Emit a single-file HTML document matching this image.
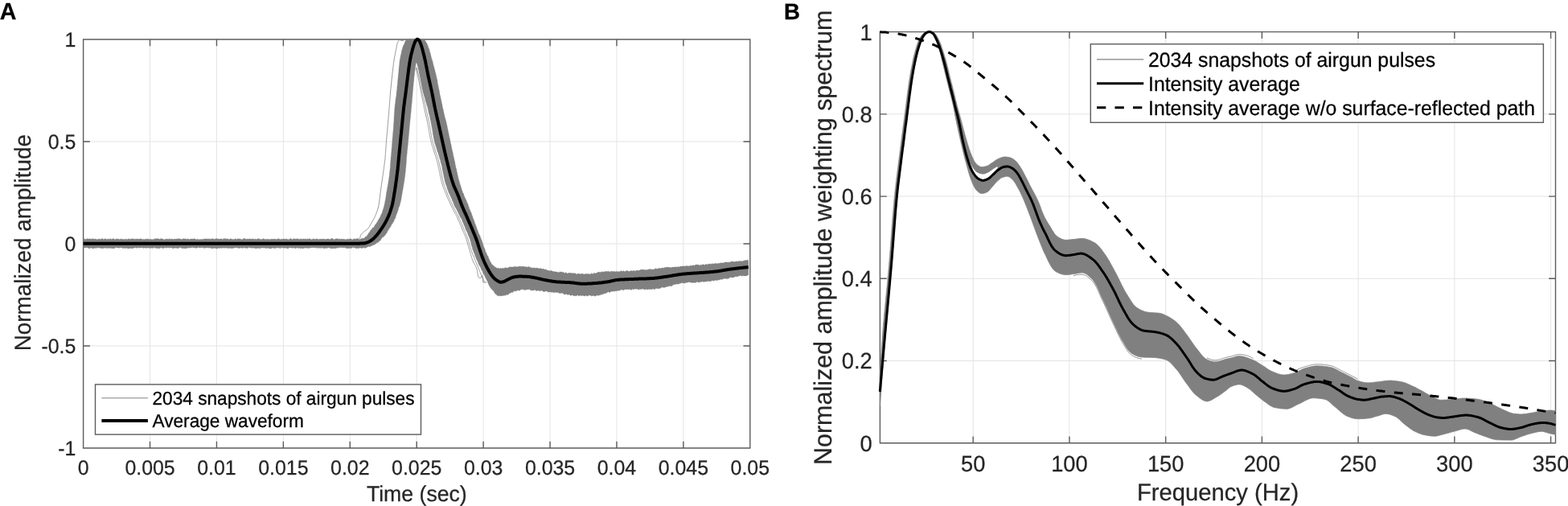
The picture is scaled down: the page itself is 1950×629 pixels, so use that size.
<!DOCTYPE html>
<html><head><meta charset="utf-8"><title>Figure</title>
<style>
html,body{margin:0;padding:0;background:#fff;}
body{width:1950px;height:629px;overflow:hidden;}
svg{display:block;}
text{font-family:'Liberation Sans', Arial, Helvetica, sans-serif;text-rendering:geometricPrecision;}
</style></head><body>
<svg width="1950" height="629" viewBox="0 0 1950 629">
<rect x="0" y="0" width="1950" height="629" fill="#ffffff"/>
<g id="panelA">
<path d="M186.52,49.0V557.0M269.44,49.0V557.0M352.36,49.0V557.0M435.28,49.0V557.0M518.20,49.0V557.0M601.12,49.0V557.0M684.04,49.0V557.0M766.96,49.0V557.0M849.88,49.0V557.0M103.6,176.00H932.8M103.6,303.00H932.8M103.6,430.00H932.8" stroke="#e3e3e3" stroke-width="0.95" fill="none"/>
<path d="M103.6,49.0H932.8V557.0H103.6ZM186.52,557.0v-8.3M186.52,49.0v8.3M269.44,557.0v-8.3M269.44,49.0v8.3M352.36,557.0v-8.3M352.36,49.0v8.3M435.28,557.0v-8.3M435.28,49.0v8.3M518.20,557.0v-8.3M518.20,49.0v8.3M601.12,557.0v-8.3M601.12,49.0v8.3M684.04,557.0v-8.3M684.04,49.0v8.3M766.96,557.0v-8.3M766.96,49.0v8.3M849.88,557.0v-8.3M849.88,49.0v8.3M103.6,176.00h8.3M932.8,176.00h-8.3M103.6,303.00h8.3M932.8,303.00h-8.3M103.6,430.00h8.3M932.8,430.00h-8.3" stroke="#5c5c5c" stroke-width="1.4" fill="none" stroke-linecap="butt"/>
<path d="M103.6,296.5 L104.8,296.7 L106.0,297.5 L107.2,297.2 L108.4,296.5 L109.6,297.0 L110.8,297.1 L112.0,296.6 L113.2,297.4 L114.4,296.6 L115.6,296.9 L116.8,297.1 L118.0,297.0 L119.2,297.2 L120.4,297.4 L121.6,297.7 L122.8,296.8 L124.0,297.3 L125.2,297.4 L126.4,296.8 L127.6,296.4 L128.8,297.8 L130.0,296.8 L131.2,296.8 L132.4,297.6 L133.7,297.2 L134.9,297.1 L136.1,297.5 L137.3,296.4 L138.5,297.4 L139.7,296.9 L140.9,296.5 L142.1,297.3 L143.3,297.7 L144.5,296.7 L145.7,297.3 L146.9,296.8 L148.1,297.4 L149.3,297.4 L150.5,296.7 L151.7,297.6 L152.9,297.3 L154.1,297.4 L155.3,297.5 L156.5,297.0 L157.7,297.5 L158.9,297.6 L160.1,296.5 L161.3,297.6 L162.5,297.0 L163.7,297.1 L164.9,296.6 L166.1,297.4 L167.3,296.8 L168.5,297.6 L169.7,296.8 L170.9,297.2 L172.1,297.0 L173.3,297.3 L174.5,296.7 L175.7,296.7 L176.9,297.4 L178.1,297.5 L179.3,297.2 L180.5,297.7 L181.7,296.7 L182.9,297.6 L184.1,296.6 L185.3,297.8 L186.5,297.3 L187.7,297.2 L188.9,297.8 L190.1,297.5 L191.4,297.5 L192.6,296.5 L193.8,296.9 L195.0,296.5 L196.2,296.7 L197.4,296.7 L198.6,297.6 L199.8,296.6 L201.0,296.8 L202.2,297.1 L203.4,297.6 L204.6,297.8 L205.8,297.4 L207.0,296.7 L208.2,297.2 L209.4,297.4 L210.6,296.5 L211.8,297.4 L213.0,296.9 L214.2,297.2 L215.4,297.3 L216.6,297.3 L217.8,297.1 L219.0,297.2 L220.2,296.7 L221.4,297.1 L222.6,296.6 L223.8,297.1 L225.0,297.2 L226.2,297.5 L227.4,297.0 L228.6,296.4 L229.8,297.1 L231.0,296.7 L232.2,297.4 L233.4,296.9 L234.6,296.9 L235.8,297.7 L237.0,297.0 L238.2,296.9 L239.4,296.9 L240.6,297.1 L241.8,296.5 L243.0,297.2 L244.2,297.7 L245.4,297.2 L246.6,297.4 L247.8,297.7 L249.1,297.6 L250.3,297.4 L251.5,297.5 L252.7,297.5 L253.9,296.8 L255.1,297.1 L256.3,296.9 L257.5,296.8 L258.7,297.2 L259.9,296.8 L261.1,297.3 L262.3,297.2 L263.5,296.5 L264.7,297.0 L265.9,296.9 L267.1,297.4 L268.3,296.5 L269.5,296.6 L270.7,297.1 L271.9,297.0 L273.1,297.3 L274.3,296.9 L275.5,296.7 L276.7,297.7 L277.9,296.7 L279.1,296.6 L280.3,296.8 L281.5,296.9 L282.7,296.7 L283.9,297.2 L285.1,297.7 L286.3,296.6 L287.5,297.0 L288.7,297.3 L289.9,297.6 L291.1,297.8 L292.3,296.6 L293.5,297.2 L294.7,297.6 L295.9,296.5 L297.1,297.2 L298.3,296.6 L299.5,297.5 L300.7,297.7 L301.9,297.2 L303.1,296.4 L304.3,296.5 L305.5,297.0 L306.8,297.6 L308.0,296.7 L309.2,297.3 L310.4,297.0 L311.6,296.8 L312.8,297.4 L314.0,296.8 L315.2,296.9 L316.4,297.5 L317.6,297.1 L318.8,297.5 L320.0,297.1 L321.2,296.6 L322.4,297.0 L323.6,297.6 L324.8,297.2 L326.0,297.8 L327.2,296.4 L328.4,296.9 L329.6,297.5 L330.8,297.4 L332.0,297.2 L333.2,297.3 L334.4,297.6 L335.6,297.4 L336.8,297.2 L338.0,297.2 L339.2,297.3 L340.4,296.9 L341.6,297.3 L342.8,297.3 L344.0,297.5 L345.2,297.1 L346.4,296.4 L347.6,297.2 L348.8,297.6 L350.0,297.3 L351.2,297.3 L352.4,296.9 L353.6,296.9 L354.8,297.4 L356.0,296.5 L357.2,297.6 L358.4,297.6 L359.6,297.7 L360.8,296.6 L362.0,296.6 L363.2,297.7 L364.5,297.0 L365.7,296.8 L366.9,296.9 L368.1,297.3 L369.3,296.6 L370.5,297.1 L371.7,297.3 L372.9,297.4 L374.1,296.4 L375.3,297.5 L376.5,297.0 L377.7,297.0 L378.9,297.2 L380.1,296.8 L381.3,297.6 L382.5,296.7 L383.7,297.2 L384.9,296.6 L386.1,297.3 L387.3,297.7 L388.5,297.6 L389.7,296.6 L390.9,297.3 L392.1,297.6 L393.3,296.7 L394.5,297.0 L395.7,297.4 L396.9,297.4 L398.1,297.0 L399.3,297.3 L400.5,297.3 L401.7,296.9 L402.9,297.3 L404.1,297.2 L405.3,297.4 L406.5,297.1 L407.8,296.9 L409.0,297.0 L410.2,297.7 L411.4,296.7 L412.6,296.6 L413.8,296.4 L415.0,297.6 L416.2,297.8 L417.4,296.7 L418.7,296.8 L419.9,296.7 L421.1,297.2 L422.3,297.1 L423.5,297.5 L424.7,296.7 L425.9,297.6 L427.1,297.0 L428.3,297.5 L429.5,297.5 L430.7,297.7 L431.9,297.1 L433.1,297.3 L434.3,297.2 L435.5,296.7 L436.7,297.1 L437.9,297.7 L439.1,297.7 L440.3,296.4 L441.5,297.3 L442.7,296.9 L443.8,296.6 L445.0,296.6 L446.2,297.5 L447.4,297.7 L448.6,296.9 L449.9,296.4 L451.1,296.2 L452.3,296.2 L453.4,295.7 L454.4,294.2 L455.3,293.9 L456.0,294.0 L456.7,292.4 L457.4,291.6 L458.0,290.6 L458.7,289.4 L459.5,288.6 L460.2,287.4 L461.0,286.0 L461.7,285.0 L462.5,285.2 L463.3,282.9 L464.1,283.0 L465.0,282.4 L465.8,280.6 L466.5,279.4 L467.2,278.9 L467.8,277.8 L468.4,277.0 L469.0,275.9 L469.6,275.5 L470.2,273.3 L470.9,273.5 L471.5,271.2 L472.1,271.4 L472.7,269.5 L473.2,269.0 L473.7,266.9 L474.2,266.4 L474.6,265.6 L475.1,264.4 L475.5,263.5 L475.9,261.5 L476.3,260.7 L476.7,259.8 L477.0,257.9 L477.4,257.8 L477.7,256.1 L478.0,254.7 L478.2,253.5 L478.5,252.9 L478.7,250.9 L478.9,250.0 L479.2,248.9 L479.4,247.6 L479.6,247.1 L479.8,245.7 L479.9,245.0 L480.1,243.5 L480.3,241.8 L480.5,240.6 L480.7,239.1 L480.9,238.1 L481.1,237.4 L481.3,236.4 L481.5,234.6 L481.7,233.5 L481.9,233.0 L482.1,232.0 L482.4,229.6 L482.6,228.4 L482.8,228.2 L482.9,226.6 L483.1,225.3 L483.3,224.4 L483.5,223.4 L483.6,221.3 L483.8,221.3 L484.0,220.1 L484.1,218.2 L484.3,217.1 L484.4,215.6 L484.5,214.8 L484.7,213.1 L484.8,212.4 L484.9,211.7 L485.0,209.9 L485.2,209.2 L485.3,207.1 L485.4,206.9 L485.4,204.6 L485.5,203.5 L485.6,203.1 L485.7,201.3 L485.8,199.8 L485.9,198.6 L486.0,198.4 L486.1,196.1 L486.2,194.9 L486.3,195.0 L486.4,193.6 L486.5,191.8 L486.6,190.3 L486.7,190.1 L486.8,188.8 L486.9,187.4 L487.0,186.0 L487.1,184.8 L487.2,184.3 L487.3,182.4 L487.4,180.6 L487.5,179.4 L487.6,178.9 L487.7,177.9 L487.8,176.6 L487.9,175.5 L488.0,173.7 L488.1,172.6 L488.2,171.3 L488.3,170.2 L488.4,168.9 L488.5,168.5 L488.6,166.3 L488.7,165.2 L488.8,164.7 L488.9,163.1 L489.0,161.8 L489.1,161.5 L489.2,160.2 L489.3,158.0 L489.4,156.7 L489.5,156.0 L489.5,154.9 L489.6,153.4 L489.7,152.6 L489.8,151.5 L489.9,150.5 L489.9,148.5 L490.0,147.8 L490.1,145.8 L490.1,144.6 L490.2,143.4 L490.3,142.3 L490.3,142.0 L490.4,140.2 L490.5,139.2 L490.6,138.0 L490.7,136.4 L490.7,135.0 L490.8,134.0 L491.0,133.7 L491.1,131.8 L491.2,130.7 L491.3,129.3 L491.5,128.8 L491.6,127.6 L491.8,125.9 L491.9,124.9 L492.1,123.5 L492.2,122.6 L492.4,121.4 L492.6,120.2 L492.7,119.5 L492.9,118.4 L493.0,115.9 L493.2,115.2 L493.3,113.5 L493.4,112.8 L493.6,112.2 L493.7,110.8 L493.8,109.5 L493.9,107.6 L494.0,107.4 L494.2,105.9 L494.3,104.3 L494.4,103.8 L494.5,101.5 L494.6,100.6 L494.7,100.2 L494.9,98.0 L495.0,96.9 L495.1,96.2 L495.2,95.3 L495.3,93.9 L495.4,92.0 L495.6,91.1 L495.7,90.5 L495.8,88.8 L495.9,87.4 L496.0,85.9 L496.1,85.1 L496.2,84.8 L496.3,82.4 L496.4,81.9 L496.5,81.2 L496.7,79.7 L496.8,77.9 L496.9,77.3 L497.1,75.3 L497.2,74.7 L497.4,73.2 L497.6,72.8 L497.8,71.6 L498.1,70.3 L498.3,68.6 L498.6,68.0 L498.9,67.1 L499.2,65.1 L499.4,64.1 L499.8,62.4 L500.1,61.2 L500.4,60.9 L500.7,58.8 L501.1,58.4 L501.5,56.6 L501.9,56.2 L502.4,55.2 L502.9,54.4 L503.4,52.5 L504.0,51.3 L504.7,50.2 L505.5,49.8 L506.4,49.6 L507.4,48.6 L508.5,48.7 L509.6,48.2 L510.9,48.4 L512.2,49.0 L513.5,49.3 L514.8,49.3 L516.1,48.0 L517.3,48.5 L518.5,49.1 L519.8,48.7 L521.1,48.5 L522.4,49.2 L523.7,49.4 L524.9,48.5 L526.0,49.1 L527.0,48.8 L527.8,49.1 L528.7,50.5 L529.4,51.2 L530.1,53.2 L530.7,53.6 L531.2,54.4 L531.7,56.1 L532.1,56.8 L532.5,57.6 L532.9,60.1 L533.3,60.1 L533.7,61.1 L534.1,62.8 L534.4,63.3 L534.8,65.5 L535.1,65.7 L535.4,66.8 L535.8,69.2 L536.1,69.8 L536.4,71.5 L536.7,72.6 L537.0,73.6 L537.3,73.7 L537.6,75.7 L538.0,76.1 L538.3,77.2 L538.6,79.5 L538.9,79.9 L539.2,81.7 L539.6,82.5 L539.9,84.1 L540.2,85.0 L540.5,86.6 L540.8,87.1 L541.1,88.8 L541.4,89.9 L541.7,90.8 L542.0,91.8 L542.2,92.9 L542.5,94.4 L542.8,94.9 L543.0,96.4 L543.3,97.9 L543.5,98.6 L543.8,99.6 L544.0,100.7 L544.2,102.8 L544.4,104.1 L544.7,105.2 L544.9,106.2 L545.1,107.3 L545.3,107.7 L545.6,110.0 L545.8,110.6 L546.0,112.1 L546.3,112.5 L546.5,114.5 L546.7,114.9 L547.0,117.2 L547.2,118.0 L547.4,119.0 L547.7,120.3 L547.9,120.9 L548.2,122.4 L548.4,123.0 L548.6,124.5 L548.9,125.7 L549.1,126.7 L549.4,128.2 L549.6,128.9 L549.9,130.0 L550.1,131.6 L550.4,133.7 L550.6,134.5 L550.9,135.3 L551.2,136.1 L551.4,137.2 L551.7,138.8 L552.0,140.3 L552.3,141.7 L552.6,142.3 L552.8,144.1 L553.1,145.2 L553.4,146.4 L553.7,146.8 L554.0,148.2 L554.3,148.9 L554.6,150.7 L554.9,151.1 L555.1,152.9 L555.4,153.6 L555.7,155.2 L555.9,156.0 L556.2,156.9 L556.4,158.7 L556.7,159.8 L556.9,161.2 L557.2,161.8 L557.4,163.5 L557.7,164.4 L557.9,165.2 L558.2,166.9 L558.4,168.4 L558.7,169.1 L558.9,170.8 L559.2,172.1 L559.4,172.2 L559.7,173.7 L559.9,174.9 L560.2,176.5 L560.4,177.6 L560.7,178.9 L560.9,179.3 L561.2,180.8 L561.4,181.8 L561.7,183.8 L561.9,184.9 L562.2,185.5 L562.4,187.5 L562.7,187.7 L563.0,188.7 L563.2,190.3 L563.5,191.9 L563.7,193.5 L564.0,194.0 L564.2,194.7 L564.5,196.5 L564.8,196.9 L565.0,199.2 L565.3,199.7 L565.5,200.5 L565.8,201.8 L566.0,203.9 L566.3,205.2 L566.5,205.4 L566.8,207.7 L567.0,208.7 L567.3,209.1 L567.5,209.9 L567.8,211.2 L568.0,212.8 L568.3,213.6 L568.6,214.8 L568.8,216.1 L569.1,218.1 L569.4,218.1 L569.7,220.5 L570.0,221.0 L570.3,222.6 L570.6,223.4 L570.9,225.2 L571.2,225.3 L571.5,226.5 L571.8,228.0 L572.2,229.2 L572.5,230.1 L572.9,231.2 L573.3,232.0 L573.7,233.7 L574.1,235.3 L574.5,236.5 L574.9,237.0 L575.3,238.9 L575.8,240.0 L576.2,240.2 L576.7,241.0 L577.1,243.1 L577.6,244.4 L578.1,245.1 L578.5,246.7 L579.0,247.1 L579.5,248.3 L579.9,248.8 L580.4,250.3 L580.8,252.2 L581.3,252.1 L581.7,253.3 L582.2,254.3 L582.6,256.0 L583.1,257.3 L583.5,258.3 L583.9,259.9 L584.4,260.8 L584.8,261.8 L585.2,262.9 L585.7,263.9 L586.1,264.4 L586.5,265.6 L586.9,267.5 L587.4,268.0 L587.8,269.4 L588.2,270.9 L588.6,271.9 L589.0,272.5 L589.4,273.7 L589.8,274.7 L590.2,276.5 L590.6,277.7 L591.0,278.1 L591.4,279.4 L591.9,280.3 L592.3,282.1 L592.7,282.8 L593.1,284.7 L593.6,285.0 L594.0,286.6 L594.5,287.7 L594.9,289.3 L595.4,290.1 L595.9,291.5 L596.3,292.1 L596.8,292.4 L597.3,294.0 L597.7,295.7 L598.1,296.2 L598.6,297.8 L599.0,298.2 L599.4,300.0 L599.8,300.8 L600.2,302.7 L600.5,302.6 L600.9,304.2 L601.3,305.9 L601.7,306.5 L602.1,307.8 L602.5,308.7 L602.9,309.5 L603.4,310.9 L603.8,312.8 L604.3,313.7 L604.8,314.2 L605.3,315.8 L605.8,317.1 L606.4,318.1 L606.9,318.2 L607.4,319.4 L607.9,321.7 L608.4,321.8 L608.9,323.6 L609.4,324.5 L609.9,325.9 L610.5,325.9 L611.2,328.0 L611.9,328.9 L612.7,329.0 L613.6,330.5 L614.5,330.4 L615.4,332.2 L616.4,332.1 L617.5,333.0 L618.7,333.6 L619.9,332.9 L621.1,334.3 L622.3,333.3 L623.5,333.4 L624.6,333.7 L625.8,333.2 L627.0,333.5 L628.2,332.6 L629.4,333.0 L630.6,333.0 L631.8,333.1 L633.0,332.1 L634.2,331.7 L635.4,331.9 L636.5,331.8 L637.7,332.1 L638.9,331.6 L640.1,331.4 L641.3,331.2 L642.5,331.8 L643.7,331.7 L644.9,330.9 L646.1,331.2 L647.4,331.0 L648.6,331.5 L649.8,331.3 L651.0,331.0 L652.2,331.6 L653.4,331.8 L654.6,331.5 L655.7,332.3 L656.9,331.4 L658.1,331.5 L659.3,332.6 L660.5,332.5 L661.7,332.9 L662.9,333.2 L664.1,332.8 L665.3,333.3 L666.5,333.2 L667.7,333.1 L668.9,333.3 L670.1,334.1 L671.3,333.4 L672.5,333.7 L673.6,334.1 L674.8,334.6 L676.0,334.0 L677.1,335.2 L678.3,334.6 L679.5,335.4 L680.6,335.8 L681.8,336.3 L683.0,336.5 L684.2,336.8 L685.3,336.2 L686.5,336.8 L687.7,337.6 L688.9,337.3 L690.1,338.0 L691.3,337.8 L692.5,338.0 L693.7,338.3 L694.8,338.9 L696.0,337.7 L697.2,338.0 L698.4,338.1 L699.6,338.4 L700.8,338.2 L702.0,339.7 L703.2,338.6 L704.4,339.2 L705.6,339.9 L706.8,339.4 L708.0,339.2 L709.2,339.3 L710.4,339.6 L711.6,339.5 L712.8,339.8 L714.0,339.8 L715.2,339.4 L716.4,340.6 L717.6,340.8 L718.8,340.3 L720.0,339.7 L721.2,340.9 L722.4,340.2 L723.6,340.3 L724.8,340.2 L726.0,341.1 L727.2,340.8 L728.4,340.3 L729.6,340.4 L730.8,340.5 L732.0,340.4 L733.2,340.7 L734.4,340.9 L735.6,339.5 L736.8,340.4 L738.0,340.2 L739.2,339.1 L740.3,339.9 L741.5,339.6 L742.7,339.1 L743.9,338.0 L745.1,338.3 L746.3,338.6 L747.5,338.2 L748.7,337.4 L749.9,338.3 L751.1,337.8 L752.3,337.5 L753.5,337.6 L754.7,337.2 L755.9,337.5 L757.1,337.0 L758.3,338.4 L759.5,337.1 L760.7,337.4 L761.9,337.3 L763.1,337.5 L764.3,337.3 L765.5,338.0 L766.7,337.0 L767.9,338.1 L769.1,337.2 L770.3,337.9 L771.5,337.0 L772.7,336.6 L773.9,337.6 L775.1,336.6 L776.3,337.3 L777.5,337.5 L778.7,336.5 L779.9,336.6 L781.1,336.9 L782.3,337.2 L783.5,337.1 L784.7,336.6 L785.9,336.6 L787.1,336.9 L788.3,335.9 L789.5,336.9 L790.7,336.7 L791.9,335.8 L793.1,336.2 L794.3,336.3 L795.5,336.1 L796.7,335.2 L797.9,335.1 L799.1,335.2 L800.3,334.9 L801.5,335.4 L802.7,335.6 L803.9,335.3 L805.1,335.6 L806.3,334.9 L807.5,334.8 L808.7,334.2 L809.9,335.3 L811.1,334.8 L812.3,335.1 L813.5,334.9 L814.7,333.6 L815.9,334.2 L817.1,334.0 L818.3,334.2 L819.5,333.1 L820.7,333.8 L821.9,333.6 L823.0,333.2 L824.2,332.7 L825.4,333.4 L826.6,332.3 L827.8,332.6 L829.0,332.1 L830.2,332.3 L831.4,332.1 L832.6,332.5 L833.8,332.5 L835.0,332.4 L836.2,331.9 L837.4,332.3 L838.6,332.0 L839.8,331.7 L841.0,332.0 L842.2,332.1 L843.4,331.3 L844.6,331.9 L845.8,331.3 L847.0,330.9 L848.2,330.9 L849.4,331.0 L850.6,330.5 L851.8,331.2 L853.0,330.4 L854.2,330.6 L855.4,330.8 L856.6,330.7 L857.8,330.4 L859.0,330.3 L860.2,330.3 L861.4,330.0 L862.6,329.6 L863.8,330.2 L864.9,329.1 L866.1,329.0 L867.3,329.1 L868.5,328.9 L869.7,329.9 L870.9,329.2 L872.1,329.6 L873.3,329.0 L874.5,328.5 L875.7,329.3 L876.9,329.2 L878.1,328.1 L879.3,328.9 L880.5,328.5 L881.7,327.9 L882.9,328.0 L884.1,328.4 L885.3,327.6 L886.5,328.0 L887.7,327.8 L888.9,327.7 L890.1,327.1 L891.3,327.9 L892.5,327.3 L893.7,327.4 L894.9,327.2 L896.1,326.7 L897.3,327.1 L898.5,326.5 L899.7,327.1 L900.9,326.3 L902.1,325.8 L903.3,326.1 L904.5,325.9 L905.7,326.6 L906.9,325.5 L908.0,326.2 L909.2,324.9 L910.4,325.0 L911.6,325.1 L912.8,325.6 L914.0,325.3 L915.2,324.9 L916.4,324.8 L917.6,325.3 L918.8,324.3 L920.0,325.0 L921.2,324.3 L922.4,324.7 L923.6,324.7 L924.8,324.1 L926.0,323.7 L927.2,323.6 L928.4,323.5 L929.6,323.2 L930.8,323.6 L930.8,342.3 L929.6,342.1 L928.4,343.0 L927.2,343.1 L926.0,343.0 L924.8,343.1 L923.6,342.6 L922.4,343.4 L921.2,342.6 L920.0,342.7 L918.9,342.9 L917.7,343.4 L916.5,344.2 L915.3,343.4 L914.1,344.1 L912.9,344.6 L911.7,345.1 L910.6,345.0 L909.4,344.8 L908.2,344.8 L907.0,345.6 L905.9,346.3 L904.7,346.6 L903.5,346.6 L902.3,346.2 L901.1,346.2 L900.0,346.4 L898.8,346.9 L897.6,347.5 L896.4,347.1 L895.2,347.9 L894.0,347.7 L892.8,348.5 L891.6,348.3 L890.4,348.8 L889.2,348.2 L888.1,348.8 L886.9,349.4 L885.7,348.3 L884.5,349.8 L883.3,349.4 L882.1,350.1 L880.9,349.3 L879.7,349.7 L878.5,350.1 L877.3,350.0 L876.1,350.2 L874.9,350.6 L873.7,349.7 L872.5,350.6 L871.3,350.3 L870.1,351.0 L868.9,351.1 L867.7,350.5 L866.5,350.4 L865.3,351.3 L864.1,351.4 L862.9,351.2 L861.7,351.4 L860.5,351.6 L859.3,351.0 L858.1,350.9 L856.9,350.5 L855.7,351.1 L854.5,350.9 L853.3,351.7 L852.1,351.6 L850.9,352.2 L849.7,352.0 L848.5,351.5 L847.3,351.8 L846.2,352.2 L845.0,352.5 L843.8,353.3 L842.6,353.1 L841.5,353.0 L840.3,353.2 L839.1,354.0 L838.0,353.6 L836.8,354.4 L835.6,355.4 L834.5,355.7 L833.3,355.5 L832.1,355.8 L831.0,355.8 L829.8,356.4 L828.6,356.5 L827.4,357.0 L826.3,357.6 L825.1,357.6 L823.9,356.9 L822.7,357.2 L821.5,358.2 L820.3,358.8 L819.1,358.5 L818.0,359.0 L816.8,358.4 L815.6,358.5 L814.4,359.7 L813.2,359.6 L812.0,359.1 L810.8,359.7 L809.6,359.5 L808.4,359.7 L807.2,359.5 L806.0,359.7 L804.8,360.1 L803.6,359.4 L802.4,359.8 L801.2,360.2 L800.0,358.9 L798.8,359.2 L797.6,359.4 L796.4,359.7 L795.2,359.6 L794.0,360.3 L792.8,359.2 L791.6,359.4 L790.4,359.1 L789.1,359.3 L787.9,359.9 L786.7,359.1 L785.5,360.4 L784.3,360.2 L783.1,359.3 L781.9,360.3 L780.7,359.4 L779.5,360.0 L778.4,359.7 L777.2,359.7 L776.0,360.3 L774.8,360.9 L773.6,359.9 L772.4,360.2 L771.2,360.8 L770.0,361.6 L768.8,360.9 L767.6,361.8 L766.4,361.6 L765.2,361.7 L764.0,362.3 L762.8,361.7 L761.7,362.4 L760.5,362.0 L759.3,362.9 L758.1,363.8 L756.9,362.7 L755.8,363.0 L754.6,363.9 L753.4,364.7 L752.3,364.6 L751.1,365.6 L750.0,365.1 L748.8,366.5 L747.7,365.8 L746.5,367.0 L745.4,366.7 L744.2,367.7 L743.0,366.8 L741.9,367.3 L740.7,368.2 L739.5,368.0 L738.3,367.6 L737.1,367.4 L735.9,368.2 L734.7,367.2 L733.5,367.2 L732.3,367.0 L731.1,367.8 L729.9,368.2 L728.7,367.1 L727.5,368.0 L726.3,368.0 L725.1,367.2 L723.9,367.6 L722.7,367.7 L721.4,367.0 L720.2,368.2 L719.0,367.1 L717.8,367.1 L716.6,367.9 L715.5,367.6 L714.3,367.9 L713.1,367.6 L711.9,366.7 L710.7,367.0 L709.5,367.6 L708.3,366.4 L707.1,366.0 L705.9,366.8 L704.8,365.4 L703.6,365.6 L702.4,366.2 L701.2,365.8 L700.0,364.5 L698.8,364.2 L697.6,364.5 L696.5,364.6 L695.3,364.6 L694.1,363.6 L692.9,363.7 L691.7,363.6 L690.5,363.3 L689.3,363.7 L688.1,363.4 L686.9,363.1 L685.7,363.5 L684.5,362.7 L683.3,363.1 L682.1,363.2 L680.9,362.5 L679.7,361.9 L678.5,361.7 L677.3,362.7 L676.1,362.6 L675.0,362.3 L673.8,361.1 L672.6,361.2 L671.4,362.0 L670.2,361.3 L669.0,360.9 L667.8,361.5 L666.6,361.4 L665.4,360.3 L664.2,360.8 L663.0,360.9 L661.8,360.9 L660.6,360.9 L659.4,360.6 L658.2,359.6 L657.0,359.9 L655.8,359.7 L654.6,360.3 L653.4,360.2 L652.2,360.8 L651.0,359.8 L649.8,359.8 L648.6,359.8 L647.4,360.2 L646.2,361.3 L645.0,361.1 L643.9,360.7 L642.7,361.4 L641.5,361.9 L640.4,361.8 L639.2,361.8 L638.1,363.2 L637.0,363.4 L635.9,363.2 L634.8,364.4 L633.8,364.5 L632.7,365.5 L631.6,366.4 L630.5,366.6 L629.4,366.5 L628.2,367.4 L627.0,367.0 L625.8,367.7 L624.6,367.4 L623.4,367.9 L622.2,367.8 L620.9,367.7 L619.8,367.8 L618.8,367.5 L617.8,367.1 L616.8,365.3 L615.9,365.4 L615.0,364.0 L614.2,362.3 L613.4,361.3 L612.6,360.7 L611.9,360.0 L611.2,359.3 L610.5,358.6 L609.9,357.5 L609.2,356.6 L608.6,355.5 L608.1,354.5 L607.5,353.6 L607.0,352.1 L606.5,350.2 L606.0,349.7 L605.5,348.5 L604.9,347.7 L604.4,346.1 L603.9,345.9 L603.3,343.9 L602.8,343.1 L602.2,341.6 L601.7,341.6 L601.2,340.5 L600.6,339.5 L600.1,337.4 L599.6,336.5 L599.0,336.2 L598.5,335.1 L597.9,332.9 L597.4,332.4 L596.9,330.7 L596.3,330.7 L595.8,329.6 L595.3,328.7 L594.8,327.4 L594.3,325.8 L593.8,324.6 L593.3,323.9 L592.8,322.5 L592.3,322.1 L591.9,320.3 L591.4,319.2 L591.0,318.8 L590.5,316.7 L590.1,315.7 L589.6,314.2 L589.2,314.3 L588.8,312.6 L588.4,311.3 L588.0,310.8 L587.6,309.7 L587.3,307.6 L586.9,306.3 L586.6,306.2 L586.3,305.2 L586.0,303.4 L585.7,302.5 L585.4,300.4 L585.0,299.9 L584.7,298.1 L584.3,297.1 L583.9,295.8 L583.5,295.4 L583.1,294.3 L582.6,293.0 L582.2,292.3 L581.7,290.3 L581.2,289.4 L580.8,288.2 L580.3,287.6 L579.8,286.8 L579.3,284.9 L578.9,284.8 L578.4,282.9 L577.9,281.6 L577.5,280.6 L577.0,280.2 L576.5,278.0 L576.1,277.5 L575.6,276.2 L575.1,275.4 L574.7,274.1 L574.2,272.6 L573.7,271.6 L573.2,271.6 L572.7,270.0 L572.2,269.4 L571.6,268.4 L571.1,266.8 L570.5,266.2 L569.9,264.4 L569.4,263.2 L568.8,262.8 L568.2,261.1 L567.6,260.0 L567.1,259.2 L566.6,258.0 L566.0,257.7 L565.5,256.5 L565.0,255.2 L564.5,254.4 L564.0,252.4 L563.5,251.3 L563.0,250.3 L562.5,249.6 L562.0,247.7 L561.5,246.7 L561.0,245.8 L560.5,244.5 L560.0,243.6 L559.5,242.2 L559.1,241.4 L558.6,240.5 L558.1,239.5 L557.7,238.8 L557.3,236.9 L556.8,235.9 L556.4,235.5 L556.0,233.2 L555.6,232.7 L555.2,231.0 L554.9,229.8 L554.5,229.8 L554.2,228.4 L553.8,227.0 L553.5,226.3 L553.2,225.3 L552.9,223.7 L552.7,222.3 L552.4,220.5 L552.1,220.7 L551.9,219.3 L551.6,217.1 L551.4,216.4 L551.1,215.0 L550.9,214.8 L550.6,212.7 L550.4,211.3 L550.1,211.2 L549.9,209.1 L549.7,207.7 L549.4,206.4 L549.1,205.4 L548.9,204.6 L548.6,203.2 L548.3,202.6 L548.0,201.7 L547.7,199.5 L547.4,198.2 L547.1,198.1 L546.7,196.8 L546.4,195.9 L546.0,193.7 L545.6,193.4 L545.3,191.7 L544.9,190.4 L544.5,189.5 L544.2,189.0 L543.8,187.8 L543.4,186.7 L543.1,184.8 L542.7,183.9 L542.3,182.4 L541.9,181.3 L541.6,181.0 L541.2,178.8 L540.9,178.8 L540.6,177.7 L540.3,175.8 L540.0,174.9 L539.8,174.2 L539.5,172.7 L539.3,171.6 L539.1,170.4 L538.8,168.2 L538.6,168.1 L538.4,166.8 L538.2,165.1 L538.0,163.5 L537.9,162.7 L537.7,161.8 L537.5,160.4 L537.3,159.5 L537.1,158.0 L536.8,157.3 L536.6,156.4 L536.4,153.9 L536.2,153.6 L535.9,152.7 L535.7,150.4 L535.4,149.9 L535.2,149.2 L534.9,147.8 L534.7,146.2 L534.4,145.0 L534.2,143.4 L533.9,142.9 L533.6,142.1 L533.3,141.0 L533.1,139.7 L532.8,138.2 L532.5,136.7 L532.2,135.5 L531.9,134.2 L531.6,133.3 L531.3,131.7 L531.0,131.1 L530.6,130.4 L530.3,128.7 L530.0,128.2 L529.6,126.7 L529.3,125.8 L528.9,125.0 L528.6,122.6 L528.2,121.9 L527.9,120.4 L527.5,119.2 L527.2,118.8 L526.9,116.7 L526.6,116.3 L526.3,115.6 L526.0,113.8 L525.7,113.0 L525.4,111.0 L525.2,110.7 L524.9,109.6 L524.7,108.1 L524.5,107.4 L524.2,105.7 L524.0,104.6 L523.8,102.6 L523.6,102.6 L523.3,100.7 L523.1,100.0 L522.9,98.6 L522.7,96.9 L522.4,96.2 L522.2,95.6 L521.9,94.1 L521.7,92.1 L521.5,91.5 L521.2,90.9 L521.0,88.5 L520.7,87.3 L520.5,87.2 L520.2,85.7 L520.0,84.8 L519.7,83.0 L519.4,82.2 L519.1,80.4 L518.7,79.2 L518.3,78.4 L517.9,78.0 L517.6,78.3 L517.2,79.1 L517.0,80.3 L516.8,82.5 L516.6,83.1 L516.4,84.1 L516.3,85.4 L516.1,87.5 L516.0,88.1 L515.8,88.8 L515.7,90.0 L515.6,91.1 L515.4,93.5 L515.3,94.0 L515.2,95.2 L515.0,95.8 L514.9,97.3 L514.8,99.3 L514.7,100.5 L514.5,101.2 L514.4,102.1 L514.3,104.3 L514.2,104.6 L514.1,105.7 L514.0,106.7 L513.8,108.4 L513.7,110.1 L513.6,110.9 L513.5,112.5 L513.4,113.0 L513.3,114.7 L513.2,115.2 L513.1,116.7 L513.0,117.7 L512.9,118.9 L512.8,120.8 L512.7,121.2 L512.6,122.8 L512.5,123.8 L512.4,125.7 L512.3,126.0 L512.2,127.4 L512.1,129.1 L511.9,129.7 L511.8,131.5 L511.7,133.1 L511.6,133.4 L511.5,134.8 L511.4,135.3 L511.3,137.6 L511.2,138.2 L511.1,139.7 L510.9,140.3 L510.8,142.2 L510.7,143.1 L510.6,145.0 L510.5,146.2 L510.3,146.8 L510.2,147.5 L510.1,148.8 L510.0,150.4 L509.8,151.9 L509.7,153.3 L509.6,154.4 L509.5,155.5 L509.4,156.2 L509.3,157.6 L509.2,158.4 L509.1,160.0 L509.0,160.9 L508.9,162.4 L508.8,162.8 L508.7,164.1 L508.6,166.1 L508.5,167.0 L508.4,167.9 L508.2,170.1 L508.1,170.0 L508.0,172.5 L507.9,173.6 L507.8,173.6 L507.7,176.0 L507.6,177.0 L507.5,177.5 L507.4,179.3 L507.2,180.9 L507.1,180.8 L507.0,182.4 L506.9,183.3 L506.8,185.6 L506.6,185.7 L506.5,186.9 L506.4,188.1 L506.3,190.3 L506.2,190.6 L506.0,192.9 L505.9,192.8 L505.8,194.5 L505.7,195.3 L505.6,196.6 L505.5,197.8 L505.5,199.5 L505.4,200.2 L505.3,201.6 L505.2,203.5 L505.1,204.3 L505.0,204.7 L504.9,206.3 L504.8,208.0 L504.7,208.7 L504.6,209.6 L504.5,210.8 L504.4,212.4 L504.2,213.9 L504.1,214.9 L504.0,215.8 L503.8,216.9 L503.7,218.3 L503.5,220.3 L503.4,220.3 L503.2,221.5 L503.0,222.7 L502.9,224.6 L502.7,225.0 L502.5,226.6 L502.3,227.8 L502.1,229.2 L501.9,230.3 L501.7,232.1 L501.5,232.5 L501.3,233.5 L501.1,235.6 L500.9,236.0 L500.7,237.0 L500.5,238.1 L500.2,240.6 L500.0,241.3 L499.8,242.5 L499.6,242.9 L499.4,245.1 L499.2,245.2 L499.0,247.3 L498.8,248.7 L498.5,249.4 L498.3,250.1 L498.0,252.4 L497.7,252.3 L497.4,253.8 L497.1,255.4 L496.7,256.5 L496.3,257.0 L495.9,258.3 L495.5,259.6 L495.1,261.6 L494.7,262.7 L494.3,262.6 L494.0,264.8 L493.6,265.3 L493.2,266.2 L492.8,267.6 L492.4,268.2 L492.0,270.3 L491.6,271.4 L491.1,271.9 L490.6,272.6 L490.0,274.7 L489.4,276.1 L488.8,275.9 L488.2,278.1 L487.5,278.6 L486.9,279.2 L486.3,280.9 L485.7,282.0 L485.1,282.5 L484.5,283.8 L483.9,284.3 L483.2,285.9 L482.6,286.3 L481.9,287.6 L481.3,289.2 L480.6,290.1 L479.9,290.9 L479.1,292.2 L478.4,293.0 L477.6,293.7 L476.8,294.7 L476.0,294.8 L475.2,295.6 L474.3,296.7 L473.5,298.3 L472.6,299.4 L471.8,299.2 L470.9,301.1 L469.9,301.6 L469.0,301.4 L468.0,302.6 L467.0,302.9 L465.9,304.2 L464.9,304.2 L463.8,304.8 L462.7,305.5 L461.6,305.5 L460.4,306.6 L459.3,306.7 L458.1,306.3 L456.9,307.3 L455.8,307.4 L454.6,308.3 L453.4,308.5 L452.2,307.4 L451.0,308.5 L449.8,308.4 L448.6,308.3 L447.4,307.8 L446.2,308.9 L445.0,308.5 L443.8,308.5 L442.6,308.9 L441.4,307.8 L440.2,308.1 L439.0,307.6 L437.8,308.0 L436.6,309.0 L435.4,308.1 L434.2,308.8 L433.0,308.8 L431.8,308.4 L430.6,308.8 L429.4,307.9 L428.2,307.7 L427.0,307.9 L425.8,307.7 L424.6,307.7 L423.4,307.7 L422.2,307.7 L421.0,307.8 L419.8,308.4 L418.6,308.0 L417.4,309.0 L416.2,308.5 L415.0,308.9 L413.8,308.6 L412.6,308.9 L411.4,308.9 L410.1,308.1 L408.9,307.9 L407.7,307.7 L406.5,309.0 L405.3,307.9 L404.1,309.0 L402.9,308.6 L401.7,308.7 L400.5,307.6 L399.3,308.9 L398.1,307.7 L396.9,308.7 L395.7,307.6 L394.5,308.9 L393.3,307.7 L392.1,307.8 L390.9,308.2 L389.7,307.8 L388.5,307.8 L387.3,308.1 L386.1,307.7 L384.9,308.4 L383.7,308.6 L382.5,308.3 L381.3,308.4 L380.1,307.9 L378.9,308.3 L377.7,308.5 L376.5,308.9 L375.3,308.3 L374.1,309.0 L372.9,308.2 L371.7,308.4 L370.5,308.6 L369.3,307.7 L368.1,308.8 L366.9,308.8 L365.7,307.8 L364.5,308.5 L363.3,308.2 L362.1,307.9 L360.9,307.9 L359.7,307.8 L358.5,308.9 L357.2,308.8 L356.0,308.6 L354.8,307.9 L353.6,308.6 L352.4,308.0 L351.2,308.3 L350.0,307.6 L348.8,308.9 L347.6,308.1 L346.4,308.6 L345.2,307.8 L344.0,307.9 L342.8,308.7 L341.6,308.6 L340.4,308.5 L339.2,308.1 L338.0,308.5 L336.8,308.9 L335.6,308.8 L334.4,308.7 L333.2,308.2 L332.0,308.2 L330.8,308.9 L329.6,308.0 L328.4,308.3 L327.2,307.9 L326.0,308.2 L324.8,307.9 L323.6,308.8 L322.4,308.9 L321.2,308.1 L320.0,308.7 L318.8,308.7 L317.6,308.8 L316.4,308.6 L315.2,307.9 L314.0,308.5 L312.8,308.0 L311.6,308.3 L310.4,307.7 L309.2,307.6 L308.0,308.9 L306.8,308.2 L305.6,308.3 L304.4,308.5 L303.2,307.6 L302.0,308.5 L300.7,308.6 L299.5,307.7 L298.3,308.7 L297.1,308.3 L295.9,308.3 L294.7,308.0 L293.5,307.7 L292.3,307.9 L291.1,307.9 L289.9,308.7 L288.7,308.5 L287.5,308.9 L286.3,307.9 L285.1,308.7 L283.9,308.5 L282.7,308.2 L281.5,308.6 L280.3,307.8 L279.1,308.6 L277.9,308.0 L276.7,308.3 L275.5,308.5 L274.3,307.9 L273.1,309.0 L271.9,307.8 L270.7,308.9 L269.5,309.0 L268.3,308.7 L267.1,308.2 L265.9,308.7 L264.7,308.5 L263.5,309.0 L262.3,308.6 L261.1,307.8 L259.9,308.4 L258.7,307.7 L257.5,308.3 L256.3,307.8 L255.1,308.3 L253.9,308.7 L252.7,307.6 L251.5,308.1 L250.3,307.7 L249.1,308.0 L247.9,308.1 L246.7,307.6 L245.5,308.0 L244.2,308.5 L243.0,308.2 L241.8,307.8 L240.6,308.2 L239.4,307.6 L238.2,307.8 L237.0,308.2 L235.8,307.8 L234.6,308.4 L233.4,307.8 L232.2,308.7 L231.0,308.8 L229.8,308.8 L228.6,308.7 L227.4,308.4 L226.2,308.8 L225.0,307.8 L223.8,307.7 L222.6,308.1 L221.4,309.0 L220.2,308.3 L219.0,308.4 L217.8,308.0 L216.6,308.4 L215.4,308.7 L214.2,308.4 L213.0,307.7 L211.8,308.1 L210.6,308.2 L209.4,307.8 L208.2,307.7 L207.0,308.6 L205.8,307.6 L204.6,308.0 L203.4,308.5 L202.2,308.7 L201.0,308.0 L199.8,307.7 L198.6,308.9 L197.4,308.5 L196.2,308.7 L195.0,308.5 L193.8,308.6 L192.6,307.7 L191.4,307.8 L190.2,308.8 L189.0,308.0 L187.7,308.5 L186.5,308.6 L185.3,308.3 L184.1,307.7 L182.9,308.4 L181.7,308.3 L180.5,308.0 L179.3,308.2 L178.1,308.4 L176.9,307.7 L175.7,308.1 L174.5,307.9 L173.3,308.3 L172.1,307.8 L170.9,308.2 L169.7,308.2 L168.5,307.8 L167.3,307.9 L166.1,308.4 L164.9,308.5 L163.7,308.9 L162.5,308.5 L161.3,308.4 L160.1,309.0 L158.9,309.0 L157.7,308.3 L156.5,308.3 L155.3,308.9 L154.1,308.1 L152.9,308.8 L151.7,307.9 L150.5,307.8 L149.3,308.0 L148.1,308.3 L146.9,308.1 L145.7,307.9 L144.5,307.7 L143.3,307.7 L142.1,308.9 L140.9,308.7 L139.7,308.7 L138.5,308.5 L137.3,308.4 L136.1,308.2 L134.9,308.6 L133.7,308.2 L132.5,308.8 L131.2,307.9 L130.0,308.2 L128.8,308.7 L127.6,308.4 L126.4,308.7 L125.2,308.6 L124.0,308.1 L122.8,308.2 L121.6,307.7 L120.4,308.1 L119.2,308.9 L118.0,307.7 L116.8,308.9 L115.6,308.8 L114.4,308.7 L113.2,307.8 L112.0,308.8 L110.8,309.0 L109.6,308.1 L108.4,307.8 L107.2,307.8 L106.0,308.0 L104.8,308.0 L103.6,307.7Z" fill="#808080" stroke="#808080" stroke-width="0.3" stroke-linejoin="round"/>
<path d="M440.0,298.5 L441.3,298.5 L442.4,298.3 L443.5,298.2 L444.5,297.9 L445.4,297.6 L446.2,297.3 L446.8,296.9 L447.3,296.3 L447.7,295.4 L448.0,294.4 L448.4,293.3 L448.8,292.2 L449.3,291.4 L449.9,290.6 L450.6,289.9 L451.4,289.2 L452.2,288.5 L452.9,287.9 L453.7,287.2 L454.5,286.6 L455.4,286.0 L456.2,285.4 L457.0,284.8 L457.7,284.1 L458.3,283.4 L458.8,282.6 L459.4,281.7 L459.9,280.8 L460.4,279.9 L460.9,279.0 L461.4,278.2 L461.9,277.3 L462.4,276.4 L462.9,275.6 L463.4,274.7 L463.9,273.8 L464.4,272.9 L464.9,272.1 L465.3,271.2 L465.8,270.3 L466.2,269.3 L466.6,268.4 L467.0,267.5 L467.4,266.6 L467.8,265.6 L468.1,264.7 L468.5,263.8 L468.8,262.8 L469.2,261.9 L469.5,260.9 L469.8,259.9 L470.1,259.0 L470.3,258.0 L470.6,257.0 L470.8,256.1 L471.0,255.1 L471.1,254.1 L471.3,253.1 L471.5,252.1 L471.6,251.1 L471.7,250.1 L471.9,249.1 L472.0,248.1 L472.1,247.1 L472.2,246.1 L472.4,245.1 L472.5,244.1 L472.6,243.1 L472.7,242.1 L472.8,241.1 L473.0,240.1 L473.1,239.1 L473.3,238.1 L473.4,237.1 L473.5,236.1 L473.7,235.1 L473.8,234.2 L474.0,233.2 L474.1,232.2 L474.2,231.2 L474.4,230.2 L474.5,229.2 L474.7,228.2 L474.8,227.2 L474.9,226.2 L475.1,225.2 L475.2,224.2 L475.4,223.2 L475.5,222.2 L475.6,221.2 L475.8,220.2 L475.9,219.2 L476.1,218.2 L476.2,217.2 L476.4,216.2 L476.5,215.2 L476.6,214.2 L476.8,213.2 L476.9,212.3 L477.1,211.3 L477.2,210.3 L477.4,209.3 L477.5,208.3 L477.6,207.3 L477.8,206.3 L477.9,205.3 L478.0,204.3 L478.2,203.3 L478.3,202.3 L478.4,201.3 L478.5,200.3 L478.7,199.3 L478.8,198.3 L478.9,197.3 L479.0,196.3 L479.1,195.3 L479.2,194.3 L479.2,193.3 L479.3,192.3 L479.4,191.3 L479.5,190.3 L479.6,189.3 L479.6,188.3 L479.7,187.3 L479.8,186.3 L479.8,185.3 L479.9,184.3 L480.0,183.3 L480.0,182.3 L480.1,181.3 L480.2,180.3 L480.2,179.3 L480.3,178.3 L480.4,177.3 L480.4,176.3 L480.5,175.3 L480.6,174.2 L480.7,173.2 L480.8,172.2 L480.9,171.2 L480.9,170.2 L481.0,169.2 L481.1,168.2 L481.2,167.2 L481.3,166.2 L481.4,165.2 L481.5,164.2 L481.6,163.2 L481.7,162.2 L481.8,161.2 L481.9,160.2 L481.9,159.2 L482.0,158.2 L482.1,157.2 L482.2,156.2 L482.3,155.2 L482.4,154.2 L482.5,153.2 L482.6,152.2 L482.6,151.2 L482.7,150.2 L482.8,149.2 L482.9,148.2 L483.0,147.2 L483.1,146.2 L483.2,145.2 L483.2,144.2 L483.3,143.2 L483.4,142.2 L483.5,141.2 L483.6,140.2 L483.7,139.2 L483.7,138.2 L483.8,137.2 L483.9,136.2 L484.0,135.2 L484.1,134.2 L484.1,133.2 L484.2,132.2 L484.3,131.2 L484.4,130.2 L484.4,129.2 L484.5,128.2 L484.6,127.2 L484.7,126.2 L484.7,125.2 L484.8,124.2 L484.9,123.2 L485.0,122.2 L485.0,121.2 L485.1,120.2 L485.2,119.2 L485.3,118.2 L485.4,117.1 L485.4,116.1 L485.5,115.1 L485.6,114.1 L485.7,113.1 L485.8,112.1 L485.9,111.1 L486.0,110.1 L486.1,109.1 L486.2,108.1 L486.3,107.1 L486.4,106.1 L486.5,105.1 L486.6,104.1 L486.7,103.1 L486.8,102.1 L486.9,101.1 L487.0,100.1 L487.1,99.1 L487.2,98.1 L487.4,97.1 L487.5,96.1 L487.6,95.1 L487.7,94.1 L487.8,93.1 L487.9,92.1 L488.0,91.2 L488.1,90.2 L488.2,89.2 L488.4,88.2 L488.5,87.2 L488.6,86.2 L488.7,85.2 L488.8,84.2 L488.9,83.2 L489.0,82.2 L489.2,81.2 L489.3,80.2 L489.4,79.2 L489.5,78.2 L489.7,77.2 L489.8,76.2 L490.0,75.2 L490.1,74.2 L490.3,73.2 L490.5,72.2 L490.6,71.2 L490.8,70.2 L491.0,69.2 L491.2,68.3 L491.4,67.3 L491.6,66.3 L491.8,65.3 L492.0,64.3 L492.2,63.3 L492.4,62.3 L492.6,61.4 L492.8,60.4 L493.0,59.3 L493.2,58.3 L493.4,57.3 L493.6,56.3 L493.9,55.3 L494.1,54.4 L494.4,53.4 L494.8,52.5 L495.2,51.6 L495.7,50.6 L496.5,49.8 L497.2,49.6 L498.1,50.0 L499.1,50.4 L500.1,50.6 L501.1,50.3 L502.0,49.8 L503.0,49.6 L504.0,49.6 L505.0,49.6 L506.0,49.7 L507.0,49.8 L508.0,50.0" fill="none" stroke="#808080" stroke-width="0.85"/>
<path d="M517.0,84.0 L517.3,85.0 L517.5,85.9 L517.8,86.9 L518.0,87.9 L518.3,88.9 L518.5,89.8 L518.7,90.8 L519.0,91.8 L519.2,92.8 L519.4,93.8 L519.6,94.7 L519.9,95.7 L520.1,96.7 L520.3,97.7 L520.5,98.7 L520.7,99.7 L520.9,100.6 L521.1,101.6 L521.3,102.6 L521.4,103.6 L521.6,104.6 L521.8,105.6 L522.0,106.6 L522.2,107.6 L522.4,108.6 L522.6,109.5 L522.8,110.5 L523.0,111.5 L523.2,112.5 L523.4,113.5 L523.6,114.5 L523.8,115.5 L523.9,116.4 L524.1,117.4 L524.3,118.4 L524.5,119.4 L524.7,120.4 L524.9,121.4 L525.1,122.4 L525.3,123.4 L525.5,124.3 L525.7,125.3 L525.9,126.3 L526.1,127.3 L526.3,128.3 L526.5,129.3 L526.7,130.3 L526.9,131.2 L527.1,132.2 L527.3,133.2 L527.5,134.2 L527.7,135.2 L528.0,136.2 L528.2,137.1 L528.4,138.1 L528.6,139.1 L528.8,140.1 L529.1,141.1 L529.3,142.0 L529.5,143.0 L529.7,144.0 L530.0,145.0 L530.2,146.0 L530.4,146.9 L530.7,147.9 L530.9,148.9 L531.1,149.9 L531.3,150.9 L531.5,151.8 L531.7,152.8 L531.9,153.8 L532.1,154.8 L532.3,155.8 L532.5,156.8 L532.7,157.8 L532.9,158.8 L533.0,159.8 L533.2,160.8 L533.4,161.7 L533.5,162.7 L533.7,163.7 L533.8,164.7 L534.0,165.7 L534.2,166.7 L534.3,167.7 L534.5,168.7 L534.7,169.7 L534.9,170.7 L535.1,171.7 L535.3,172.6 L535.5,173.6 L535.7,174.6 L535.9,175.6 L536.1,176.6 L536.4,177.5 L536.7,178.5 L536.9,179.5 L537.2,180.4 L537.5,181.4 L537.9,182.3 L538.2,183.3 L538.5,184.3 L538.8,185.2 L539.1,186.2 L539.4,187.1 L539.7,188.1 L540.0,189.0 L540.3,190.0 L540.6,191.0 L540.9,191.9 L541.3,192.9 L541.6,193.8 L541.9,194.8 L542.2,195.8 L542.5,196.7 L542.7,197.7 L543.0,198.6 L543.3,199.6 L543.6,200.6 L543.8,201.6 L544.1,202.5 L544.3,203.5 L544.5,204.5 L544.7,205.5 L545.0,206.5 L545.2,207.4 L545.4,208.4 L545.6,209.4 L545.8,210.4 L546.0,211.4 L546.2,212.4 L546.4,213.4 L546.6,214.4 L546.8,215.4 L547.0,216.3 L547.2,217.3 L547.4,218.3 L547.7,219.3 L547.9,220.3 L548.1,221.3 L548.3,222.2 L548.6,223.2 L548.8,224.2 L549.0,225.2 L549.3,226.1 L549.6,227.1 L549.8,228.0 L550.1,229.0 L550.4,230.0 L550.7,230.9 L551.0,231.9 L551.3,232.8 L551.7,233.7 L552.0,234.7 L552.4,235.6 L552.7,236.6 L553.1,237.5 L553.4,238.5 L553.8,239.4 L554.2,240.3 L554.6,241.3 L555.0,242.2 L555.4,243.1 L555.8,244.0 L556.2,245.0 L556.6,245.9 L557.0,246.8 L557.4,247.7 L557.8,248.7 L558.2,249.6 L558.7,250.5 L559.1,251.4 L559.5,252.3 L559.9,253.2 L560.4,254.2 L560.8,255.1 L561.2,256.0 L561.6,256.9 L562.1,257.8 L562.5,258.7 L563.0,259.6 L563.4,260.5 L563.9,261.4 L564.4,262.3 L564.9,263.1 L565.4,264.0 L565.8,264.9 L566.3,265.8 L566.8,266.7 L567.3,267.6 L567.7,268.5 L568.1,269.4 L568.6,270.3 L569.0,271.2 L569.4,272.1 L569.8,273.0 L570.2,274.0 L570.6,274.9 L571.0,275.8 L571.4,276.7 L571.8,277.7 L572.2,278.6 L572.6,279.5 L573.0,280.4 L573.4,281.4 L573.8,282.3 L574.1,283.2 L574.5,284.2 L574.9,285.1 L575.3,286.0 L575.7,286.9 L576.1,287.9 L576.5,288.8 L576.9,289.7 L577.3,290.6 L577.7,291.6 L578.1,292.5 L578.4,293.4 L578.8,294.4 L579.2,295.3 L579.5,296.2 L579.9,297.2 L580.2,298.1 L580.5,299.1 L580.8,300.1 L581.1,301.0 L581.4,302.0 L581.6,302.9 L581.9,303.9 L582.2,304.9 L582.4,305.9 L582.7,306.8 L583.0,307.8 L583.2,308.8 L583.5,309.7 L583.8,310.7 L584.1,311.7 L584.4,312.6 L584.7,313.6 L584.9,314.6 L585.2,315.5 L585.5,316.5 L585.8,317.5 L586.1,318.4 L586.4,319.4 L586.7,320.4 L587.0,321.3 L587.3,322.3 L587.7,323.2 L588.0,324.1 L588.4,325.1 L588.8,326.0 L589.3,326.9 L589.8,327.7 L590.3,328.6 L590.8,329.5 L591.3,330.4 L591.8,331.3 L592.2,332.2 L592.6,333.1 L592.9,334.0 L593.2,335.1 L593.5,336.2 L593.7,337.4 L593.8,338.7 L594.0,339.9 L594.2,341.1 L594.4,342.2 L594.6,343.2 L594.9,344.1 L595.2,344.7 L595.6,345.2 L596.1,345.4 L597.3,345.5 L598.1,345.3 L598.7,344.3 L599.2,343.0 L599.6,342.4 L599.8,342.7 L600.0,343.5 L600.1,344.7 L600.2,346.1 L600.3,347.6 L600.4,349.0 L600.6,350.1 L600.8,350.8 L601.1,351.0 L601.8,351.0 L602.8,351.0 L604.0,351.0 L605.3,351.0" fill="none" stroke="#808080" stroke-width="0.8"/>
<path d="M518.2,84.0 L518.5,85.0 L518.7,85.9 L519.0,86.9 L519.2,87.9 L519.5,88.9 L519.7,89.8 L519.9,90.8 L520.2,91.8 L520.4,92.8 L520.6,93.8 L520.8,94.7 L521.1,95.7 L521.3,96.7 L521.5,97.7 L521.7,98.7 L521.9,99.7 L522.0,100.6 L522.2,101.6 L522.4,102.6 L522.6,103.6 L522.8,104.6 L523.0,105.6 L523.2,106.6 L523.4,107.6 L523.5,108.5 L523.7,109.5 L523.9,110.5 L524.1,111.5 L524.3,112.5 L524.6,113.5 L524.8,114.4 L525.0,115.4 L525.2,116.4 L525.4,117.4 L525.7,118.4 L525.9,119.3 L526.1,120.3 L526.4,121.3 L526.6,122.3 L526.8,123.2 L527.1,124.2 L527.3,125.2 L527.6,126.2 L527.8,127.1 L528.0,128.1 L528.3,129.1 L528.5,130.1 L528.8,131.1 L529.0,132.0 L529.2,133.0 L529.5,134.0 L529.7,135.0 L529.9,135.9 L530.1,136.9 L530.4,137.9 L530.6,138.9 L530.8,139.9 L531.1,140.8 L531.3,141.8 L531.5,142.8 L531.7,143.8 L532.0,144.8 L532.2,145.7 L532.4,146.7 L532.6,147.7 L532.9,148.7 L533.1,149.7 L533.3,150.6 L533.5,151.6 L533.7,152.6 L533.9,153.6 L534.1,154.6 L534.3,155.6 L534.5,156.5 L534.6,157.5 L534.8,158.5 L535.0,159.5 L535.2,160.5 L535.3,161.5 L535.5,162.5 L535.6,163.5 L535.8,164.5 L536.0,165.5 L536.1,166.5 L536.3,167.5 L536.5,168.5 L536.6,169.4 L536.8,170.4 L537.0,171.4 L537.2,172.4 L537.4,173.4 L537.6,174.4 L537.8,175.3 L538.1,176.3 L538.3,177.3 L538.6,178.2 L538.9,179.2 L539.2,180.2 L539.5,181.1 L539.8,182.1 L540.1,183.0 L540.4,184.0 L540.7,185.0 L541.0,185.9 L541.3,186.9 L541.6,187.8 L541.9,188.8 L542.2,189.8 L542.6,190.7 L542.9,191.7 L543.2,192.6 L543.5,193.6 L543.8,194.5 L544.1,195.5 L544.4,196.5 L544.7,197.4 L544.9,198.4 L545.2,199.4 L545.5,200.3 L545.7,201.3 L546.0,202.3 L546.2,203.2 L546.5,204.2 L546.7,205.2 L546.9,206.2 L547.1,207.2 L547.3,208.2 L547.5,209.1 L547.7,210.1 L548.0,211.1 L548.2,212.1 L548.4,213.1 L548.6,214.1 L548.8,215.1 L549.0,216.1 L549.2,217.0 L549.4,218.0 L549.6,219.0 L549.8,220.0 L550.0,221.0 L550.3,222.0 L550.5,222.9 L550.7,223.9 L551.0,224.9 L551.2,225.8 L551.5,226.8 L551.8,227.8 L552.0,228.7 L552.3,229.7 L552.6,230.6 L552.9,231.6 L553.3,232.5 L553.6,233.5 L553.9,234.4 L554.3,235.3 L554.6,236.3 L555.0,237.2 L555.3,238.2 L555.7,239.1 L556.1,240.0 L556.5,241.0 L556.9,241.9 L557.2,242.8 L557.6,243.8 L558.0,244.7 L558.5,245.6 L558.9,246.5 L559.3,247.4 L559.7,248.4 L560.1,249.3 L560.5,250.2 L561.0,251.1 L561.4,252.0 L561.8,252.9 L562.2,253.9 L562.7,254.8 L563.1,255.7 L563.5,256.6 L563.9,257.5 L564.4,258.4 L564.8,259.3 L565.3,260.2 L565.8,261.1 L566.2,262.0 L566.7,262.8 L567.2,263.7 L567.7,264.6 L568.2,265.5 L568.6,266.4 L569.1,267.3 L569.6,268.2 L570.0,269.1 L570.4,270.0 L570.8,270.9 L571.3,271.8 L571.7,272.7 L572.1,273.6 L572.5,274.6 L572.9,275.5 L573.3,276.4 L573.7,277.3 L574.1,278.3 L574.5,279.2 L574.8,280.1 L575.2,281.0 L575.6,282.0 L576.0,282.9 L576.4,283.8 L576.8,284.7 L577.2,285.7 L577.6,286.6 L578.0,287.5 L578.4,288.4 L578.8,289.4 L579.2,290.3 L579.6,291.2 L579.9,292.2 L580.3,293.1 L580.7,294.0 L581.0,295.0 L581.4,295.9 L581.7,296.8 L582.1,297.8 L582.4,298.7 L582.7,299.7 L583.0,300.7 L583.2,301.6 L583.5,302.6 L583.8,303.6 L584.0,304.5 L584.3,305.5 L584.5,306.5 L584.8,307.5 L585.1,308.4 L585.4,309.4 L585.7,310.3 L586.0,311.3 L586.4,312.2 L586.7,313.2 L587.1,314.1 L587.5,315.0 L587.9,316.0 L588.2,316.9 L588.6,317.8 L589.0,318.8 L589.4,319.7 L589.8,320.6 L590.1,321.6 L590.5,322.5 L590.9,323.4 L591.3,324.3 L591.7,325.3 L592.1,326.2 L592.5,327.1 L592.8,328.0 L593.2,329.0 L593.6,329.9 L594.0,330.8 L594.4,331.7 L594.8,332.7 L595.2,333.6 L595.5,334.5 L595.9,335.5 L596.3,336.4 L596.6,337.3 L597.0,338.3 L597.4,339.2 L597.8,340.1 L598.2,341.1 L598.6,342.0 L599.0,342.9 L599.4,343.8 L599.8,344.7 L600.2,345.6 L600.7,346.5 L601.1,347.4 L601.6,348.3 L602.1,349.2 L602.5,350.1 L603.0,351.0" fill="none" stroke="#808080" stroke-width="0.8"/>
<path d="M103.6,302.7 L104.4,302.7 L105.2,302.7 L106.0,302.7 L106.8,302.7 L107.6,302.7 L108.4,302.7 L109.2,302.7 L110.0,302.7 L110.8,302.7 L111.6,302.7 L112.4,302.7 L113.2,302.7 L114.0,302.7 L114.8,302.7 L115.6,302.7 L116.4,302.7 L117.2,302.7 L118.0,302.7 L118.8,302.7 L119.6,302.7 L120.4,302.7 L121.2,302.7 L122.0,302.7 L122.8,302.7 L123.6,302.7 L124.4,302.7 L125.2,302.7 L126.0,302.7 L126.8,302.7 L127.6,302.7 L128.4,302.7 L129.2,302.7 L130.0,302.7 L130.8,302.7 L131.6,302.7 L132.4,302.7 L133.2,302.7 L134.0,302.7 L134.8,302.7 L135.6,302.7 L136.4,302.7 L137.2,302.7 L138.0,302.7 L138.8,302.7 L139.6,302.7 L140.4,302.7 L141.2,302.7 L142.0,302.7 L142.8,302.7 L143.6,302.7 L144.4,302.7 L145.2,302.7 L146.0,302.7 L146.8,302.7 L147.6,302.7 L148.4,302.7 L149.2,302.7 L150.1,302.7 L150.9,302.7 L151.7,302.7 L152.5,302.7 L153.3,302.7 L154.1,302.7 L154.9,302.7 L155.7,302.7 L156.5,302.7 L157.3,302.7 L158.1,302.7 L158.9,302.7 L159.7,302.7 L160.5,302.7 L161.3,302.7 L162.1,302.7 L162.9,302.7 L163.7,302.7 L164.5,302.7 L165.3,302.7 L166.1,302.7 L166.9,302.7 L167.7,302.7 L168.5,302.7 L169.3,302.7 L170.1,302.7 L170.9,302.7 L171.7,302.7 L172.5,302.7 L173.3,302.7 L174.1,302.7 L174.9,302.7 L175.7,302.7 L176.5,302.7 L177.3,302.7 L178.1,302.7 L178.9,302.7 L179.7,302.7 L180.5,302.7 L181.3,302.7 L182.1,302.7 L182.9,302.7 L183.7,302.7 L184.5,302.7 L185.3,302.7 L186.1,302.7 L186.9,302.7 L187.7,302.7 L188.5,302.7 L189.3,302.7 L190.1,302.7 L190.9,302.7 L191.7,302.7 L192.5,302.7 L193.3,302.7 L194.1,302.7 L194.9,302.7 L195.7,302.7 L196.5,302.7 L197.3,302.7 L198.1,302.7 L198.9,302.7 L199.7,302.7 L200.5,302.7 L201.3,302.7 L202.1,302.7 L202.9,302.7 L203.7,302.7 L204.5,302.7 L205.3,302.7 L206.1,302.7 L206.9,302.7 L207.7,302.7 L208.5,302.7 L209.3,302.7 L210.1,302.7 L210.9,302.7 L211.7,302.7 L212.5,302.7 L213.3,302.7 L214.1,302.7 L214.9,302.7 L215.7,302.7 L216.5,302.7 L217.3,302.7 L218.1,302.7 L218.9,302.7 L219.7,302.7 L220.5,302.7 L221.3,302.7 L222.1,302.7 L222.9,302.7 L223.7,302.7 L224.5,302.7 L225.3,302.7 L226.1,302.7 L226.9,302.7 L227.7,302.7 L228.5,302.7 L229.3,302.7 L230.1,302.7 L230.9,302.7 L231.7,302.7 L232.5,302.7 L233.3,302.7 L234.1,302.7 L234.9,302.7 L235.7,302.7 L236.5,302.7 L237.3,302.7 L238.1,302.7 L238.9,302.7 L239.7,302.7 L240.5,302.7 L241.3,302.7 L242.2,302.7 L243.0,302.7 L243.8,302.7 L244.6,302.7 L245.4,302.7 L246.2,302.7 L247.0,302.7 L247.8,302.7 L248.6,302.7 L249.4,302.7 L250.2,302.7 L251.0,302.7 L251.8,302.7 L252.6,302.7 L253.4,302.7 L254.2,302.7 L255.0,302.7 L255.8,302.7 L256.6,302.7 L257.4,302.7 L258.2,302.7 L259.0,302.7 L259.8,302.7 L260.6,302.7 L261.4,302.7 L262.2,302.7 L263.0,302.7 L263.8,302.7 L264.6,302.7 L265.4,302.7 L266.2,302.7 L267.0,302.7 L267.8,302.7 L268.6,302.7 L269.4,302.7 L270.2,302.7 L271.0,302.7 L271.8,302.7 L272.6,302.7 L273.4,302.7 L274.2,302.7 L275.0,302.7 L275.8,302.7 L276.6,302.7 L277.4,302.7 L278.2,302.7 L279.0,302.7 L279.8,302.7 L280.6,302.7 L281.4,302.7 L282.2,302.7 L283.0,302.7 L283.8,302.7 L284.6,302.7 L285.4,302.7 L286.2,302.7 L287.0,302.7 L287.8,302.7 L288.6,302.7 L289.4,302.7 L290.2,302.7 L291.0,302.7 L291.8,302.7 L292.6,302.7 L293.4,302.7 L294.2,302.7 L295.0,302.7 L295.8,302.7 L296.6,302.7 L297.4,302.7 L298.2,302.7 L299.0,302.7 L299.8,302.7 L300.6,302.7 L301.4,302.7 L302.2,302.7 L303.0,302.7 L303.8,302.7 L304.6,302.7 L305.4,302.7 L306.2,302.7 L307.0,302.7 L307.8,302.7 L308.6,302.7 L309.4,302.7 L310.2,302.7 L311.0,302.7 L311.8,302.7 L312.6,302.7 L313.4,302.7 L314.2,302.7 L315.0,302.7 L315.8,302.7 L316.6,302.7 L317.4,302.7 L318.2,302.7 L319.0,302.7 L319.8,302.7 L320.6,302.7 L321.4,302.7 L322.2,302.7 L323.0,302.7 L323.8,302.7 L324.6,302.7 L325.4,302.7 L326.2,302.7 L327.0,302.7 L327.8,302.7 L328.6,302.7 L329.4,302.7 L330.2,302.7 L331.0,302.7 L331.8,302.7 L332.6,302.7 L333.4,302.7 L334.2,302.7 L335.1,302.7 L335.9,302.7 L336.7,302.7 L337.5,302.7 L338.3,302.7 L339.1,302.7 L339.9,302.7 L340.7,302.7 L341.5,302.7 L342.3,302.7 L343.1,302.7 L343.9,302.7 L344.7,302.7 L345.5,302.7 L346.3,302.7 L347.1,302.7 L347.9,302.7 L348.7,302.7 L349.5,302.7 L350.3,302.7 L351.1,302.7 L351.9,302.7 L352.7,302.7 L353.5,302.7 L354.3,302.7 L355.1,302.7 L355.9,302.7 L356.7,302.7 L357.5,302.7 L358.3,302.7 L359.1,302.7 L359.9,302.7 L360.7,302.7 L361.5,302.7 L362.3,302.7 L363.1,302.7 L363.9,302.7 L364.7,302.7 L365.5,302.7 L366.3,302.7 L367.1,302.7 L367.9,302.7 L368.7,302.7 L369.5,302.7 L370.3,302.7 L371.1,302.7 L371.9,302.7 L372.7,302.7 L373.5,302.7 L374.3,302.7 L375.1,302.7 L375.9,302.7 L376.7,302.7 L377.5,302.7 L378.3,302.7 L379.1,302.7 L379.9,302.7 L380.7,302.7 L381.5,302.7 L382.3,302.7 L383.1,302.7 L383.9,302.7 L384.7,302.7 L385.5,302.7 L386.3,302.7 L387.1,302.7 L387.9,302.7 L388.7,302.7 L389.5,302.7 L390.3,302.7 L391.1,302.7 L391.9,302.7 L392.7,302.7 L393.5,302.7 L394.3,302.7 L395.1,302.7 L395.9,302.7 L396.7,302.7 L397.5,302.7 L398.3,302.7 L399.1,302.7 L399.9,302.7 L400.7,302.7 L401.5,302.7 L402.3,302.7 L403.1,302.7 L403.9,302.7 L404.7,302.7 L405.5,302.7 L406.3,302.7 L407.1,302.7 L407.9,302.7 L408.7,302.7 L409.5,302.7 L410.3,302.7 L411.1,302.7 L411.9,302.7 L412.7,302.7 L413.5,302.7 L414.3,302.7 L415.1,302.7 L415.9,302.7 L416.7,302.7 L417.5,302.7 L418.3,302.7 L419.1,302.7 L419.9,302.7 L420.7,302.7 L421.5,302.7 L422.3,302.7 L423.1,302.7 L423.9,302.7 L424.8,302.7 L425.6,302.7 L426.4,302.7 L427.2,302.7 L428.0,302.7 L428.8,302.7 L429.6,302.7 L430.4,302.7 L431.2,302.7 L432.0,302.7 L432.8,302.7 L433.6,302.7 L434.4,302.7 L435.2,302.7 L436.0,302.7 L436.8,302.7 L437.6,302.7 L438.4,302.7 L439.2,302.7 L440.0,302.7 L440.8,302.7 L441.6,302.7 L442.4,302.7 L443.2,302.7 L444.0,302.7 L444.8,302.7 L445.6,302.7 L446.4,302.7 L447.2,302.7 L448.0,302.6 L448.8,302.6 L449.6,302.6 L450.4,302.5 L451.2,302.5 L452.0,302.5 L452.8,302.4 L453.6,302.3 L454.3,302.2 L455.1,302.0 L455.9,301.7 L456.7,301.4 L457.4,301.1 L458.2,300.8 L458.9,300.5 L459.6,300.1 L460.3,299.7 L461.0,299.3 L461.6,298.8 L462.3,298.4 L462.9,297.9 L463.5,297.4 L464.2,296.9 L464.8,296.3 L465.3,295.8 L465.9,295.2 L466.5,294.6 L467.0,294.0 L467.5,293.4 L468.1,292.8 L468.6,292.2 L469.1,291.6 L469.6,291.0 L470.1,290.4 L470.6,289.7 L471.1,289.1 L471.5,288.4 L472.0,287.8 L472.5,287.1 L472.9,286.5 L473.4,285.8 L473.8,285.2 L474.3,284.5 L474.8,283.8 L475.2,283.2 L475.7,282.5 L476.1,281.8 L476.5,281.2 L477.0,280.5 L477.4,279.8 L477.8,279.1 L478.2,278.4 L478.6,277.7 L479.0,277.0 L479.4,276.3 L479.8,275.6 L480.1,274.9 L480.5,274.2 L480.9,273.5 L481.2,272.8 L481.6,272.1 L481.9,271.3 L482.2,270.6 L482.6,269.9 L482.9,269.1 L483.2,268.4 L483.5,267.7 L483.8,266.9 L484.1,266.2 L484.4,265.4 L484.7,264.7 L485.0,263.9 L485.2,263.2 L485.5,262.4 L485.7,261.7 L486.0,260.9 L486.2,260.1 L486.4,259.4 L486.7,258.6 L486.9,257.8 L487.1,257.1 L487.4,256.3 L487.6,255.5 L487.8,254.7 L487.9,254.0 L488.1,253.2 L488.3,252.4 L488.4,251.6 L488.6,250.8 L488.7,250.1 L488.9,249.3 L489.0,248.5 L489.2,247.7 L489.3,246.9 L489.5,246.1 L489.6,245.3 L489.7,244.5 L489.9,243.7 L490.0,242.9 L490.1,242.1 L490.2,241.4 L490.4,240.6 L490.5,239.8 L490.6,239.0 L490.8,238.2 L490.9,237.4 L491.0,236.6 L491.1,235.8 L491.3,235.0 L491.4,234.2 L491.5,233.4 L491.6,232.7 L491.7,231.9 L491.9,231.1 L492.0,230.3 L492.1,229.5 L492.2,228.7 L492.3,227.9 L492.4,227.1 L492.5,226.3 L492.6,225.5 L492.7,224.7 L492.9,223.9 L493.0,223.1 L493.1,222.3 L493.2,221.5 L493.3,220.8 L493.4,220.0 L493.5,219.2 L493.6,218.4 L493.7,217.6 L493.8,216.8 L493.9,216.0 L494.0,215.2 L494.1,214.4 L494.2,213.6 L494.3,212.8 L494.4,212.0 L494.5,211.2 L494.6,210.4 L494.7,209.6 L494.7,208.8 L494.8,208.0 L494.9,207.2 L495.0,206.4 L495.1,205.6 L495.1,204.8 L495.2,204.1 L495.3,203.3 L495.4,202.5 L495.4,201.7 L495.5,200.9 L495.6,200.1 L495.7,199.3 L495.7,198.5 L495.8,197.7 L495.9,196.9 L495.9,196.1 L496.0,195.3 L496.1,194.5 L496.2,193.7 L496.3,192.9 L496.3,192.1 L496.4,191.3 L496.5,190.5 L496.6,189.7 L496.7,188.9 L496.7,188.1 L496.8,187.3 L496.9,186.5 L497.0,185.7 L497.1,184.9 L497.1,184.1 L497.2,183.3 L497.3,182.5 L497.4,181.7 L497.5,180.9 L497.5,180.1 L497.6,179.3 L497.7,178.5 L497.8,177.7 L497.9,176.9 L497.9,176.2 L498.0,175.4 L498.1,174.6 L498.2,173.8 L498.3,173.0 L498.3,172.2 L498.4,171.4 L498.5,170.6 L498.6,169.8 L498.6,169.0 L498.7,168.2 L498.8,167.4 L498.9,166.6 L499.0,165.8 L499.0,165.0 L499.1,164.2 L499.2,163.4 L499.3,162.6 L499.3,161.8 L499.4,161.0 L499.5,160.2 L499.6,159.4 L499.7,158.6 L499.7,157.8 L499.8,157.0 L499.9,156.2 L500.0,155.4 L500.0,154.6 L500.1,153.8 L500.2,153.0 L500.3,152.2 L500.4,151.4 L500.4,150.6 L500.5,149.8 L500.6,149.1 L500.7,148.3 L500.7,147.5 L500.8,146.7 L500.9,145.9 L501.0,145.1 L501.0,144.3 L501.1,143.5 L501.2,142.7 L501.3,141.9 L501.4,141.1 L501.4,140.3 L501.5,139.5 L501.6,138.7 L501.7,137.9 L501.8,137.1 L501.9,136.3 L501.9,135.5 L502.0,134.7 L502.1,133.9 L502.2,133.1 L502.3,132.3 L502.4,131.5 L502.5,130.7 L502.6,129.9 L502.7,129.1 L502.8,128.3 L502.9,127.6 L503.0,126.8 L503.1,126.0 L503.2,125.2 L503.3,124.4 L503.4,123.6 L503.5,122.8 L503.6,122.0 L503.7,121.2 L503.9,120.4 L504.0,119.6 L504.1,118.8 L504.2,118.0 L504.3,117.2 L504.4,116.4 L504.5,115.6 L504.6,114.9 L504.7,114.1 L504.8,113.3 L504.9,112.5 L505.0,111.7 L505.1,110.9 L505.2,110.1 L505.3,109.3 L505.4,108.5 L505.5,107.7 L505.6,106.9 L505.7,106.1 L505.8,105.3 L505.9,104.5 L506.0,103.7 L506.1,102.9 L506.2,102.1 L506.3,101.3 L506.4,100.5 L506.5,99.8 L506.6,99.0 L506.7,98.2 L506.8,97.4 L506.9,96.6 L507.0,95.8 L507.1,95.0 L507.2,94.2 L507.3,93.4 L507.4,92.6 L507.5,91.8 L507.6,91.0 L507.7,90.2 L507.8,89.4 L507.9,88.6 L508.0,87.8 L508.1,87.0 L508.2,86.2 L508.3,85.4 L508.4,84.7 L508.5,83.9 L508.6,83.1 L508.8,82.3 L508.9,81.5 L509.0,80.7 L509.1,79.9 L509.2,79.1 L509.3,78.3 L509.5,77.5 L509.6,76.7 L509.7,75.9 L509.9,75.2 L510.0,74.4 L510.2,73.6 L510.3,72.8 L510.5,72.0 L510.6,71.2 L510.8,70.4 L511.0,69.7 L511.1,68.9 L511.3,68.1 L511.5,67.3 L511.7,66.5 L511.9,65.8 L512.1,65.0 L512.3,64.2 L512.5,63.4 L512.7,62.7 L512.9,61.9 L513.1,61.1 L513.3,60.3 L513.5,59.6 L513.8,58.8 L514.0,58.0 L514.2,57.3 L514.5,56.5 L514.7,55.7 L515.0,55.0 L515.3,54.2 L515.6,53.5 L515.9,52.7 L516.2,51.9 L516.5,51.2 L516.9,50.5 L517.4,49.9 L518.0,49.3 L518.7,48.8 L519.3,48.7 L520.1,49.1 L520.7,49.7 L521.2,50.3 L521.7,50.9 L522.0,51.6 L522.4,52.4 L522.7,53.2 L523.0,53.9 L523.3,54.7 L523.5,55.4 L523.8,56.2 L524.1,56.9 L524.3,57.7 L524.5,58.5 L524.8,59.2 L525.0,60.0 L525.2,60.8 L525.4,61.6 L525.6,62.3 L525.8,63.1 L526.0,63.9 L526.2,64.7 L526.4,65.4 L526.6,66.2 L526.8,67.0 L527.0,67.8 L527.2,68.5 L527.4,69.3 L527.6,70.1 L527.8,70.9 L528.0,71.7 L528.1,72.4 L528.3,73.2 L528.5,74.0 L528.7,74.8 L528.8,75.6 L529.0,76.3 L529.2,77.1 L529.3,77.9 L529.5,78.7 L529.6,79.5 L529.8,80.3 L529.9,81.1 L530.1,81.8 L530.3,82.6 L530.4,83.4 L530.6,84.2 L530.7,85.0 L530.9,85.8 L531.0,86.6 L531.2,87.4 L531.3,88.1 L531.5,88.9 L531.6,89.7 L531.8,90.5 L531.9,91.3 L532.1,92.1 L532.2,92.9 L532.4,93.6 L532.6,94.4 L532.7,95.2 L532.9,96.0 L533.1,96.8 L533.3,97.5 L533.4,98.3 L533.6,99.1 L533.8,99.9 L534.0,100.7 L534.1,101.5 L534.3,102.2 L534.5,103.0 L534.7,103.8 L534.9,104.6 L535.0,105.4 L535.2,106.1 L535.4,106.9 L535.6,107.7 L535.8,108.5 L535.9,109.3 L536.1,110.0 L536.3,110.8 L536.5,111.6 L536.6,112.4 L536.8,113.2 L537.0,114.0 L537.1,114.7 L537.3,115.5 L537.4,116.3 L537.6,117.1 L537.8,117.9 L537.9,118.7 L538.1,119.5 L538.2,120.2 L538.4,121.0 L538.5,121.8 L538.7,122.6 L538.8,123.4 L539.0,124.2 L539.1,125.0 L539.3,125.7 L539.4,126.5 L539.6,127.3 L539.7,128.1 L539.9,128.9 L540.0,129.7 L540.2,130.5 L540.3,131.2 L540.5,132.0 L540.6,132.8 L540.8,133.6 L541.0,134.4 L541.1,135.2 L541.3,136.0 L541.5,136.7 L541.6,137.5 L541.8,138.3 L542.0,139.1 L542.2,139.9 L542.3,140.6 L542.5,141.4 L542.7,142.2 L542.9,143.0 L543.0,143.8 L543.2,144.6 L543.4,145.3 L543.6,146.1 L543.8,146.9 L543.9,147.7 L544.1,148.5 L544.3,149.2 L544.5,150.0 L544.7,150.8 L544.8,151.6 L545.0,152.4 L545.2,153.1 L545.4,153.9 L545.5,154.7 L545.7,155.5 L545.9,156.3 L546.1,157.0 L546.2,157.8 L546.4,158.6 L546.6,159.4 L546.8,160.2 L546.9,161.0 L547.1,161.7 L547.3,162.5 L547.5,163.3 L547.6,164.1 L547.8,164.9 L548.0,165.6 L548.1,166.4 L548.3,167.2 L548.5,168.0 L548.7,168.8 L548.8,169.6 L549.0,170.3 L549.2,171.1 L549.4,171.9 L549.5,172.7 L549.7,173.5 L549.9,174.2 L550.1,175.0 L550.2,175.8 L550.4,176.6 L550.6,177.4 L550.8,178.2 L550.9,178.9 L551.1,179.7 L551.3,180.5 L551.5,181.3 L551.6,182.1 L551.8,182.8 L552.0,183.6 L552.2,184.4 L552.3,185.2 L552.5,186.0 L552.7,186.8 L552.9,187.5 L553.0,188.3 L553.2,189.1 L553.4,189.9 L553.6,190.7 L553.8,191.4 L553.9,192.2 L554.1,193.0 L554.3,193.8 L554.5,194.6 L554.7,195.3 L554.9,196.1 L555.1,196.9 L555.2,197.7 L555.4,198.4 L555.6,199.2 L555.8,200.0 L556.0,200.8 L556.2,201.6 L556.4,202.3 L556.6,203.1 L556.7,203.9 L556.9,204.7 L557.1,205.5 L557.3,206.3 L557.5,207.0 L557.7,207.8 L557.9,208.6 L558.1,209.4 L558.3,210.2 L558.5,210.9 L558.7,211.7 L558.9,212.5 L559.1,213.3 L559.3,214.0 L559.5,214.8 L559.7,215.6 L559.9,216.4 L560.1,217.1 L560.3,217.9 L560.5,218.7 L560.8,219.5 L561.0,220.2 L561.2,221.0 L561.4,221.8 L561.7,222.5 L561.9,223.3 L562.1,224.1 L562.4,224.8 L562.6,225.6 L562.8,226.3 L563.1,227.1 L563.3,227.8 L563.6,228.6 L563.9,229.3 L564.1,230.1 L564.4,230.8 L564.7,231.6 L565.0,232.3 L565.3,233.1 L565.7,233.8 L566.0,234.5 L566.3,235.2 L566.7,236.0 L567.0,236.7 L567.3,237.4 L567.7,238.2 L568.0,238.9 L568.3,239.6 L568.6,240.4 L568.9,241.1 L569.2,241.9 L569.5,242.6 L569.8,243.3 L570.1,244.1 L570.4,244.8 L570.7,245.6 L571.0,246.3 L571.2,247.1 L571.5,247.8 L571.8,248.6 L572.1,249.4 L572.4,250.1 L572.6,250.9 L572.9,251.6 L573.2,252.4 L573.5,253.1 L573.8,253.9 L574.0,254.6 L574.3,255.3 L574.6,256.1 L574.9,256.8 L575.2,257.6 L575.5,258.3 L575.9,259.0 L576.2,259.8 L576.5,260.5 L576.8,261.2 L577.2,262.0 L577.5,262.7 L577.8,263.4 L578.2,264.2 L578.5,264.9 L578.8,265.6 L579.2,266.3 L579.5,267.1 L579.8,267.8 L580.2,268.5 L580.5,269.3 L580.8,270.0 L581.1,270.7 L581.5,271.5 L581.8,272.2 L582.1,272.9 L582.4,273.7 L582.7,274.4 L583.1,275.1 L583.4,275.9 L583.7,276.6 L584.0,277.3 L584.3,278.1 L584.7,278.8 L585.0,279.5 L585.3,280.3 L585.6,281.0 L585.9,281.7 L586.2,282.5 L586.5,283.2 L586.9,284.0 L587.2,284.7 L587.5,285.4 L587.8,286.2 L588.1,286.9 L588.4,287.7 L588.7,288.4 L589.0,289.1 L589.3,289.9 L589.6,290.6 L589.9,291.4 L590.3,292.1 L590.6,292.8 L590.8,293.6 L591.1,294.3 L591.4,295.1 L591.7,295.8 L592.0,296.6 L592.3,297.3 L592.6,298.1 L592.8,298.8 L593.1,299.6 L593.4,300.3 L593.6,301.1 L593.9,301.9 L594.1,302.6 L594.4,303.4 L594.6,304.1 L594.8,304.9 L595.1,305.7 L595.3,306.4 L595.6,307.2 L595.8,308.0 L596.1,308.7 L596.3,309.5 L596.6,310.2 L596.8,311.0 L597.1,311.8 L597.3,312.5 L597.6,313.3 L597.9,314.0 L598.1,314.8 L598.4,315.5 L598.6,316.3 L598.9,317.1 L599.2,317.8 L599.4,318.6 L599.7,319.3 L600.0,320.1 L600.3,320.8 L600.6,321.5 L600.9,322.3 L601.2,323.0 L601.5,323.8 L601.8,324.5 L602.1,325.3 L602.5,326.0 L602.8,326.7 L603.1,327.4 L603.5,328.2 L603.8,328.9 L604.1,329.6 L604.5,330.3 L604.9,331.0 L605.2,331.8 L605.6,332.5 L606.0,333.2 L606.4,333.9 L606.7,334.6 L607.1,335.3 L607.5,336.0 L607.9,336.7 L608.3,337.4 L608.8,338.1 L609.2,338.7 L609.6,339.4 L610.0,340.1 L610.5,340.8 L610.9,341.5 L611.4,342.1 L611.8,342.8 L612.3,343.4 L612.8,344.1 L613.3,344.7 L613.8,345.2 L614.4,345.8 L615.0,346.3 L615.6,346.9 L616.2,347.4 L616.9,347.9 L617.5,348.3 L618.2,348.8 L618.9,349.2 L619.6,349.6 L620.3,350.0 L621.0,350.4 L621.8,350.7 L622.6,350.8 L623.3,350.7 L624.1,350.6 L624.9,350.5 L625.7,350.3 L626.5,350.0 L627.2,349.8 L627.9,349.5 L628.6,349.1 L629.3,348.7 L630.0,348.3 L630.8,347.8 L631.5,347.5 L632.2,347.1 L632.9,346.8 L633.6,346.4 L634.4,346.1 L635.1,345.7 L635.9,345.4 L636.6,345.1 L637.4,344.8 L638.1,344.6 L638.9,344.5 L639.7,344.3 L640.4,344.2 L641.2,344.1 L642.0,343.9 L642.8,343.8 L643.6,343.7 L644.4,343.7 L645.2,343.6 L646.0,343.6 L646.8,343.6 L647.6,343.6 L648.4,343.6 L649.2,343.6 L650.0,343.7 L650.8,343.7 L651.7,343.7 L652.5,343.7 L653.3,343.8 L654.1,343.8 L654.9,343.8 L655.7,343.9 L656.4,343.9 L657.2,344.0 L658.0,344.1 L658.8,344.2 L659.6,344.3 L660.4,344.4 L661.2,344.5 L662.0,344.7 L662.8,344.8 L663.6,345.0 L664.4,345.1 L665.2,345.3 L665.9,345.4 L666.7,345.6 L667.5,345.7 L668.3,345.9 L669.1,346.1 L669.9,346.3 L670.6,346.5 L671.4,346.6 L672.2,346.8 L673.0,347.0 L673.8,347.2 L674.5,347.4 L675.3,347.6 L676.1,347.7 L676.9,347.9 L677.7,348.0 L678.5,348.2 L679.2,348.3 L680.0,348.5 L680.8,348.6 L681.6,348.8 L682.4,348.9 L683.2,349.0 L684.0,349.2 L684.8,349.3 L685.6,349.4 L686.4,349.6 L687.1,349.7 L687.9,349.8 L688.7,349.9 L689.5,350.0 L690.3,350.1 L691.1,350.2 L691.9,350.3 L692.7,350.4 L693.5,350.4 L694.3,350.5 L695.1,350.5 L695.9,350.6 L696.7,350.6 L697.5,350.7 L698.3,350.7 L699.1,350.7 L699.9,350.8 L700.7,350.8 L701.5,350.8 L702.3,350.9 L703.1,350.9 L703.9,350.9 L704.7,351.0 L705.5,351.0 L706.3,351.0 L707.1,351.1 L707.9,351.1 L708.7,351.2 L709.5,351.2 L710.3,351.3 L711.1,351.4 L711.9,351.4 L712.7,351.5 L713.5,351.6 L714.3,351.7 L715.1,351.9 L715.9,352.0 L716.7,352.1 L717.5,352.2 L718.3,352.3 L719.1,352.4 L719.9,352.5 L720.7,352.6 L721.5,352.6 L722.3,352.7 L723.0,352.7 L723.8,352.8 L724.6,352.8 L725.4,352.8 L726.2,352.8 L727.0,352.8 L727.8,352.8 L728.6,352.7 L729.4,352.7 L730.2,352.7 L731.0,352.6 L731.8,352.6 L732.6,352.6 L733.4,352.5 L734.2,352.5 L735.0,352.4 L735.8,352.4 L736.6,352.3 L737.4,352.3 L738.2,352.2 L739.0,352.1 L739.8,352.1 L740.6,352.0 L741.4,352.0 L742.2,351.9 L743.0,351.8 L743.8,351.8 L744.6,351.7 L745.4,351.6 L746.2,351.5 L747.0,351.4 L747.8,351.4 L748.6,351.3 L749.4,351.2 L750.2,351.1 L751.0,351.0 L751.8,350.8 L752.6,350.7 L753.4,350.6 L754.2,350.5 L755.0,350.4 L755.8,350.3 L756.5,350.2 L757.3,350.0 L758.1,349.9 L758.9,349.7 L759.7,349.5 L760.5,349.3 L761.3,349.1 L762.0,348.9 L762.8,348.8 L763.6,348.6 L764.4,348.4 L765.2,348.3 L766.0,348.1 L766.7,348.0 L767.5,348.0 L768.3,347.9 L769.1,347.8 L769.9,347.8 L770.7,347.7 L771.5,347.6 L772.3,347.6 L773.1,347.6 L773.9,347.5 L774.7,347.5 L775.5,347.4 L776.3,347.4 L777.1,347.3 L777.9,347.3 L778.7,347.3 L779.5,347.2 L780.3,347.2 L781.1,347.2 L781.9,347.1 L782.7,347.1 L783.5,347.1 L784.3,347.0 L785.1,347.0 L785.9,347.0 L786.7,346.9 L787.5,346.9 L788.3,346.9 L789.1,346.8 L789.9,346.8 L790.7,346.8 L791.5,346.7 L792.3,346.7 L793.1,346.7 L793.9,346.7 L794.7,346.6 L795.5,346.6 L796.3,346.6 L797.1,346.6 L797.9,346.5 L798.7,346.5 L799.5,346.5 L800.3,346.5 L801.1,346.4 L801.9,346.4 L802.8,346.4 L803.6,346.4 L804.4,346.3 L805.2,346.3 L806.0,346.3 L806.8,346.2 L807.6,346.2 L808.3,346.2 L809.1,346.1 L809.9,346.1 L810.7,346.0 L811.5,346.0 L812.3,345.9 L813.1,345.9 L813.9,345.8 L814.7,345.7 L815.5,345.6 L816.3,345.6 L817.1,345.5 L817.9,345.4 L818.7,345.3 L819.5,345.1 L820.3,345.0 L821.1,344.9 L821.9,344.8 L822.7,344.7 L823.5,344.6 L824.3,344.5 L825.1,344.3 L825.8,344.2 L826.6,344.1 L827.4,344.0 L828.2,343.9 L829.0,343.8 L829.8,343.6 L830.6,343.5 L831.4,343.4 L832.2,343.3 L833.0,343.1 L833.8,343.0 L834.6,342.9 L835.3,342.7 L836.1,342.6 L836.9,342.5 L837.7,342.3 L838.5,342.2 L839.3,342.1 L840.1,341.9 L840.9,341.8 L841.7,341.7 L842.5,341.5 L843.3,341.4 L844.0,341.3 L844.8,341.2 L845.6,341.1 L846.4,341.0 L847.2,340.9 L848.0,340.8 L848.8,340.7 L849.6,340.6 L850.4,340.5 L851.2,340.5 L852.0,340.4 L852.8,340.3 L853.6,340.3 L854.4,340.2 L855.2,340.1 L856.0,340.1 L856.8,340.0 L857.6,340.0 L858.4,339.9 L859.2,339.8 L860.0,339.8 L860.8,339.7 L861.6,339.7 L862.4,339.6 L863.2,339.6 L864.0,339.5 L864.8,339.5 L865.6,339.4 L866.4,339.4 L867.2,339.3 L868.0,339.3 L868.8,339.2 L869.6,339.2 L870.4,339.1 L871.2,339.1 L872.0,339.0 L872.8,339.0 L873.6,338.9 L874.4,338.9 L875.2,338.8 L876.0,338.7 L876.8,338.7 L877.6,338.6 L878.4,338.5 L879.2,338.5 L880.0,338.4 L880.8,338.4 L881.6,338.3 L882.4,338.2 L883.2,338.2 L884.0,338.1 L884.7,338.0 L885.5,338.0 L886.3,337.9 L887.1,337.8 L887.9,337.7 L888.7,337.6 L889.5,337.6 L890.3,337.5 L891.1,337.4 L891.9,337.3 L892.7,337.2 L893.5,337.1 L894.3,336.9 L895.1,336.8 L895.9,336.7 L896.7,336.6 L897.4,336.4 L898.2,336.3 L899.0,336.1 L899.8,336.0 L900.6,335.8 L901.4,335.7 L902.2,335.6 L903.0,335.4 L903.8,335.3 L904.6,335.2 L905.3,335.0 L906.1,334.9 L906.9,334.8 L907.7,334.7 L908.5,334.6 L909.3,334.5 L910.1,334.4 L910.9,334.3 L911.7,334.2 L912.5,334.1 L913.3,334.0 L914.1,333.9 L914.9,333.8 L915.7,333.7 L916.5,333.6 L917.2,333.5 L918.0,333.4 L918.8,333.3 L919.6,333.2 L920.4,333.1 L921.2,333.0 L922.0,332.9 L922.8,332.9 L923.6,332.8 L924.4,332.7 L925.2,332.6 L926.0,332.5 L926.8,332.5 L927.6,332.4 L928.4,332.3 L929.2,332.2 L930.0,332.2 L930.8,332.1" fill="none" stroke="#000" stroke-width="4.0" stroke-linejoin="round" stroke-linecap="butt"/>
<text transform="translate(103.60,589.70) scale(1,1.02)" font-size="24.9" text-anchor="middle" fill="#262626" stroke="#262626" stroke-width="0.25">0</text>
<text transform="translate(186.52,589.70) scale(1,1.02)" font-size="24.9" text-anchor="middle" fill="#262626" stroke="#262626" stroke-width="0.25">0.005</text>
<text transform="translate(269.44,589.70) scale(1,1.02)" font-size="24.9" text-anchor="middle" fill="#262626" stroke="#262626" stroke-width="0.25">0.01</text>
<text transform="translate(352.36,589.70) scale(1,1.02)" font-size="24.9" text-anchor="middle" fill="#262626" stroke="#262626" stroke-width="0.25">0.015</text>
<text transform="translate(435.28,589.70) scale(1,1.02)" font-size="24.9" text-anchor="middle" fill="#262626" stroke="#262626" stroke-width="0.25">0.02</text>
<text transform="translate(518.20,589.70) scale(1,1.02)" font-size="24.9" text-anchor="middle" fill="#262626" stroke="#262626" stroke-width="0.25">0.025</text>
<text transform="translate(601.12,589.70) scale(1,1.02)" font-size="24.9" text-anchor="middle" fill="#262626" stroke="#262626" stroke-width="0.25">0.03</text>
<text transform="translate(684.04,589.70) scale(1,1.02)" font-size="24.9" text-anchor="middle" fill="#262626" stroke="#262626" stroke-width="0.25">0.035</text>
<text transform="translate(766.96,589.70) scale(1,1.02)" font-size="24.9" text-anchor="middle" fill="#262626" stroke="#262626" stroke-width="0.25">0.04</text>
<text transform="translate(849.88,589.70) scale(1,1.02)" font-size="24.9" text-anchor="middle" fill="#262626" stroke="#262626" stroke-width="0.25">0.045</text>
<text transform="translate(932.80,589.70) scale(1,1.02)" font-size="24.9" text-anchor="middle" fill="#262626" stroke="#262626" stroke-width="0.25">0.05</text>
<text transform="translate(94.30,58.10) scale(1,1.02)" font-size="24.9" text-anchor="end" fill="#262626" stroke="#262626" stroke-width="0.25">1</text>
<text transform="translate(94.30,185.10) scale(1,1.02)" font-size="24.9" text-anchor="end" fill="#262626" stroke="#262626" stroke-width="0.25">0.5</text>
<text transform="translate(94.30,312.10) scale(1,1.02)" font-size="24.9" text-anchor="end" fill="#262626" stroke="#262626" stroke-width="0.25">0</text>
<text transform="translate(94.30,439.10) scale(1,1.02)" font-size="24.9" text-anchor="end" fill="#262626" stroke="#262626" stroke-width="0.25">-0.5</text>
<text transform="translate(94.30,566.10) scale(1,1.02)" font-size="24.9" text-anchor="end" fill="#262626" stroke="#262626" stroke-width="0.25">-1</text>
<text transform="translate(518.30,622.80) scale(1,1.02)" font-size="26.65" text-anchor="middle" fill="#262626" stroke="#262626" stroke-width="0.25">Time (sec)</text>
<text transform="translate(37.90,301.70) rotate(-90) scale(1,1.02)" font-size="27.85" text-anchor="middle" fill="#262626" stroke="#262626" stroke-width="0.25">Normalized amplitude</text>
<text transform="translate(-0.30,24.20) scale(1,1.02)" font-size="28.6" font-weight="bold" text-anchor="start" fill="#000" stroke="#000" stroke-width="0.25">A</text>
<rect x="118.5" y="477.9" width="405.0" height="62.200000000000045" fill="#fff" stroke="#5c5c5c" stroke-width="1.4"/>
<path d="M126.4,494.8H183.9" stroke="#808080" stroke-width="1.0"/>
<path d="M126.4,523H183.9" stroke="#000" stroke-width="4.0"/>
<text transform="translate(189.50,503.40) scale(1,1.02)" font-size="22.65" text-anchor="start" fill="#000" stroke="#000" stroke-width="0.25">2034 snapshots of airgun pulses</text>
<text transform="translate(189.50,531.20) scale(1,1.02)" font-size="22.65" text-anchor="start" fill="#000" stroke="#000" stroke-width="0.25">Average waveform</text>
</g>
<g id="panelB">
<path d="M1210.20,39.6V550.8M1329.93,39.6V550.8M1449.67,39.6V550.8M1569.40,39.6V550.8M1689.13,39.6V550.8M1808.87,39.6V550.8M1928.60,39.6V550.8M1094.4,448.56H1934.5M1094.4,346.32H1934.5M1094.4,244.08H1934.5M1094.4,141.84H1934.5" stroke="#e3e3e3" stroke-width="1.0" fill="none"/>
<path d="M1094.4,39.6H1934.5V550.8H1094.4ZM1210.20,550.8v-8.4M1210.20,39.6v8.4M1329.93,550.8v-8.4M1329.93,39.6v8.4M1449.67,550.8v-8.4M1449.67,39.6v8.4M1569.40,550.8v-8.4M1569.40,39.6v8.4M1689.13,550.8v-8.4M1689.13,39.6v8.4M1808.87,550.8v-8.4M1808.87,39.6v8.4M1928.60,550.8v-8.4M1928.60,39.6v8.4M1094.4,448.56h8.4M1934.5,448.56h-8.4M1094.4,346.32h8.4M1934.5,346.32h-8.4M1094.4,244.08h8.4M1934.5,244.08h-8.4M1094.4,141.84h8.4M1934.5,141.84h-8.4" stroke="#5c5c5c" stroke-width="1.4" fill="none"/>
<path d="M1094.4,470.0 L1094.4,469.0 L1094.5,468.0 L1094.5,467.0 L1094.6,466.0 L1094.6,465.0 L1094.7,464.0 L1094.7,463.0 L1094.8,462.0 L1094.8,461.0 L1094.9,460.0 L1094.9,459.0 L1095.0,458.0 L1095.0,457.0 L1095.1,456.0 L1095.1,455.0 L1095.2,454.0 L1095.3,453.0 L1095.3,452.0 L1095.4,451.0 L1095.4,450.0 L1095.5,449.0 L1095.5,448.0 L1095.6,447.0 L1095.6,446.0 L1095.7,445.0 L1095.8,444.0 L1095.8,443.0 L1095.9,442.0 L1095.9,441.0 L1096.0,440.0 L1096.1,439.0 L1096.1,438.0 L1096.2,437.0 L1096.2,436.0 L1096.3,435.0 L1096.4,434.0 L1096.4,433.0 L1096.5,432.0 L1096.6,431.0 L1096.6,430.0 L1096.7,429.0 L1096.8,428.0 L1096.8,427.0 L1096.9,426.0 L1097.0,425.0 L1097.0,424.0 L1097.1,423.0 L1097.2,422.0 L1097.2,421.0 L1097.3,420.0 L1097.4,419.0 L1097.5,418.0 L1097.5,417.0 L1097.6,416.0 L1097.7,415.1 L1097.8,414.1 L1097.8,413.1 L1097.9,412.1 L1098.0,411.1 L1098.1,410.1 L1098.1,409.1 L1098.2,408.1 L1098.3,407.1 L1098.4,406.1 L1098.5,405.1 L1098.6,404.1 L1098.6,403.1 L1098.7,402.1 L1098.8,401.1 L1098.9,400.1 L1099.0,399.1 L1099.1,398.1 L1099.2,397.1 L1099.3,396.1 L1099.4,395.1 L1099.4,394.1 L1099.5,393.1 L1099.6,392.1 L1099.7,391.1 L1099.8,390.1 L1099.9,389.1 L1100.0,388.1 L1100.1,387.1 L1100.2,386.1 L1100.3,385.1 L1100.4,384.1 L1100.5,383.1 L1100.6,382.2 L1100.7,381.2 L1100.8,380.2 L1100.8,379.2 L1100.9,378.2 L1101.0,377.2 L1101.1,376.2 L1101.2,375.2 L1101.3,374.2 L1101.4,373.2 L1101.5,372.2 L1101.6,371.2 L1101.7,370.2 L1101.8,369.2 L1101.9,368.2 L1102.0,367.2 L1102.1,366.2 L1102.2,365.2 L1102.3,364.2 L1102.4,363.2 L1102.5,362.2 L1102.6,361.2 L1102.7,360.2 L1102.8,359.2 L1102.9,358.2 L1103.0,357.2 L1103.1,356.2 L1103.2,355.2 L1103.3,354.3 L1103.4,353.3 L1103.5,352.3 L1103.6,351.3 L1103.7,350.3 L1103.8,349.3 L1103.8,348.3 L1103.9,347.3 L1104.0,346.3 L1104.1,345.3 L1104.2,344.3 L1104.3,343.3 L1104.4,342.3 L1104.5,341.3 L1104.6,340.3 L1104.7,339.3 L1104.8,338.3 L1104.9,337.3 L1104.9,336.3 L1105.0,335.3 L1105.1,334.3 L1105.2,333.3 L1105.3,332.3 L1105.4,331.3 L1105.5,330.3 L1105.6,329.3 L1105.6,328.3 L1105.7,327.3 L1105.8,326.3 L1105.9,325.3 L1106.0,324.3 L1106.1,323.3 L1106.1,322.3 L1106.2,321.3 L1106.3,320.4 L1106.4,319.4 L1106.5,318.4 L1106.5,317.4 L1106.6,316.4 L1106.7,315.4 L1106.8,314.4 L1106.8,313.4 L1106.9,312.4 L1107.0,311.4 L1107.1,310.4 L1107.2,309.4 L1107.2,308.4 L1107.3,307.4 L1107.4,306.4 L1107.5,305.4 L1107.5,304.4 L1107.6,303.4 L1107.7,302.4 L1107.8,301.4 L1107.8,300.4 L1107.9,299.4 L1108.0,298.4 L1108.1,297.4 L1108.1,296.4 L1108.2,295.4 L1108.3,294.4 L1108.4,293.4 L1108.4,292.4 L1108.5,291.4 L1108.6,290.4 L1108.7,289.4 L1108.7,288.4 L1108.8,287.4 L1108.9,286.4 L1109.0,285.4 L1109.0,284.4 L1109.1,283.4 L1109.2,282.4 L1109.3,281.4 L1109.3,280.4 L1109.4,279.4 L1109.5,278.4 L1109.6,277.4 L1109.7,276.4 L1109.7,275.4 L1109.8,274.4 L1109.9,273.4 L1110.0,272.4 L1110.0,271.4 L1110.1,270.4 L1110.2,269.4 L1110.3,268.4 L1110.4,267.5 L1110.5,266.5 L1110.5,265.5 L1110.6,264.5 L1110.7,263.5 L1110.8,262.5 L1110.9,261.5 L1111.0,260.5 L1111.0,259.5 L1111.1,258.5 L1111.2,257.5 L1111.3,256.5 L1111.4,255.5 L1111.5,254.5 L1111.6,253.5 L1111.7,252.5 L1111.7,251.5 L1111.8,250.5 L1111.9,249.5 L1112.0,248.5 L1112.1,247.5 L1112.2,246.5 L1112.3,245.5 L1112.4,244.5 L1112.5,243.5 L1112.6,242.5 L1112.7,241.5 L1112.8,240.5 L1112.9,239.6 L1113.0,238.6 L1113.1,237.6 L1113.2,236.6 L1113.3,235.6 L1113.4,234.6 L1113.6,233.6 L1113.7,232.6 L1113.8,231.6 L1113.9,230.6 L1114.0,229.6 L1114.1,228.6 L1114.2,227.6 L1114.4,226.6 L1114.5,225.6 L1114.6,224.6 L1114.7,223.6 L1114.8,222.6 L1114.9,221.7 L1115.1,220.7 L1115.2,219.7 L1115.3,218.7 L1115.4,217.7 L1115.6,216.7 L1115.7,215.7 L1115.8,214.7 L1115.9,213.7 L1116.1,212.7 L1116.2,211.7 L1116.3,210.7 L1116.4,209.7 L1116.6,208.7 L1116.7,207.7 L1116.8,206.8 L1117.0,205.8 L1117.1,204.8 L1117.2,203.8 L1117.3,202.8 L1117.5,201.8 L1117.6,200.8 L1117.7,199.8 L1117.9,198.8 L1118.0,197.8 L1118.1,196.8 L1118.2,195.8 L1118.4,194.8 L1118.5,193.8 L1118.6,192.9 L1118.8,191.9 L1118.9,190.9 L1119.0,189.9 L1119.1,188.9 L1119.3,187.9 L1119.4,186.9 L1119.5,185.9 L1119.7,184.9 L1119.8,183.9 L1119.9,182.9 L1120.0,181.9 L1120.2,180.9 L1120.3,179.9 L1120.4,179.0 L1120.5,178.0 L1120.7,177.0 L1120.8,176.0 L1120.9,175.0 L1121.0,174.0 L1121.2,173.0 L1121.3,172.0 L1121.4,171.0 L1121.6,170.0 L1121.7,169.0 L1121.8,168.0 L1121.9,167.0 L1122.1,166.1 L1122.2,165.1 L1122.3,164.1 L1122.5,163.1 L1122.6,162.1 L1122.7,161.1 L1122.9,160.1 L1123.0,159.1 L1123.1,158.1 L1123.2,157.1 L1123.4,156.1 L1123.5,155.1 L1123.6,154.1 L1123.8,153.1 L1123.9,152.2 L1124.0,151.2 L1124.2,150.2 L1124.3,149.2 L1124.4,148.2 L1124.6,147.2 L1124.7,146.2 L1124.8,145.2 L1124.9,144.2 L1125.1,143.2 L1125.2,142.2 L1125.3,141.2 L1125.5,140.2 L1125.6,139.3 L1125.7,138.3 L1125.8,137.3 L1126.0,136.3 L1126.1,135.3 L1126.2,134.3 L1126.4,133.3 L1126.5,132.3 L1126.6,131.3 L1126.7,130.3 L1126.9,129.3 L1127.0,128.3 L1127.1,127.3 L1127.2,126.3 L1127.3,125.3 L1127.5,124.4 L1127.6,123.4 L1127.7,122.4 L1127.8,121.4 L1128.0,120.4 L1128.1,119.4 L1128.2,118.4 L1128.4,117.4 L1128.5,116.4 L1128.6,115.4 L1128.7,114.4 L1128.9,113.4 L1129.0,112.4 L1129.1,111.5 L1129.3,110.5 L1129.4,109.5 L1129.6,108.5 L1129.7,107.5 L1129.8,106.5 L1130.0,105.5 L1130.1,104.5 L1130.3,103.5 L1130.4,102.5 L1130.6,101.5 L1130.7,100.6 L1130.9,99.6 L1131.0,98.6 L1131.2,97.6 L1131.3,96.6 L1131.5,95.6 L1131.7,94.6 L1131.8,93.6 L1132.0,92.7 L1132.2,91.7 L1132.3,90.7 L1132.5,89.7 L1132.7,88.7 L1132.8,87.7 L1133.0,86.7 L1133.2,85.7 L1133.4,84.8 L1133.6,83.8 L1133.8,82.8 L1134.0,81.8 L1134.2,80.8 L1134.4,79.9 L1134.6,78.9 L1134.8,77.9 L1135.0,76.9 L1135.2,75.9 L1135.4,75.0 L1135.6,74.0 L1135.8,73.0 L1136.0,72.0 L1136.3,71.0 L1136.5,70.1 L1136.7,69.1 L1137.0,68.1 L1137.2,67.1 L1137.5,66.2 L1137.7,65.2 L1138.0,64.2 L1138.2,63.3 L1138.5,62.3 L1138.8,61.3 L1139.1,60.4 L1139.3,59.4 L1139.6,58.5 L1139.9,57.5 L1140.2,56.6 L1140.6,55.6 L1140.9,54.6 L1141.2,53.6 L1141.6,52.7 L1141.9,51.7 L1142.3,50.8 L1142.7,49.9 L1143.1,49.0 L1143.5,48.1 L1144.0,47.2 L1144.5,46.4 L1145.0,45.6 L1145.6,44.8 L1146.2,43.9 L1146.9,43.1 L1147.7,42.3 L1148.4,41.6 L1149.2,41.0 L1150.0,40.5 L1150.8,40.0 L1151.7,39.6 L1152.7,39.2 L1153.7,38.9 L1154.7,38.7 L1155.6,38.6 L1156.6,38.7 L1157.6,38.9 L1158.6,39.2 L1159.6,39.6 L1160.5,40.0 L1161.3,40.5 L1162.0,41.0 L1162.7,41.6 L1163.3,42.4 L1164.0,43.2 L1164.6,44.0 L1165.1,44.9 L1165.7,45.9 L1166.2,46.8 L1166.7,47.8 L1167.2,48.7 L1167.6,49.5 L1168.0,50.4 L1168.5,51.3 L1168.8,52.2 L1169.2,53.2 L1169.6,54.1 L1169.9,55.0 L1170.3,56.0 L1170.6,57.0 L1170.9,57.9 L1171.2,58.9 L1171.5,59.8 L1171.9,60.8 L1172.2,61.7 L1172.5,62.7 L1172.8,63.6 L1173.1,64.6 L1173.4,65.5 L1173.7,66.5 L1174.0,67.4 L1174.3,68.4 L1174.6,69.4 L1174.9,70.3 L1175.2,71.3 L1175.5,72.2 L1175.7,73.2 L1176.0,74.2 L1176.3,75.1 L1176.6,76.1 L1176.8,77.1 L1177.1,78.0 L1177.3,79.0 L1177.6,80.0 L1177.9,80.9 L1178.1,81.9 L1178.3,82.9 L1178.6,83.8 L1178.8,84.8 L1179.1,85.8 L1179.3,86.8 L1179.5,87.7 L1179.8,88.7 L1180.0,89.7 L1180.2,90.7 L1180.4,91.6 L1180.7,92.6 L1180.9,93.6 L1181.1,94.6 L1181.4,95.5 L1181.6,96.5 L1181.9,97.5 L1182.1,98.4 L1182.4,99.4 L1182.6,100.4 L1182.8,101.4 L1183.1,102.3 L1183.3,103.3 L1183.6,104.3 L1183.8,105.2 L1184.1,106.2 L1184.3,107.2 L1184.6,108.1 L1184.8,109.1 L1185.0,110.1 L1185.3,111.1 L1185.5,112.0 L1185.8,113.0 L1186.0,114.0 L1186.3,114.9 L1186.5,115.9 L1186.7,116.9 L1187.0,117.9 L1187.2,118.8 L1187.5,119.8 L1187.7,120.8 L1187.9,121.7 L1188.2,122.7 L1188.4,123.7 L1188.6,124.7 L1188.9,125.6 L1189.1,126.6 L1189.4,127.6 L1189.6,128.6 L1189.8,129.5 L1190.1,130.5 L1190.3,131.5 L1190.6,132.4 L1190.9,133.4 L1191.1,134.4 L1191.4,135.3 L1191.6,136.3 L1191.9,137.3 L1192.2,138.2 L1192.4,139.2 L1192.7,140.2 L1193.0,141.1 L1193.2,142.1 L1193.5,143.1 L1193.8,144.0 L1194.0,145.0 L1194.3,145.9 L1194.6,146.9 L1194.8,147.9 L1195.1,148.8 L1195.3,149.8 L1195.6,150.8 L1195.9,151.7 L1196.1,152.7 L1196.4,153.7 L1196.6,154.6 L1196.9,155.6 L1197.1,156.6 L1197.4,157.6 L1197.6,158.5 L1197.9,159.5 L1198.1,160.5 L1198.4,161.4 L1198.6,162.4 L1198.9,163.4 L1199.2,164.3 L1199.4,165.3 L1199.7,166.3 L1199.9,167.2 L1200.2,168.2 L1200.5,169.2 L1200.7,170.1 L1201.0,171.1 L1201.3,172.1 L1201.6,173.0 L1201.9,174.0 L1202.1,174.9 L1202.4,175.9 L1202.7,176.9 L1203.0,177.8 L1203.3,178.8 L1203.6,179.7 L1203.9,180.7 L1204.2,181.7 L1204.5,182.6 L1204.8,183.6 L1205.1,184.5 L1205.4,185.5 L1205.7,186.4 L1206.1,187.4 L1206.4,188.3 L1206.7,189.3 L1207.1,190.2 L1207.5,191.1 L1207.8,192.0 L1208.2,192.9 L1208.6,193.9 L1209.0,194.8 L1209.4,195.8 L1209.9,196.7 L1210.3,197.7 L1210.8,198.6 L1211.2,199.6 L1211.7,200.5 L1212.3,201.3 L1212.8,202.1 L1213.4,202.9 L1214.0,203.6 L1214.6,204.2 L1215.4,204.9 L1216.2,205.5 L1217.0,206.1 L1218.0,206.7 L1218.9,207.2 L1219.9,207.5 L1220.8,207.6 L1221.8,207.6 L1222.8,207.5 L1223.8,207.3 L1224.8,207.1 L1225.8,206.8 L1226.8,206.5 L1227.7,206.2 L1228.6,205.9 L1229.4,205.4 L1230.3,204.8 L1231.1,204.2 L1231.9,203.6 L1232.8,203.0 L1233.6,202.5 L1234.5,201.9 L1235.3,201.4 L1236.1,200.8 L1236.9,200.2 L1237.8,199.6 L1238.6,199.0 L1239.4,198.5 L1240.3,198.0 L1241.2,197.5 L1242.1,197.2 L1243.0,196.8 L1243.9,196.4 L1244.9,196.0 L1245.9,195.7 L1246.8,195.4 L1247.8,195.2 L1248.8,195.0 L1249.8,195.0 L1250.8,195.0 L1251.8,195.1 L1252.8,195.3 L1253.8,195.4 L1254.8,195.6 L1255.8,195.8 L1256.7,196.0 L1257.6,196.4 L1258.5,196.8 L1259.4,197.3 L1260.3,197.9 L1261.1,198.5 L1261.9,199.1 L1262.7,199.7 L1263.4,200.4 L1264.1,201.1 L1264.7,201.8 L1265.4,202.6 L1266.0,203.4 L1266.6,204.3 L1267.2,205.1 L1267.8,205.9 L1268.3,206.8 L1268.9,207.6 L1269.4,208.4 L1269.9,209.3 L1270.4,210.1 L1270.9,211.0 L1271.4,211.9 L1271.9,212.8 L1272.4,213.6 L1272.9,214.5 L1273.3,215.4 L1273.8,216.3 L1274.3,217.2 L1274.7,218.1 L1275.2,219.0 L1275.7,219.9 L1276.1,220.8 L1276.6,221.6 L1277.0,222.5 L1277.5,223.4 L1277.9,224.3 L1278.4,225.2 L1278.8,226.1 L1279.3,227.0 L1279.7,227.9 L1280.1,228.8 L1280.6,229.7 L1281.0,230.6 L1281.5,231.5 L1282.0,232.4 L1282.4,233.3 L1282.9,234.2 L1283.4,235.0 L1283.8,235.9 L1284.3,236.8 L1284.8,237.7 L1285.3,238.6 L1285.8,239.4 L1286.2,240.3 L1286.7,241.2 L1287.2,242.1 L1287.6,243.0 L1288.1,243.9 L1288.6,244.8 L1289.0,245.7 L1289.5,246.5 L1289.9,247.4 L1290.3,248.3 L1290.7,249.3 L1291.1,250.2 L1291.5,251.1 L1291.9,252.0 L1292.3,252.9 L1292.7,253.9 L1293.0,254.8 L1293.4,255.7 L1293.7,256.7 L1294.1,257.6 L1294.4,258.6 L1294.7,259.5 L1295.1,260.5 L1295.4,261.4 L1295.8,262.4 L1296.2,263.3 L1296.5,264.2 L1296.9,265.1 L1297.3,266.1 L1297.7,267.0 L1298.1,267.9 L1298.5,268.8 L1298.9,269.7 L1299.4,270.6 L1299.9,271.5 L1300.3,272.3 L1300.8,273.2 L1301.3,274.1 L1301.8,274.9 L1302.4,275.8 L1302.9,276.7 L1303.4,277.5 L1304.0,278.4 L1304.5,279.2 L1305.0,280.0 L1305.6,280.9 L1306.1,281.8 L1306.6,282.7 L1307.2,283.6 L1307.7,284.5 L1308.2,285.4 L1308.8,286.3 L1309.3,287.2 L1309.9,288.1 L1310.4,289.0 L1311.0,289.8 L1311.6,290.7 L1312.2,291.4 L1312.9,292.2 L1313.5,292.8 L1314.2,293.5 L1314.9,294.0 L1315.6,294.5 L1316.4,295.0 L1317.3,295.5 L1318.2,296.0 L1319.1,296.5 L1320.1,297.0 L1321.0,297.4 L1322.0,297.7 L1323.0,298.0 L1324.0,298.2 L1325.0,298.3 L1326.0,298.3 L1326.9,298.3 L1327.9,298.2 L1328.9,298.1 L1329.9,298.0 L1330.9,297.9 L1332.0,297.8 L1333.0,297.7 L1334.0,297.6 L1335.0,297.5 L1336.0,297.4 L1337.0,297.3 L1338.0,297.2 L1339.0,297.1 L1340.0,296.9 L1341.0,296.8 L1342.0,296.7 L1343.0,296.6 L1344.0,296.6 L1344.9,296.5 L1345.9,296.5 L1346.9,296.5 L1347.9,296.6 L1348.9,296.8 L1349.9,297.0 L1350.9,297.2 L1351.9,297.5 L1352.9,297.9 L1353.9,298.2 L1354.9,298.6 L1355.8,299.0 L1356.8,299.4 L1357.7,299.9 L1358.6,300.3 L1359.4,300.8 L1360.3,301.2 L1361.1,301.6 L1361.9,302.1 L1362.6,302.7 L1363.4,303.2 L1364.1,303.8 L1364.9,304.5 L1365.6,305.2 L1366.3,305.9 L1367.0,306.7 L1367.7,307.5 L1368.3,308.3 L1369.0,309.1 L1369.6,309.9 L1370.3,310.8 L1370.9,311.6 L1371.5,312.4 L1372.1,313.3 L1372.7,314.1 L1373.3,314.9 L1373.9,315.7 L1374.5,316.5 L1375.0,317.3 L1375.6,318.2 L1376.1,319.0 L1376.7,319.8 L1377.2,320.7 L1377.7,321.5 L1378.2,322.4 L1378.8,323.2 L1379.3,324.1 L1379.8,325.0 L1380.3,325.8 L1380.7,326.7 L1381.2,327.6 L1381.7,328.5 L1382.2,329.4 L1382.7,330.3 L1383.2,331.1 L1383.6,332.0 L1384.1,332.9 L1384.6,333.8 L1385.1,334.7 L1385.6,335.6 L1386.0,336.5 L1386.5,337.3 L1387.0,338.2 L1387.5,339.1 L1387.9,340.0 L1388.4,340.9 L1388.9,341.8 L1389.3,342.7 L1389.8,343.6 L1390.2,344.4 L1390.7,345.4 L1391.1,346.3 L1391.6,347.2 L1392.0,348.1 L1392.4,349.0 L1392.9,349.9 L1393.3,350.8 L1393.8,351.7 L1394.2,352.6 L1394.6,353.5 L1395.1,354.4 L1395.5,355.3 L1396.0,356.2 L1396.5,357.1 L1396.9,358.0 L1397.4,358.8 L1397.8,359.7 L1398.3,360.6 L1398.8,361.5 L1399.3,362.3 L1399.8,363.2 L1400.3,364.1 L1400.8,364.9 L1401.3,365.7 L1401.9,366.6 L1402.4,367.4 L1402.9,368.3 L1403.5,369.2 L1404.0,370.1 L1404.6,370.9 L1405.1,371.8 L1405.7,372.7 L1406.2,373.6 L1406.8,374.5 L1407.4,375.4 L1408.0,376.2 L1408.6,377.1 L1409.2,377.9 L1409.9,378.7 L1410.5,379.4 L1411.2,380.1 L1411.9,380.8 L1412.5,381.5 L1413.3,382.1 L1414.0,382.6 L1414.7,383.1 L1415.5,383.6 L1416.3,384.1 L1417.2,384.6 L1418.1,385.1 L1419.0,385.5 L1420.0,385.9 L1420.9,386.3 L1421.9,386.7 L1422.9,387.1 L1423.9,387.4 L1424.9,387.6 L1425.9,387.9 L1426.8,388.0 L1427.8,388.2 L1428.8,388.3 L1429.8,388.4 L1430.8,388.5 L1431.8,388.6 L1432.8,388.6 L1433.8,388.7 L1434.8,388.7 L1435.8,388.8 L1436.8,388.9 L1437.8,388.9 L1438.8,389.0 L1439.8,389.1 L1440.8,389.2 L1441.8,389.3 L1442.8,389.4 L1443.7,389.7 L1444.7,389.9 L1445.6,390.3 L1446.6,390.6 L1447.5,391.1 L1448.4,391.5 L1449.4,391.9 L1450.3,392.3 L1451.2,392.7 L1452.0,393.2 L1452.9,393.7 L1453.8,394.1 L1454.7,394.6 L1455.6,395.2 L1456.5,395.7 L1457.3,396.2 L1458.2,396.8 L1459.0,397.4 L1459.8,397.9 L1460.6,398.5 L1461.4,399.1 L1462.2,399.8 L1462.9,400.4 L1463.6,401.0 L1464.3,401.7 L1465.0,402.4 L1465.7,403.1 L1466.4,403.8 L1467.1,404.6 L1467.7,405.3 L1468.3,406.1 L1469.0,406.9 L1469.6,407.7 L1470.2,408.5 L1470.8,409.3 L1471.5,410.1 L1472.1,411.0 L1472.7,411.8 L1473.3,412.6 L1473.9,413.4 L1474.5,414.2 L1475.1,415.0 L1475.7,415.8 L1476.3,416.6 L1476.9,417.4 L1477.5,418.2 L1478.1,419.0 L1478.6,419.9 L1479.2,420.7 L1479.8,421.5 L1480.3,422.3 L1480.9,423.2 L1481.5,424.0 L1482.0,424.8 L1482.6,425.7 L1483.2,426.5 L1483.7,427.3 L1484.3,428.1 L1484.9,429.0 L1485.5,429.8 L1486.1,430.6 L1486.7,431.4 L1487.3,432.1 L1487.9,432.9 L1488.5,433.7 L1489.2,434.5 L1489.8,435.3 L1490.4,436.1 L1491.1,437.0 L1491.7,437.8 L1492.3,438.7 L1493.0,439.5 L1493.6,440.3 L1494.3,441.1 L1495.0,441.9 L1495.7,442.7 L1496.4,443.4 L1497.1,444.1 L1497.8,444.7 L1498.6,445.3 L1499.3,445.9 L1500.1,446.4 L1500.9,446.8 L1501.7,447.2 L1502.6,447.6 L1503.5,448.0 L1504.5,448.4 L1505.5,448.7 L1506.5,449.0 L1507.5,449.3 L1508.5,449.5 L1509.5,449.7 L1510.5,449.8 L1511.5,449.8 L1512.4,449.7 L1513.4,449.6 L1514.4,449.4 L1515.3,449.2 L1516.3,449.0 L1517.3,448.7 L1518.2,448.4 L1519.2,448.1 L1520.2,447.8 L1521.1,447.5 L1522.1,447.2 L1523.1,446.8 L1524.1,446.6 L1525.0,446.3 L1526.0,446.1 L1527.0,445.9 L1528.0,445.7 L1529.0,445.5 L1530.0,445.3 L1530.9,445.1 L1531.9,444.8 L1532.9,444.5 L1533.9,444.2 L1534.8,443.9 L1535.8,443.6 L1536.8,443.3 L1537.8,443.0 L1538.7,442.8 L1539.7,442.7 L1540.7,442.6 L1541.6,442.6 L1542.6,442.7 L1543.6,442.8 L1544.6,442.9 L1545.5,443.1 L1546.5,443.3 L1547.5,443.6 L1548.5,443.8 L1549.4,444.1 L1550.4,444.5 L1551.4,444.8 L1552.3,445.2 L1553.3,445.5 L1554.3,445.9 L1555.2,446.3 L1556.1,446.7 L1557.1,447.1 L1558.0,447.5 L1558.9,447.8 L1559.8,448.2 L1560.7,448.7 L1561.6,449.1 L1562.4,449.6 L1563.3,450.1 L1564.2,450.6 L1565.0,451.2 L1565.9,451.7 L1566.7,452.3 L1567.6,452.8 L1568.4,453.3 L1569.3,453.9 L1570.2,454.4 L1571.0,454.9 L1571.9,455.5 L1572.7,456.0 L1573.5,456.6 L1574.4,457.2 L1575.2,457.8 L1576.0,458.4 L1576.9,458.9 L1577.7,459.5 L1578.6,460.0 L1579.4,460.5 L1580.3,461.0 L1581.2,461.4 L1582.1,461.8 L1583.0,462.2 L1583.9,462.5 L1584.8,462.9 L1585.8,463.3 L1586.7,463.7 L1587.7,464.0 L1588.6,464.4 L1589.6,464.7 L1590.6,465.0 L1591.6,465.3 L1592.6,465.5 L1593.5,465.7 L1594.5,465.8 L1595.5,465.9 L1596.5,466.0 L1597.5,466.0 L1598.4,465.9 L1599.4,465.8 L1600.4,465.7 L1601.4,465.6 L1602.4,465.4 L1603.4,465.2 L1604.4,464.9 L1605.4,464.7 L1606.4,464.4 L1607.3,464.2 L1608.3,463.9 L1609.3,463.7 L1610.2,463.4 L1611.1,463.1 L1612.1,462.7 L1613.0,462.3 L1613.9,461.8 L1614.8,461.4 L1615.7,460.9 L1616.6,460.4 L1617.5,460.0 L1618.4,459.5 L1619.3,459.1 L1620.2,458.7 L1621.2,458.3 L1622.1,458.0 L1623.0,457.8 L1624.0,457.5 L1625.0,457.2 L1625.9,456.9 L1626.9,456.7 L1627.9,456.4 L1628.9,456.1 L1629.9,455.9 L1630.8,455.7 L1631.8,455.5 L1632.8,455.3 L1633.8,455.1 L1634.8,455.0 L1635.8,454.9 L1636.8,454.8 L1637.8,454.8 L1638.8,454.8 L1639.8,454.8 L1640.8,454.9 L1641.8,454.9 L1642.8,455.0 L1643.8,455.1 L1644.8,455.1 L1645.8,455.2 L1646.8,455.4 L1647.8,455.5 L1648.8,455.6 L1649.8,455.7 L1650.8,455.9 L1651.8,456.0 L1652.8,456.2 L1653.7,456.4 L1654.7,456.5 L1655.6,456.8 L1656.6,457.0 L1657.5,457.4 L1658.4,457.7 L1659.3,458.1 L1660.2,458.6 L1661.1,459.0 L1662.1,459.5 L1663.0,460.0 L1663.9,460.5 L1664.8,461.0 L1665.7,461.5 L1666.6,461.9 L1667.5,462.4 L1668.4,462.8 L1669.3,463.3 L1670.2,463.7 L1671.1,464.1 L1672.0,464.6 L1672.9,465.0 L1673.8,465.5 L1674.6,465.9 L1675.5,466.4 L1676.4,466.8 L1677.3,467.3 L1678.2,467.7 L1679.1,468.2 L1680.0,468.7 L1680.9,469.1 L1681.8,469.6 L1682.6,470.1 L1683.5,470.7 L1684.4,471.2 L1685.2,471.7 L1686.1,472.2 L1687.0,472.7 L1687.9,473.1 L1688.8,473.4 L1689.8,473.6 L1690.7,473.9 L1691.7,474.2 L1692.6,474.5 L1693.6,474.7 L1694.6,475.0 L1695.6,475.2 L1696.6,475.4 L1697.6,475.5 L1698.6,475.6 L1699.6,475.7 L1700.6,475.8 L1701.6,475.8 L1702.6,475.8 L1703.6,475.7 L1704.6,475.7 L1705.6,475.6 L1706.6,475.5 L1707.6,475.4 L1708.6,475.3 L1709.6,475.1 L1710.6,475.0 L1711.6,474.9 L1712.6,474.8 L1713.6,474.7 L1714.6,474.6 L1715.5,474.4 L1716.5,474.3 L1717.5,474.2 L1718.5,474.0 L1719.5,473.9 L1720.5,473.8 L1721.5,473.6 L1722.5,473.5 L1723.5,473.4 L1724.5,473.3 L1725.5,473.2 L1726.5,473.2 L1727.5,473.1 L1728.5,473.1 L1729.5,473.1 L1730.5,473.1 L1731.5,473.2 L1732.5,473.3 L1733.5,473.3 L1734.5,473.4 L1735.5,473.5 L1736.5,473.7 L1737.5,473.8 L1738.5,473.9 L1739.5,474.1 L1740.5,474.2 L1741.5,474.4 L1742.4,474.6 L1743.4,474.7 L1744.4,475.0 L1745.3,475.2 L1746.3,475.5 L1747.2,475.8 L1748.1,476.2 L1749.1,476.6 L1750.0,477.0 L1750.9,477.4 L1751.9,477.8 L1752.8,478.2 L1753.7,478.6 L1754.6,479.1 L1755.5,479.5 L1756.5,479.9 L1757.4,480.3 L1758.3,480.7 L1759.2,481.1 L1760.1,481.6 L1761.0,482.0 L1761.9,482.5 L1762.7,483.0 L1763.6,483.4 L1764.5,483.9 L1765.4,484.4 L1766.3,484.8 L1767.2,485.3 L1768.1,485.8 L1768.9,486.3 L1769.8,486.7 L1770.7,487.2 L1771.5,487.7 L1772.4,488.3 L1773.3,488.8 L1774.1,489.3 L1775.0,489.8 L1775.9,490.3 L1776.7,490.8 L1777.6,491.3 L1778.5,491.8 L1779.4,492.2 L1780.3,492.7 L1781.2,493.1 L1782.1,493.5 L1783.0,494.0 L1783.9,494.5 L1784.8,494.9 L1785.8,495.4 L1786.7,495.8 L1787.6,496.2 L1788.6,496.6 L1789.5,496.9 L1790.5,497.1 L1791.4,497.2 L1792.4,497.2 L1793.4,497.2 L1794.4,497.2 L1795.4,497.1 L1796.4,497.1 L1797.4,497.0 L1798.4,497.0 L1799.4,496.9 L1800.4,496.8 L1801.4,496.7 L1802.4,496.7 L1803.4,496.6 L1804.4,496.5 L1805.4,496.4 L1806.4,496.4 L1807.4,496.3 L1808.4,496.2 L1809.4,496.1 L1810.4,496.0 L1811.4,495.8 L1812.4,495.7 L1813.4,495.6 L1814.4,495.5 L1815.4,495.4 L1816.4,495.3 L1817.4,495.2 L1818.4,495.1 L1819.4,495.1 L1820.4,495.0 L1821.4,495.0 L1822.4,495.0 L1823.4,495.0 L1824.4,495.0 L1825.4,495.1 L1826.4,495.1 L1827.4,495.2 L1828.4,495.3 L1829.4,495.3 L1830.4,495.4 L1831.4,495.5 L1832.4,495.6 L1833.4,495.7 L1834.4,495.8 L1835.4,495.9 L1836.4,496.0 L1837.3,496.2 L1838.3,496.3 L1839.3,496.5 L1840.3,496.7 L1841.2,496.9 L1842.2,497.2 L1843.1,497.5 L1844.1,497.8 L1845.0,498.1 L1846.0,498.5 L1846.9,498.9 L1847.9,499.3 L1848.8,499.7 L1849.7,500.1 L1850.7,500.5 L1851.6,500.9 L1852.5,501.3 L1853.4,501.6 L1854.4,502.0 L1855.3,502.4 L1856.2,502.8 L1857.1,503.2 L1858.0,503.7 L1858.9,504.1 L1859.8,504.6 L1860.7,505.0 L1861.6,505.5 L1862.5,505.9 L1863.4,506.4 L1864.3,506.8 L1865.2,507.3 L1866.1,507.7 L1867.0,508.2 L1867.9,508.6 L1868.8,509.0 L1869.7,509.4 L1870.6,509.8 L1871.5,510.2 L1872.5,510.6 L1873.4,511.1 L1874.3,511.5 L1875.2,511.9 L1876.2,512.3 L1877.1,512.7 L1878.1,513.0 L1879.0,513.4 L1880.0,513.6 L1880.9,513.9 L1881.9,514.1 L1882.8,514.2 L1883.8,514.3 L1884.8,514.4 L1885.8,514.5 L1886.8,514.6 L1887.8,514.7 L1888.8,514.8 L1889.8,514.9 L1890.8,514.9 L1891.8,514.9 L1892.8,514.9 L1893.8,514.8 L1894.8,514.7 L1895.8,514.6 L1896.8,514.5 L1897.8,514.4 L1898.8,514.2 L1899.8,514.1 L1900.8,513.9 L1901.8,513.7 L1902.8,513.6 L1903.8,513.4 L1904.7,513.3 L1905.7,513.1 L1906.7,512.9 L1907.7,512.7 L1908.7,512.5 L1909.7,512.3 L1910.6,512.1 L1911.6,511.9 L1912.6,511.6 L1913.6,511.5 L1914.6,511.3 L1915.6,511.1 L1916.5,511.0 L1917.5,510.9 L1918.5,510.8 L1919.5,510.7 L1920.5,510.6 L1921.5,510.5 L1922.5,510.4 L1923.5,510.3 L1924.5,510.2 L1925.5,510.2 L1926.5,510.1 L1927.5,510.1 L1928.5,510.1 L1929.5,510.1 L1930.5,510.2 L1931.5,510.3 L1932.5,510.4 L1933.5,510.5 L1934.5,510.6 L1934.5,540.3 L1933.5,540.1 L1932.5,539.9 L1931.6,539.7 L1930.6,539.5 L1929.6,539.3 L1928.6,539.1 L1927.6,538.9 L1926.7,538.7 L1925.7,538.4 L1924.7,538.1 L1923.7,537.8 L1922.8,537.5 L1921.8,537.2 L1920.8,536.9 L1919.9,536.6 L1918.9,536.4 L1917.9,536.3 L1917.0,536.3 L1916.0,536.3 L1915.0,536.4 L1914.0,536.5 L1913.0,536.7 L1912.0,536.9 L1911.0,537.1 L1910.1,537.3 L1909.1,537.6 L1908.1,537.8 L1907.1,538.1 L1906.1,538.3 L1905.1,538.5 L1904.2,538.8 L1903.2,539.0 L1902.2,539.3 L1901.3,539.6 L1900.3,539.8 L1899.4,540.1 L1898.4,540.4 L1897.5,540.8 L1896.5,541.1 L1895.6,541.4 L1894.6,541.7 L1893.7,542.0 L1892.7,542.4 L1891.8,542.7 L1890.8,543.0 L1889.9,543.4 L1888.9,543.8 L1888.0,544.2 L1887.1,544.7 L1886.1,545.1 L1885.2,545.5 L1884.2,545.9 L1883.3,546.3 L1882.4,546.6 L1881.4,546.8 L1880.4,547.0 L1879.5,547.1 L1878.5,547.1 L1877.5,547.1 L1876.5,547.1 L1875.6,547.1 L1874.6,547.1 L1873.5,547.1 L1872.5,547.0 L1871.5,547.0 L1870.5,547.0 L1869.5,547.0 L1868.5,546.9 L1867.5,546.9 L1866.5,546.9 L1865.5,546.9 L1864.5,546.8 L1863.5,546.8 L1862.5,546.7 L1861.5,546.7 L1860.5,546.6 L1859.5,546.5 L1858.6,546.3 L1857.6,546.1 L1856.6,545.9 L1855.6,545.6 L1854.7,545.3 L1853.7,545.0 L1852.8,544.7 L1851.8,544.3 L1850.8,544.0 L1849.9,543.6 L1848.9,543.3 L1848.0,543.0 L1847.0,542.6 L1846.1,542.3 L1845.1,542.0 L1844.2,541.7 L1843.3,541.3 L1842.3,541.0 L1841.4,540.6 L1840.5,540.2 L1839.5,539.9 L1838.6,539.5 L1837.7,539.1 L1836.7,538.8 L1835.8,538.4 L1834.9,538.0 L1833.9,537.7 L1833.0,537.3 L1832.1,536.8 L1831.1,536.4 L1830.2,535.9 L1829.3,535.4 L1828.3,535.0 L1827.4,534.5 L1826.5,534.1 L1825.5,533.8 L1824.6,533.5 L1823.7,533.3 L1822.7,533.1 L1821.8,533.1 L1820.8,533.1 L1819.8,533.2 L1818.9,533.4 L1817.9,533.5 L1816.9,533.8 L1816.0,534.0 L1815.0,534.3 L1814.0,534.6 L1813.0,534.9 L1812.0,535.2 L1811.1,535.5 L1810.1,535.8 L1809.1,536.1 L1808.1,536.3 L1807.2,536.6 L1806.2,536.8 L1805.2,537.1 L1804.3,537.4 L1803.3,537.6 L1802.3,537.9 L1801.4,538.2 L1800.4,538.4 L1799.4,538.7 L1798.5,538.9 L1797.5,539.2 L1796.5,539.4 L1795.6,539.7 L1794.6,539.9 L1793.6,540.2 L1792.6,540.5 L1791.7,540.7 L1790.7,541.0 L1789.7,541.3 L1788.7,541.5 L1787.8,541.8 L1786.8,542.0 L1785.8,542.1 L1784.8,542.2 L1783.8,542.2 L1782.8,542.2 L1781.8,542.1 L1780.8,542.1 L1779.8,542.0 L1778.8,541.9 L1777.8,541.7 L1776.8,541.6 L1775.8,541.4 L1774.8,541.3 L1773.9,541.1 L1772.9,540.9 L1771.9,540.7 L1770.9,540.5 L1770.0,540.3 L1769.0,540.1 L1768.0,539.8 L1767.1,539.5 L1766.1,539.1 L1765.2,538.8 L1764.2,538.4 L1763.3,538.0 L1762.4,537.6 L1761.5,537.2 L1760.6,536.8 L1759.7,536.3 L1758.8,535.9 L1757.9,535.4 L1757.1,534.9 L1756.2,534.4 L1755.4,533.8 L1754.6,533.3 L1753.8,532.7 L1752.9,532.1 L1752.1,531.5 L1751.3,530.9 L1750.5,530.3 L1749.7,529.6 L1748.9,529.0 L1748.1,528.4 L1747.3,527.8 L1746.5,527.2 L1745.7,526.6 L1745.0,525.9 L1744.2,525.2 L1743.5,524.5 L1742.7,523.8 L1742.0,523.0 L1741.2,522.3 L1740.5,521.6 L1739.7,521.0 L1738.9,520.3 L1738.2,519.7 L1737.4,519.1 L1736.6,518.6 L1735.7,518.1 L1734.9,517.7 L1734.0,517.3 L1733.1,516.9 L1732.2,516.5 L1731.2,516.1 L1730.3,515.8 L1729.3,515.5 L1728.3,515.1 L1727.3,514.9 L1726.3,514.7 L1725.3,514.5 L1724.3,514.4 L1723.4,514.4 L1722.4,514.5 L1721.4,514.6 L1720.5,514.8 L1719.5,515.1 L1718.5,515.4 L1717.5,515.7 L1716.6,516.1 L1715.6,516.4 L1714.6,516.7 L1713.7,516.9 L1712.7,517.2 L1711.7,517.5 L1710.8,517.7 L1709.8,518.0 L1708.8,518.3 L1707.9,518.6 L1706.9,518.9 L1705.9,519.2 L1705.0,519.4 L1704.0,519.6 L1703.0,519.8 L1702.0,519.9 L1701.0,520.0 L1700.0,520.1 L1699.1,520.2 L1698.1,520.3 L1697.0,520.4 L1696.0,520.4 L1695.0,520.5 L1694.0,520.5 L1693.0,520.6 L1692.0,520.6 L1691.0,520.7 L1690.0,520.7 L1689.0,520.7 L1688.0,520.7 L1687.1,520.6 L1686.1,520.5 L1685.1,520.4 L1684.1,520.2 L1683.1,519.9 L1682.1,519.7 L1681.1,519.4 L1680.1,519.1 L1679.1,518.8 L1678.2,518.4 L1677.3,518.1 L1676.4,517.8 L1675.5,517.4 L1674.6,517.0 L1673.7,516.6 L1672.9,516.1 L1672.1,515.6 L1671.3,515.1 L1670.5,514.5 L1669.7,513.9 L1668.9,513.2 L1668.1,512.6 L1667.3,511.9 L1666.6,511.2 L1665.8,510.5 L1665.0,509.8 L1664.2,509.1 L1663.5,508.5 L1662.7,507.8 L1661.9,507.1 L1661.1,506.5 L1660.3,505.8 L1659.5,505.2 L1658.7,504.6 L1658.0,503.9 L1657.2,503.2 L1656.4,502.5 L1655.6,501.7 L1654.9,501.0 L1654.1,500.3 L1653.3,499.6 L1652.5,499.0 L1651.7,498.3 L1650.9,497.8 L1650.0,497.3 L1649.2,496.9 L1648.3,496.6 L1647.5,496.4 L1646.5,496.2 L1645.6,496.0 L1644.6,495.8 L1643.7,495.7 L1642.7,495.5 L1641.6,495.4 L1640.6,495.3 L1639.6,495.2 L1638.6,495.1 L1637.5,495.0 L1636.5,494.9 L1635.5,494.8 L1634.5,494.8 L1633.5,494.8 L1632.6,494.8 L1631.6,494.9 L1630.7,495.1 L1629.7,495.3 L1628.8,495.6 L1627.8,495.9 L1626.9,496.3 L1626.0,496.7 L1625.1,497.1 L1624.1,497.6 L1623.2,498.0 L1622.3,498.5 L1621.4,499.0 L1620.5,499.5 L1619.5,500.0 L1618.6,500.5 L1617.7,501.0 L1616.8,501.4 L1615.9,501.8 L1614.9,502.2 L1614.0,502.6 L1613.1,503.1 L1612.2,503.5 L1611.3,504.0 L1610.4,504.6 L1609.4,505.1 L1608.5,505.6 L1607.6,506.0 L1606.7,506.5 L1605.8,506.9 L1604.8,507.3 L1603.9,507.6 L1603.0,507.9 L1602.0,508.1 L1601.1,508.3 L1600.1,508.3 L1599.2,508.3 L1598.2,508.3 L1597.2,508.2 L1596.2,508.1 L1595.2,508.1 L1594.2,508.0 L1593.1,507.9 L1592.1,507.7 L1591.1,507.6 L1590.1,507.4 L1589.1,507.3 L1588.1,507.1 L1587.1,506.9 L1586.1,506.8 L1585.2,506.6 L1584.3,506.4 L1583.4,506.1 L1582.5,505.7 L1581.6,505.3 L1580.7,504.8 L1579.8,504.3 L1579.0,503.8 L1578.1,503.2 L1577.3,502.6 L1576.4,502.0 L1575.6,501.3 L1574.8,500.7 L1573.9,500.1 L1573.1,499.6 L1572.3,499.0 L1571.5,498.4 L1570.7,497.8 L1569.9,497.2 L1569.1,496.6 L1568.3,496.0 L1567.5,495.3 L1566.8,494.7 L1566.0,494.1 L1565.2,493.4 L1564.4,492.8 L1563.7,492.1 L1562.9,491.5 L1562.1,490.9 L1561.4,490.2 L1560.6,489.6 L1559.8,488.9 L1559.1,488.2 L1558.3,487.5 L1557.6,486.8 L1556.8,486.2 L1556.1,485.5 L1555.3,484.8 L1554.5,484.2 L1553.7,483.6 L1552.9,483.1 L1552.1,482.6 L1551.3,482.1 L1550.4,481.5 L1549.5,481.0 L1548.6,480.5 L1547.7,480.0 L1546.7,479.5 L1545.8,479.1 L1544.8,478.7 L1543.9,478.3 L1542.9,478.1 L1542.0,477.9 L1541.0,477.9 L1540.1,477.9 L1539.1,478.0 L1538.1,478.2 L1537.1,478.4 L1536.1,478.7 L1535.1,479.0 L1534.1,479.3 L1533.2,479.7 L1532.2,480.1 L1531.3,480.5 L1530.4,480.9 L1529.6,481.3 L1528.8,481.9 L1528.0,482.6 L1527.3,483.3 L1526.5,483.9 L1525.7,484.6 L1524.9,485.2 L1524.1,485.8 L1523.3,486.4 L1522.5,487.0 L1521.7,487.6 L1520.9,488.2 L1520.1,488.8 L1519.3,489.4 L1518.5,490.0 L1517.7,490.6 L1516.8,491.1 L1516.0,491.7 L1515.1,492.2 L1514.3,492.7 L1513.4,493.2 L1512.6,493.7 L1511.7,494.2 L1510.8,494.8 L1509.9,495.3 L1508.9,495.9 L1508.0,496.4 L1507.1,497.0 L1506.2,497.4 L1505.2,497.9 L1504.3,498.2 L1503.4,498.5 L1502.5,498.7 L1501.6,498.9 L1500.7,498.9 L1499.8,498.8 L1498.9,498.6 L1498.0,498.3 L1497.0,498.0 L1496.1,497.5 L1495.2,497.0 L1494.3,496.4 L1493.4,495.8 L1492.5,495.2 L1491.7,494.6 L1490.8,493.9 L1490.0,493.2 L1489.2,492.6 L1488.4,492.0 L1487.7,491.4 L1487.0,490.7 L1486.2,490.1 L1485.5,489.4 L1484.9,488.7 L1484.2,488.0 L1483.5,487.2 L1482.9,486.4 L1482.3,485.7 L1481.6,484.9 L1481.0,484.1 L1480.4,483.2 L1479.8,482.4 L1479.2,481.6 L1478.6,480.8 L1478.0,479.9 L1477.4,479.1 L1476.8,478.3 L1476.1,477.5 L1475.5,476.7 L1474.9,475.9 L1474.3,475.1 L1473.8,474.3 L1473.2,473.4 L1472.6,472.6 L1472.0,471.8 L1471.5,470.9 L1470.9,470.1 L1470.4,469.3 L1469.8,468.4 L1469.3,467.6 L1468.7,466.7 L1468.1,465.9 L1467.6,465.1 L1467.0,464.2 L1466.4,463.4 L1465.9,462.6 L1465.3,461.8 L1464.7,461.0 L1464.0,460.3 L1463.4,459.5 L1462.8,458.8 L1462.1,458.0 L1461.4,457.2 L1460.7,456.5 L1460.1,455.7 L1459.4,454.9 L1458.7,454.1 L1457.9,453.3 L1457.2,452.5 L1456.5,451.8 L1455.7,451.0 L1455.0,450.3 L1454.2,449.7 L1453.4,449.1 L1452.6,448.6 L1451.8,448.1 L1451.0,447.7 L1450.1,447.3 L1449.3,447.1 L1448.4,446.8 L1447.4,446.5 L1446.5,446.3 L1445.5,446.0 L1444.5,445.8 L1443.5,445.6 L1442.5,445.4 L1441.5,445.2 L1440.5,445.1 L1439.5,444.9 L1438.4,444.8 L1437.4,444.7 L1436.4,444.6 L1435.4,444.5 L1434.4,444.5 L1433.4,444.4 L1432.4,444.4 L1431.4,444.4 L1430.4,444.3 L1429.4,444.3 L1428.3,444.3 L1427.3,444.3 L1426.3,444.2 L1425.3,444.2 L1424.3,444.2 L1423.3,444.2 L1422.3,444.1 L1421.3,444.1 L1420.4,444.0 L1419.4,443.9 L1418.4,443.8 L1417.4,443.6 L1416.4,443.4 L1415.4,443.1 L1414.4,442.8 L1413.4,442.4 L1412.4,442.0 L1411.5,441.6 L1410.6,441.1 L1409.7,440.7 L1408.8,440.2 L1408.0,439.7 L1407.2,439.2 L1406.5,438.7 L1405.8,438.1 L1405.1,437.5 L1404.4,436.8 L1403.8,436.1 L1403.1,435.3 L1402.5,434.5 L1401.9,433.7 L1401.4,432.8 L1400.8,431.9 L1400.2,431.0 L1399.7,430.1 L1399.2,429.2 L1398.6,428.3 L1398.1,427.4 L1397.6,426.5 L1397.1,425.6 L1396.5,424.7 L1396.0,423.9 L1395.5,423.0 L1395.0,422.2 L1394.6,421.3 L1394.1,420.4 L1393.6,419.6 L1393.1,418.7 L1392.7,417.8 L1392.2,416.9 L1391.8,416.0 L1391.3,415.1 L1390.9,414.2 L1390.4,413.3 L1390.0,412.4 L1389.6,411.5 L1389.1,410.6 L1388.7,409.7 L1388.3,408.8 L1387.9,407.9 L1387.4,406.9 L1387.0,406.0 L1386.6,405.1 L1386.2,404.2 L1385.7,403.3 L1385.3,402.4 L1384.9,401.5 L1384.5,400.6 L1384.0,399.7 L1383.6,398.8 L1383.2,397.9 L1382.8,397.0 L1382.3,396.1 L1381.9,395.1 L1381.5,394.2 L1381.1,393.3 L1380.7,392.4 L1380.3,391.5 L1379.9,390.6 L1379.4,389.7 L1379.0,388.8 L1378.6,387.8 L1378.2,386.9 L1377.8,386.0 L1377.4,385.1 L1377.0,384.2 L1376.6,383.3 L1376.2,382.3 L1375.8,381.4 L1375.4,380.5 L1375.0,379.6 L1374.5,378.7 L1374.1,377.8 L1373.7,376.9 L1373.3,376.0 L1372.9,375.1 L1372.4,374.2 L1372.0,373.3 L1371.6,372.4 L1371.1,371.5 L1370.7,370.6 L1370.3,369.6 L1369.8,368.7 L1369.4,367.8 L1369.0,366.8 L1368.6,365.9 L1368.2,364.9 L1367.8,364.0 L1367.4,363.0 L1366.9,362.0 L1366.5,361.1 L1366.1,360.1 L1365.7,359.2 L1365.2,358.2 L1364.8,357.3 L1364.3,356.4 L1363.9,355.5 L1363.4,354.6 L1362.9,353.7 L1362.4,352.9 L1361.9,352.0 L1361.4,351.2 L1360.9,350.4 L1360.3,349.7 L1359.8,348.9 L1359.2,348.2 L1358.6,347.5 L1358.0,346.8 L1357.3,346.1 L1356.6,345.4 L1355.8,344.6 L1355.0,343.9 L1354.2,343.2 L1353.4,342.5 L1352.5,341.8 L1351.6,341.2 L1350.7,340.6 L1349.8,340.1 L1348.9,339.7 L1348.0,339.3 L1347.1,339.1 L1346.1,339.0 L1345.2,339.0 L1344.3,339.1 L1343.3,339.2 L1342.3,339.3 L1341.3,339.5 L1340.3,339.7 L1339.3,339.9 L1338.3,340.1 L1337.3,340.2 L1336.3,340.4 L1335.3,340.6 L1334.3,340.7 L1333.3,340.8 L1332.3,341.0 L1331.3,341.1 L1330.3,341.2 L1329.3,341.4 L1328.3,341.5 L1327.3,341.5 L1326.3,341.6 L1325.3,341.6 L1324.3,341.6 L1323.3,341.4 L1322.3,341.3 L1321.3,341.0 L1320.3,340.8 L1319.2,340.4 L1318.2,340.1 L1317.2,339.7 L1316.3,339.2 L1315.4,338.8 L1314.5,338.4 L1313.7,337.9 L1312.9,337.4 L1312.2,337.0 L1311.6,336.5 L1310.9,335.9 L1310.3,335.3 L1309.7,334.6 L1309.1,333.9 L1308.5,333.1 L1307.9,332.3 L1307.4,331.4 L1306.8,330.6 L1306.3,329.7 L1305.8,328.7 L1305.3,327.8 L1304.8,326.8 L1304.3,325.9 L1303.8,324.9 L1303.3,323.9 L1302.9,322.9 L1302.4,321.9 L1302.0,321.0 L1301.5,320.0 L1301.1,319.0 L1300.6,318.1 L1300.2,317.2 L1299.7,316.3 L1299.3,315.4 L1298.8,314.5 L1298.4,313.6 L1298.0,312.7 L1297.6,311.8 L1297.2,310.9 L1296.8,309.9 L1296.4,309.0 L1296.1,308.1 L1295.7,307.2 L1295.3,306.2 L1294.9,305.3 L1294.6,304.4 L1294.2,303.4 L1293.8,302.5 L1293.4,301.6 L1293.1,300.7 L1292.7,299.7 L1292.3,298.8 L1292.0,297.9 L1291.6,296.9 L1291.2,296.0 L1290.9,295.1 L1290.5,294.1 L1290.2,293.2 L1289.8,292.3 L1289.4,291.3 L1289.1,290.4 L1288.7,289.5 L1288.4,288.5 L1288.0,287.6 L1287.7,286.6 L1287.4,285.7 L1287.0,284.8 L1286.7,283.8 L1286.3,282.9 L1286.0,281.9 L1285.6,281.0 L1285.3,280.1 L1284.9,279.1 L1284.6,278.2 L1284.3,277.2 L1283.9,276.3 L1283.6,275.4 L1283.2,274.4 L1282.9,273.5 L1282.5,272.5 L1282.2,271.6 L1281.8,270.7 L1281.5,269.7 L1281.1,268.8 L1280.8,267.9 L1280.4,266.9 L1280.1,266.0 L1279.7,265.0 L1279.4,264.1 L1279.0,263.2 L1278.6,262.2 L1278.3,261.3 L1277.9,260.4 L1277.5,259.4 L1277.2,258.5 L1276.8,257.6 L1276.4,256.6 L1276.1,255.7 L1275.7,254.8 L1275.3,253.9 L1275.0,252.9 L1274.6,252.0 L1274.2,251.1 L1273.8,250.1 L1273.5,249.2 L1273.1,248.3 L1272.7,247.4 L1272.3,246.5 L1271.9,245.6 L1271.5,244.6 L1271.0,243.7 L1270.6,242.8 L1270.2,241.9 L1269.8,241.0 L1269.3,240.1 L1268.9,239.2 L1268.4,238.3 L1268.0,237.4 L1267.5,236.5 L1267.0,235.6 L1266.6,234.8 L1266.1,233.9 L1265.6,233.0 L1265.1,232.2 L1264.6,231.3 L1264.1,230.4 L1263.6,229.5 L1263.1,228.6 L1262.5,227.7 L1262.0,226.8 L1261.4,226.0 L1260.9,225.2 L1260.2,224.4 L1259.6,223.7 L1258.9,223.0 L1258.2,222.4 L1257.4,221.7 L1256.6,221.0 L1255.7,220.3 L1254.8,219.8 L1253.9,219.4 L1253.0,219.2 L1252.1,219.2 L1251.1,219.3 L1250.1,219.5 L1249.1,219.8 L1248.1,220.1 L1247.1,220.4 L1246.2,220.7 L1245.3,221.1 L1244.5,221.6 L1243.7,222.2 L1242.9,222.9 L1242.1,223.6 L1241.3,224.3 L1240.6,225.0 L1239.9,225.6 L1239.1,226.3 L1238.5,227.1 L1237.8,227.8 L1237.1,228.6 L1236.5,229.3 L1235.9,230.1 L1235.2,230.9 L1234.6,231.6 L1233.9,232.4 L1233.2,233.1 L1232.5,233.9 L1231.9,234.7 L1231.2,235.5 L1230.5,236.3 L1229.8,237.1 L1229.1,237.8 L1228.3,238.4 L1227.5,238.8 L1226.7,239.2 L1225.8,239.6 L1224.8,239.9 L1223.7,240.2 L1222.7,240.4 L1221.7,240.6 L1220.8,240.6 L1219.9,240.5 L1218.9,240.1 L1218.0,239.6 L1217.1,239.0 L1216.3,238.3 L1215.5,237.6 L1214.8,236.9 L1214.2,236.2 L1213.6,235.5 L1213.0,234.7 L1212.5,233.9 L1212.0,233.1 L1211.5,232.2 L1211.0,231.3 L1210.6,230.3 L1210.1,229.4 L1209.7,228.4 L1209.3,227.4 L1208.9,226.5 L1208.5,225.5 L1208.2,224.6 L1207.8,223.7 L1207.4,222.8 L1207.1,221.8 L1206.8,220.9 L1206.4,219.9 L1206.1,219.0 L1205.8,218.0 L1205.5,217.1 L1205.2,216.1 L1204.9,215.2 L1204.6,214.2 L1204.3,213.2 L1204.1,212.3 L1203.8,211.3 L1203.5,210.3 L1203.3,209.4 L1203.0,208.4 L1202.7,207.4 L1202.5,206.5 L1202.2,205.5 L1201.9,204.5 L1201.7,203.6 L1201.4,202.6 L1201.1,201.6 L1200.9,200.7 L1200.6,199.7 L1200.3,198.7 L1200.1,197.8 L1199.8,196.8 L1199.6,195.8 L1199.3,194.9 L1199.1,193.9 L1198.9,192.9 L1198.6,192.0 L1198.4,191.0 L1198.1,190.0 L1197.9,189.0 L1197.7,188.1 L1197.4,187.1 L1197.2,186.1 L1196.9,185.1 L1196.7,184.2 L1196.5,183.2 L1196.3,182.2 L1196.0,181.2 L1195.8,180.3 L1195.6,179.3 L1195.3,178.3 L1195.1,177.4 L1194.9,176.4 L1194.7,175.4 L1194.4,174.4 L1194.2,173.5 L1194.0,172.5 L1193.8,171.5 L1193.5,170.5 L1193.3,169.5 L1193.1,168.6 L1192.9,167.6 L1192.7,166.6 L1192.5,165.6 L1192.2,164.7 L1192.0,163.7 L1191.8,162.7 L1191.6,161.7 L1191.4,160.8 L1191.2,159.8 L1191.0,158.8 L1190.8,157.8 L1190.5,156.8 L1190.3,155.9 L1190.1,154.9 L1189.9,153.9 L1189.7,152.9 L1189.5,151.9 L1189.3,151.0 L1189.1,150.0 L1188.9,149.0 L1188.7,148.0 L1188.5,147.0 L1188.3,146.1 L1188.1,145.1 L1187.9,144.1 L1187.7,143.1 L1187.5,142.1 L1187.4,141.1 L1187.2,140.2 L1187.0,139.2 L1186.8,138.2 L1186.6,137.2 L1186.4,136.2 L1186.2,135.3 L1186.0,134.3 L1185.8,133.3 L1185.6,132.3 L1185.4,131.3 L1185.2,130.4 L1184.9,129.4 L1184.7,128.4 L1184.5,127.4 L1184.3,126.5 L1184.0,125.5 L1183.8,124.5 L1183.5,123.5 L1183.3,122.6 L1183.0,121.6 L1182.8,120.6 L1182.6,119.7 L1182.3,118.7 L1182.1,117.7 L1181.8,116.8 L1181.6,115.8 L1181.3,114.8 L1181.1,113.8 L1180.8,112.9 L1180.6,111.9 L1180.4,110.9 L1180.1,110.0 L1179.9,109.0 L1179.6,108.0 L1179.4,107.1 L1179.1,106.1 L1178.9,105.1 L1178.6,104.1 L1178.4,103.2 L1178.2,102.2 L1177.9,101.2 L1177.7,100.3 L1177.4,99.3 L1177.2,98.3 L1176.9,97.3 L1176.7,96.4 L1176.5,95.4 L1176.2,94.4 L1176.0,93.5 L1175.7,92.5 L1175.5,91.5 L1175.2,90.5 L1175.0,89.6 L1174.8,88.6 L1174.5,87.6 L1174.3,86.7 L1174.1,85.7 L1173.8,84.7 L1173.6,83.7 L1173.3,82.8 L1173.1,81.8 L1172.9,80.8 L1172.6,79.9 L1172.4,78.9 L1172.2,77.9 L1171.9,76.9 L1171.7,76.0 L1171.5,75.0 L1171.2,74.0 L1171.0,73.0 L1170.8,72.0 L1170.6,71.1 L1170.4,70.1 L1170.2,69.1 L1169.9,68.1 L1169.7,67.2 L1169.5,66.2 L1169.2,65.2 L1169.0,64.3 L1168.7,63.3 L1168.5,62.3 L1168.2,61.4 L1167.9,60.4 L1167.6,59.5 L1167.3,58.5 L1166.9,57.6 L1166.6,56.6 L1166.3,55.7 L1165.9,54.7 L1165.5,53.8 L1165.2,52.9 L1164.8,51.9 L1164.4,51.0 L1164.0,50.1 L1163.6,49.2 L1163.1,48.3 L1162.7,47.3 L1162.2,46.4 L1161.7,45.4 L1161.2,44.5 L1160.7,43.7 L1160.0,43.0 L1159.4,42.4 L1158.6,41.9 L1157.6,41.3 L1156.7,40.9 L1155.7,40.8 L1154.7,41.0 L1153.8,41.3 L1152.8,41.8 L1152.0,42.3 L1151.2,42.9 L1150.4,43.5 L1149.7,44.2 L1149.0,45.0 L1148.3,45.8 L1147.8,46.6 L1147.3,47.4 L1146.8,48.2 L1146.4,49.1 L1146.0,50.0 L1145.6,51.0 L1145.2,51.9 L1144.9,52.9 L1144.5,53.8 L1144.2,54.8 L1143.9,55.8 L1143.6,56.8 L1143.3,57.7 L1143.0,58.7 L1142.7,59.6 L1142.4,60.6 L1142.1,61.5 L1141.8,62.5 L1141.6,63.5 L1141.3,64.4 L1141.1,65.4 L1140.8,66.4 L1140.6,67.3 L1140.3,68.3 L1140.1,69.3 L1139.8,70.3 L1139.6,71.3 L1139.4,72.2 L1139.2,73.2 L1139.0,74.2 L1138.7,75.2 L1138.5,76.1 L1138.3,77.1 L1138.1,78.1 L1137.9,79.1 L1137.7,80.1 L1137.5,81.0 L1137.3,82.0 L1137.1,83.0 L1136.9,84.0 L1136.8,85.0 L1136.6,86.0 L1136.4,86.9 L1136.2,87.9 L1136.0,88.9 L1135.9,89.9 L1135.7,90.9 L1135.5,91.9 L1135.4,92.9 L1135.2,93.8 L1135.0,94.8 L1134.9,95.8 L1134.7,96.8 L1134.5,97.8 L1134.4,98.8 L1134.2,99.8 L1134.1,100.8 L1133.9,101.7 L1133.8,102.7 L1133.6,103.7 L1133.5,104.7 L1133.3,105.7 L1133.2,106.7 L1133.1,107.7 L1132.9,108.7 L1132.8,109.7 L1132.7,110.7 L1132.5,111.7 L1132.4,112.6 L1132.3,113.6 L1132.1,114.6 L1132.0,115.6 L1131.9,116.6 L1131.7,117.6 L1131.6,118.6 L1131.5,119.6 L1131.3,120.6 L1131.2,121.6 L1131.1,122.6 L1131.0,123.6 L1130.8,124.6 L1130.7,125.5 L1130.6,126.5 L1130.5,127.5 L1130.3,128.5 L1130.2,129.5 L1130.1,130.5 L1130.0,131.5 L1129.9,132.5 L1129.7,133.5 L1129.6,134.5 L1129.5,135.5 L1129.3,136.5 L1129.2,137.5 L1129.1,138.5 L1129.0,139.5 L1128.8,140.4 L1128.7,141.4 L1128.6,142.4 L1128.4,143.4 L1128.3,144.4 L1128.2,145.4 L1128.1,146.4 L1127.9,147.4 L1127.8,148.4 L1127.7,149.4 L1127.5,150.4 L1127.4,151.4 L1127.3,152.4 L1127.1,153.3 L1127.0,154.3 L1126.9,155.3 L1126.8,156.3 L1126.6,157.3 L1126.5,158.3 L1126.4,159.3 L1126.2,160.3 L1126.1,161.3 L1126.0,162.3 L1125.8,163.3 L1125.7,164.3 L1125.6,165.2 L1125.5,166.2 L1125.3,167.2 L1125.2,168.2 L1125.1,169.2 L1124.9,170.2 L1124.8,171.2 L1124.7,172.2 L1124.6,173.2 L1124.4,174.2 L1124.3,175.2 L1124.2,176.2 L1124.0,177.2 L1123.9,178.2 L1123.8,179.1 L1123.7,180.1 L1123.5,181.1 L1123.4,182.1 L1123.3,183.1 L1123.2,184.1 L1123.0,185.1 L1122.9,186.1 L1122.8,187.1 L1122.7,188.1 L1122.5,189.1 L1122.4,190.1 L1122.3,191.1 L1122.1,192.0 L1122.0,193.0 L1121.9,194.0 L1121.8,195.0 L1121.6,196.0 L1121.5,197.0 L1121.4,198.0 L1121.2,199.0 L1121.1,200.0 L1121.0,201.0 L1120.8,202.0 L1120.7,203.0 L1120.6,204.0 L1120.5,205.0 L1120.3,205.9 L1120.2,206.9 L1120.1,207.9 L1119.9,208.9 L1119.8,209.9 L1119.7,210.9 L1119.6,211.9 L1119.4,212.9 L1119.3,213.9 L1119.2,214.9 L1119.1,215.9 L1118.9,216.9 L1118.8,217.9 L1118.7,218.9 L1118.6,219.8 L1118.4,220.8 L1118.3,221.8 L1118.2,222.8 L1118.1,223.8 L1118.0,224.8 L1117.8,225.8 L1117.7,226.8 L1117.6,227.8 L1117.5,228.8 L1117.4,229.8 L1117.3,230.8 L1117.2,231.8 L1117.0,232.8 L1116.9,233.8 L1116.8,234.8 L1116.7,235.7 L1116.6,236.7 L1116.5,237.7 L1116.4,238.7 L1116.3,239.7 L1116.2,240.7 L1116.1,241.7 L1116.0,242.7 L1115.9,243.7 L1115.8,244.7 L1115.7,245.7 L1115.6,246.7 L1115.5,247.7 L1115.4,248.7 L1115.3,249.7 L1115.2,250.7 L1115.1,251.7 L1115.0,252.7 L1115.0,253.7 L1114.9,254.7 L1114.8,255.7 L1114.7,256.7 L1114.6,257.7 L1114.5,258.6 L1114.4,259.6 L1114.3,260.6 L1114.3,261.6 L1114.2,262.6 L1114.1,263.6 L1114.0,264.6 L1113.9,265.6 L1113.8,266.6 L1113.8,267.6 L1113.7,268.6 L1113.6,269.6 L1113.5,270.6 L1113.4,271.6 L1113.4,272.6 L1113.3,273.6 L1113.2,274.6 L1113.1,275.6 L1113.0,276.6 L1113.0,277.6 L1112.9,278.6 L1112.8,279.6 L1112.7,280.6 L1112.7,281.6 L1112.6,282.6 L1112.5,283.6 L1112.4,284.6 L1112.3,285.6 L1112.3,286.6 L1112.2,287.6 L1112.1,288.6 L1112.0,289.6 L1112.0,290.6 L1111.9,291.6 L1111.8,292.6 L1111.7,293.6 L1111.7,294.6 L1111.6,295.6 L1111.5,296.6 L1111.5,297.6 L1111.4,298.6 L1111.3,299.6 L1111.2,300.6 L1111.2,301.5 L1111.1,302.5 L1111.0,303.5 L1110.9,304.5 L1110.8,305.5 L1110.8,306.5 L1110.7,307.5 L1110.6,308.5 L1110.5,309.5 L1110.5,310.5 L1110.4,311.5 L1110.3,312.5 L1110.2,313.5 L1110.2,314.5 L1110.1,315.5 L1110.0,316.5 L1109.9,317.5 L1109.8,318.5 L1109.8,319.5 L1109.7,320.5 L1109.6,321.5 L1109.5,322.5 L1109.4,323.5 L1109.4,324.5 L1109.3,325.5 L1109.2,326.5 L1109.1,327.5 L1109.0,328.5 L1108.9,329.5 L1108.9,330.5 L1108.8,331.5 L1108.7,332.5 L1108.6,333.5 L1108.5,334.5 L1108.4,335.5 L1108.3,336.5 L1108.3,337.5 L1108.2,338.5 L1108.1,339.5 L1108.0,340.5 L1107.9,341.4 L1107.8,342.4 L1107.7,343.4 L1107.6,344.4 L1107.5,345.4 L1107.4,346.4 L1107.4,347.4 L1107.3,348.4 L1107.2,349.4 L1107.1,350.4 L1107.0,351.4 L1106.9,352.4 L1106.8,353.4 L1106.7,354.4 L1106.6,355.4 L1106.5,356.4 L1106.4,357.4 L1106.4,358.4 L1106.3,359.4 L1106.2,360.4 L1106.1,361.4 L1106.0,362.4 L1105.9,363.4 L1105.8,364.4 L1105.7,365.4 L1105.6,366.4 L1105.5,367.4 L1105.4,368.4 L1105.3,369.3 L1105.2,370.3 L1105.1,371.3 L1105.0,372.3 L1105.0,373.3 L1104.9,374.3 L1104.8,375.3 L1104.7,376.3 L1104.6,377.3 L1104.5,378.3 L1104.4,379.3 L1104.3,380.3 L1104.2,381.3 L1104.1,382.3 L1104.0,383.3 L1103.9,384.3 L1103.8,385.3 L1103.7,386.3 L1103.6,387.3 L1103.6,388.3 L1103.5,389.3 L1103.4,390.3 L1103.3,391.3 L1103.2,392.3 L1103.1,393.3 L1103.0,394.3 L1102.9,395.3 L1102.8,396.3 L1102.7,397.2 L1102.6,398.2 L1102.6,399.2 L1102.5,400.2 L1102.4,401.2 L1102.3,402.2 L1102.2,403.2 L1102.1,404.2 L1102.0,405.2 L1101.9,406.2 L1101.8,407.2 L1101.8,408.2 L1101.7,409.2 L1101.6,410.2 L1101.5,411.2 L1101.4,412.2 L1101.3,413.2 L1101.2,414.2 L1101.1,415.2 L1101.1,416.2 L1101.0,417.2 L1100.9,418.2 L1100.8,419.2 L1100.7,420.2 L1100.6,421.2 L1100.6,422.2 L1100.5,423.2 L1100.4,424.2 L1100.3,425.2 L1100.2,426.2 L1100.2,427.2 L1100.1,428.2 L1100.0,429.2 L1099.9,430.2 L1099.8,431.1 L1099.8,432.1 L1099.7,433.1 L1099.6,434.1 L1099.5,435.1 L1099.4,436.1 L1099.4,437.1 L1099.3,438.1 L1099.2,439.1 L1099.1,440.1 L1099.1,441.1 L1099.0,442.1 L1098.9,443.1 L1098.8,444.1 L1098.7,445.1 L1098.7,446.1 L1098.6,447.1 L1098.5,448.1 L1098.4,449.1 L1098.4,450.1 L1098.3,451.1 L1098.2,452.1 L1098.1,453.1 L1098.0,454.1 L1098.0,455.1 L1097.9,456.1 L1097.8,457.1 L1097.7,458.1 L1097.7,459.1 L1097.6,460.1 L1097.5,461.1 L1097.4,462.1 L1097.4,463.1 L1097.3,464.1 L1097.2,465.1 L1097.1,466.1 L1097.1,467.1 L1097.0,468.1 L1096.9,469.1 L1096.9,470.1 L1096.8,471.1 L1096.7,472.1 L1096.6,473.1 L1096.6,474.1 L1096.5,475.1 L1096.4,476.0 L1096.3,477.0 L1096.3,478.0 L1096.2,479.0 L1096.1,480.0 L1096.1,481.0 L1096.0,482.0 L1095.9,483.0 L1095.8,484.0 L1095.8,485.0 L1095.7,486.0 L1095.6,487.0 L1095.6,488.0 L1095.5,489.0 L1095.4,490.0 L1095.4,491.0 L1095.3,492.0 L1095.2,493.0 L1095.1,494.0 L1095.1,495.0 L1095.0,496.0 L1094.9,497.0 L1094.9,498.0 L1094.8,499.0 L1094.7,500.0 L1094.7,501.0 L1094.6,502.0 L1094.5,503.0 L1094.5,504.0 L1094.4,505.0Z" fill="#808080" stroke="#808080" stroke-width="0.8" stroke-linejoin="round"/>
<path d="M1203.5,196.5 L1203.8,197.1 L1204.1,197.8 L1204.4,198.4 L1204.7,199.1 L1205.1,199.7 L1205.4,200.3 L1205.7,201.0 L1206.0,201.6 L1206.4,202.2 L1206.7,202.9 L1207.0,203.5 L1207.3,204.2 L1207.6,204.8 L1208.0,205.5 L1208.3,206.1 L1208.6,206.7 L1209.0,207.3 L1209.4,207.9 L1209.7,208.5 L1210.1,209.1 L1210.5,209.6 L1211.0,210.2 L1211.4,210.7 L1211.9,211.3 L1212.4,211.8 L1212.9,212.4 L1213.5,212.9 L1214.0,213.4 L1214.6,213.9 L1215.2,214.3 L1215.8,214.6 L1216.4,215.0 L1217.0,215.2 L1217.6,215.5 L1218.3,215.7 L1219.0,215.9 L1219.7,216.1 L1220.4,216.3 L1221.1,216.4 L1221.8,216.5 L1222.5,216.5 L1223.2,216.5 L1223.9,216.3 L1224.6,216.2 L1225.3,216.0 L1225.9,215.7 L1226.6,215.4 L1227.3,215.1 L1227.9,214.8 L1228.6,214.5 L1229.2,214.2 L1229.8,213.9 L1230.4,213.5 L1231.0,213.1 L1231.6,212.7 L1232.2,212.3 L1232.7,211.9 L1233.3,211.4 L1233.9,211.0 L1234.5,210.6 L1235.1,210.2 L1235.7,209.8 L1236.3,209.4 L1236.9,209.0 L1237.5,208.7 L1238.1,208.3 L1238.7,207.9 L1239.3,207.5 L1239.9,207.2 L1240.5,206.8 L1240.5,208.8 L1240.1,209.4 L1239.7,210.0 L1239.2,210.5 L1238.8,211.1 L1238.3,211.7 L1237.9,212.2 L1237.4,212.8 L1237.0,213.3 L1236.5,213.8 L1236.0,214.4 L1235.5,214.9 L1235.0,215.4 L1234.5,215.9 L1234.0,216.4 L1233.5,217.0 L1233.0,217.5 L1232.4,218.0 L1231.9,218.5 L1231.4,219.0 L1230.8,219.4 L1230.2,219.8 L1229.6,220.2 L1229.1,220.6 L1228.4,220.9 L1227.8,221.2 L1227.1,221.5 L1226.5,221.8 L1225.8,222.1 L1225.1,222.3 L1224.4,222.5 L1223.7,222.7 L1223.0,222.8 L1222.3,222.8 L1221.6,222.7 L1220.9,222.6 L1220.2,222.3 L1219.5,222.1 L1218.8,221.8 L1218.2,221.4 L1217.5,221.1 L1216.9,220.7 L1216.4,220.4 L1215.8,220.0 L1215.3,219.5 L1214.8,219.0 L1214.2,218.5 L1213.7,218.0 L1213.2,217.4 L1212.8,216.9 L1212.3,216.3 L1211.9,215.7 L1211.5,215.1 L1211.0,214.5 L1210.7,213.9 L1210.3,213.3 L1210.0,212.7 L1209.6,212.1 L1209.3,211.4 L1209.0,210.8 L1208.7,210.1 L1208.4,209.5 L1208.1,208.8 L1207.9,208.1 L1207.6,207.5 L1207.3,206.8 L1207.1,206.1 L1206.8,205.4 L1206.5,204.8 L1206.3,204.1 L1206.0,203.4 L1205.7,202.8 L1205.4,202.1 L1205.1,201.5 L1204.9,200.8 L1204.6,200.1 L1204.3,199.5 L1204.0,198.8 L1203.8,198.2 L1203.5,197.5Z" fill="#fff"/>
<path d="M1335.0,342.8 L1336.1,342.4 L1337.1,342.1 L1338.1,341.8 L1339.2,341.6 L1340.2,341.5 L1341.2,341.3 L1342.2,341.3 L1343.1,341.2 L1344.1,341.2 L1345.0,341.2 L1345.9,341.2 L1346.9,341.3 L1347.8,341.5 L1348.7,341.8 L1349.6,342.2 L1350.6,342.7 L1351.5,343.2 L1352.4,343.9 L1353.2,344.5 L1354.1,345.2 L1354.9,346.0 L1355.7,346.7 L1356.5,347.5 L1357.2,348.2 L1357.9,348.9 L1358.5,349.6 L1359.1,350.3 L1359.7,351.0 L1360.3,351.8 L1360.8,352.5 L1361.4,353.3 L1361.9,354.2 L1362.4,355.0 L1362.9,355.9 L1363.4,356.7 L1363.9,357.6 L1364.3,358.5 L1364.8,359.5 L1365.2,360.4 L1365.6,361.4 L1366.1,362.3 L1366.5,363.3 L1366.9,364.2 L1367.3,365.2 L1367.8,366.2 L1368.2,367.1 L1368.6,368.1 L1369.0,369.0 L1369.4,370.0 L1369.9,370.9 L1370.3,371.9 L1370.7,372.8 L1371.2,373.7 L1371.6,374.6 L1372.0,375.5 L1372.5,376.4 L1372.9,377.3 L1373.3,378.2 L1373.7,379.2 L1374.2,380.1 L1374.6,381.0 L1375.0,381.9 L1375.4,382.8 L1375.8,383.7 L1376.2,384.7 L1376.7,385.6 L1377.1,386.5 L1377.5,387.4 L1377.9,388.3 L1378.3,389.3 L1378.7,390.2 L1379.1,391.1 L1379.5,392.0 L1379.9,392.9 L1380.3,393.9 L1380.8,394.8 L1381.2,395.7 L1381.6,396.6 L1382.0,397.5 L1382.4,398.5 L1382.9,399.4 L1383.3,400.3 L1383.7,401.2 L1384.1,402.1 L1384.6,403.0 L1385.0,403.9 L1385.4,404.8 L1385.9,405.7 L1386.3,406.7 L1386.7,407.6 L1387.1,408.5 L1387.6,409.4 L1388.0,410.3 L1388.4,411.2 L1388.9,412.2 L1389.3,413.1 L1389.7,414.0 L1390.2,414.9 L1390.6,415.8 L1391.0,416.7 L1391.5,417.6 L1391.9,418.5 L1392.4,419.4 L1392.9,420.3 L1393.3,421.2 L1393.8,422.1 L1394.3,423.0 L1394.8,423.9 L1395.2,424.7 L1395.7,425.6 L1396.3,426.5 L1396.8,427.3 L1397.3,428.2 L1397.8,429.1 L1398.3,430.0 L1398.9,430.9 L1399.4,431.8 L1399.9,432.7 L1400.5,433.6 L1401.1,434.6 L1401.6,435.4 L1402.2,436.3 L1402.8,437.1 L1403.5,437.9 L1404.1,438.7 L1404.8,439.4 L1405.4,440.0 L1406.1,440.6 L1406.8,441.2 L1407.6,441.7 L1408.4,442.1 L1409.2,442.6 L1410.0,443.0 L1410.9,443.5 L1411.8,443.9 L1412.8,444.3 L1413.7,444.6 L1414.7,445.0 L1415.8,445.3 L1416.8,445.6 L1417.8,445.8 L1418.9,446.0 L1420.0,446.2" fill="none" stroke="#808080" stroke-width="0.9"/>
<path d="M1500.9,444.8 L1501.9,445.3 L1502.9,445.8 L1503.9,446.2 L1504.8,446.6 L1505.8,446.9 L1506.8,447.2 L1507.8,447.4 L1508.8,447.6 L1509.8,447.7 L1510.8,447.8 L1511.8,447.8 L1512.8,447.7 L1513.7,447.6 L1514.7,447.4 L1515.7,447.1 L1516.7,446.9 L1517.7,446.6 L1518.7,446.3 L1519.7,445.9 L1520.7,445.6 L1521.7,445.3 L1522.7,445.0 L1523.7,444.7 L1524.7,444.4 L1525.8,444.1 L1526.8,443.9 L1527.8,443.7 L1528.8,443.5 L1529.8,443.3 L1530.8,443.1 L1531.8,442.8 L1532.8,442.5 L1533.8,442.2 L1534.8,441.9 L1535.8,441.6 L1536.8,441.3 L1537.8,441.0 L1538.8,440.8 L1539.8,440.7 L1540.8,440.6 L1541.8,440.6 L1542.8,440.6 L1543.8,440.7 L1544.8,440.8 L1545.8,440.9 L1546.8,441.1 L1547.8,441.3 L1548.7,441.5 L1549.7,441.7 L1550.7,442.0 L1551.7,442.4 L1552.7,442.7 L1553.7,443.1 L1554.7,443.6 L1555.7,444.0 L1556.6,444.6 L1557.6,445.1 L1558.6,445.7" fill="none" stroke="#808080" stroke-width="0.9"/>
<path d="M1609.5,461.6 L1610.4,461.1 L1611.3,460.6 L1612.2,460.1 L1613.1,459.6 L1614.1,459.2 L1615.0,458.7 L1615.9,458.3 L1616.9,457.9 L1617.8,457.5 L1618.7,457.1 L1619.7,456.8 L1620.6,456.5 L1621.6,456.2 L1622.6,455.9 L1623.5,455.6 L1624.5,455.3 L1625.5,455.1 L1626.5,454.8 L1627.5,454.5 L1628.5,454.2 L1629.5,454.0 L1630.5,453.8 L1631.5,453.5 L1632.5,453.3 L1633.5,453.2 L1634.5,453.0 L1635.5,452.9 L1636.6,452.8 L1637.6,452.8 L1638.6,452.8 L1639.6,452.8 L1640.6,452.9 L1641.6,452.9 L1642.7,453.0 L1643.7,453.0 L1644.7,453.1 L1645.7,453.2 L1646.8,453.4 L1647.8,453.5 L1648.8,453.6 L1649.8,453.7 L1650.8,453.9 L1651.8,454.0 L1652.8,454.2 L1653.8,454.4 L1654.8,454.5 L1655.7,454.8 L1656.7,455.1 L1657.6,455.4 L1658.6,455.8 L1659.5,456.2 L1660.4,456.7 L1661.3,457.1 L1662.3,457.6 L1663.2,458.1 L1664.1,458.6 L1665.0,459.1 L1665.9,459.6 L1666.9,460.1 L1667.8,460.5 L1668.7,461.0 L1669.6,461.4 L1670.5,461.9 L1671.4,462.3 L1672.4,462.8 L1673.3,463.2 L1674.2,463.7 L1675.1,464.1 L1676.0,464.6 L1676.9,465.1 L1677.8,465.5 L1678.7,466.0 L1679.6,466.5 L1680.5,467.0 L1681.4,467.4 L1682.3,467.9 L1683.2,468.4 L1684.1,468.9 L1685.0,469.3 L1685.9,469.8 L1686.8,470.3 L1687.7,470.8 L1688.6,471.3" fill="none" stroke="#808080" stroke-width="0.9"/>
<path d="M1094.3,487.0 L1094.4,486.2 L1094.4,485.4 L1094.5,484.6 L1094.6,483.8 L1094.7,483.0 L1094.7,482.2 L1094.8,481.4 L1094.9,480.6 L1094.9,479.8 L1095.0,479.0 L1095.1,478.2 L1095.1,477.4 L1095.2,476.6 L1095.3,475.8 L1095.4,475.0 L1095.4,474.2 L1095.5,473.4 L1095.6,472.6 L1095.6,471.9 L1095.7,471.1 L1095.8,470.3 L1095.9,469.5 L1095.9,468.7 L1096.0,467.9 L1096.1,467.1 L1096.1,466.3 L1096.2,465.5 L1096.3,464.7 L1096.4,463.9 L1096.4,463.1 L1096.5,462.3 L1096.6,461.5 L1096.6,460.7 L1096.7,459.9 L1096.8,459.1 L1096.8,458.3 L1096.9,457.5 L1097.0,456.7 L1097.1,455.9 L1097.1,455.1 L1097.2,454.3 L1097.3,453.5 L1097.3,452.7 L1097.4,451.9 L1097.5,451.1 L1097.6,450.3 L1097.6,449.5 L1097.7,448.7 L1097.8,447.9 L1097.8,447.1 L1097.9,446.3 L1098.0,445.5 L1098.1,444.7 L1098.1,443.9 L1098.2,443.1 L1098.3,442.4 L1098.3,441.6 L1098.4,440.8 L1098.5,440.0 L1098.6,439.2 L1098.6,438.4 L1098.7,437.6 L1098.8,436.8 L1098.8,436.0 L1098.9,435.2 L1099.0,434.4 L1099.1,433.6 L1099.1,432.8 L1099.2,432.0 L1099.3,431.2 L1099.3,430.4 L1099.4,429.6 L1099.5,428.8 L1099.6,428.0 L1099.6,427.2 L1099.7,426.4 L1099.8,425.6 L1099.8,424.8 L1099.9,424.0 L1100.0,423.2 L1100.1,422.4 L1100.1,421.6 L1100.2,420.8 L1100.3,420.0 L1100.3,419.2 L1100.4,418.4 L1100.5,417.6 L1100.6,416.8 L1100.6,416.0 L1100.7,415.2 L1100.8,414.4 L1100.8,413.7 L1100.9,412.9 L1101.0,412.1 L1101.1,411.3 L1101.1,410.5 L1101.2,409.7 L1101.3,408.9 L1101.4,408.1 L1101.4,407.3 L1101.5,406.5 L1101.6,405.7 L1101.6,404.9 L1101.7,404.1 L1101.8,403.3 L1101.9,402.5 L1101.9,401.7 L1102.0,400.9 L1102.1,400.1 L1102.2,399.3 L1102.2,398.5 L1102.3,397.7 L1102.4,396.9 L1102.4,396.1 L1102.5,395.3 L1102.6,394.5 L1102.7,393.7 L1102.7,392.9 L1102.8,392.1 L1102.9,391.3 L1103.0,390.5 L1103.0,389.7 L1103.1,388.9 L1103.2,388.1 L1103.3,387.3 L1103.3,386.6 L1103.4,385.8 L1103.5,385.0 L1103.5,384.2 L1103.6,383.4 L1103.7,382.6 L1103.8,381.8 L1103.8,381.0 L1103.9,380.2 L1104.0,379.4 L1104.1,378.6 L1104.1,377.8 L1104.2,377.0 L1104.3,376.2 L1104.4,375.4 L1104.4,374.6 L1104.5,373.8 L1104.6,373.0 L1104.6,372.2 L1104.7,371.4 L1104.8,370.6 L1104.9,369.8 L1104.9,369.0 L1105.0,368.2 L1105.1,367.4 L1105.2,366.6 L1105.2,365.8 L1105.3,365.0 L1105.4,364.2 L1105.4,363.4 L1105.5,362.6 L1105.6,361.8 L1105.7,361.0 L1105.7,360.2 L1105.8,359.4 L1105.9,358.7 L1105.9,357.9 L1106.0,357.1 L1106.1,356.3 L1106.2,355.5 L1106.2,354.7 L1106.3,353.9 L1106.4,353.1 L1106.4,352.3 L1106.5,351.5 L1106.6,350.7 L1106.7,349.9 L1106.7,349.1 L1106.8,348.3 L1106.9,347.5 L1106.9,346.7 L1107.0,345.9 L1107.1,345.1 L1107.2,344.3 L1107.2,343.5 L1107.3,342.7 L1107.4,341.9 L1107.4,341.1 L1107.5,340.3 L1107.6,339.5 L1107.6,338.7 L1107.7,337.9 L1107.8,337.1 L1107.9,336.3 L1107.9,335.5 L1108.0,334.7 L1108.1,333.9 L1108.1,333.1 L1108.2,332.3 L1108.3,331.5 L1108.3,330.7 L1108.4,329.9 L1108.5,329.1 L1108.5,328.4 L1108.6,327.6 L1108.7,326.8 L1108.7,326.0 L1108.8,325.2 L1108.9,324.4 L1108.9,323.6 L1109.0,322.8 L1109.1,322.0 L1109.1,321.2 L1109.2,320.4 L1109.3,319.6 L1109.3,318.8 L1109.4,318.0 L1109.5,317.2 L1109.5,316.4 L1109.6,315.6 L1109.6,314.8 L1109.7,314.0 L1109.8,313.2 L1109.8,312.4 L1109.9,311.6 L1109.9,310.8 L1110.0,310.0 L1110.1,309.2 L1110.1,308.4 L1110.2,307.6 L1110.3,306.8 L1110.3,306.0 L1110.4,305.2 L1110.4,304.4 L1110.5,303.6 L1110.6,302.8 L1110.6,302.0 L1110.7,301.2 L1110.7,300.4 L1110.8,299.6 L1110.9,298.8 L1110.9,298.0 L1111.0,297.2 L1111.0,296.4 L1111.1,295.6 L1111.2,294.8 L1111.2,294.0 L1111.3,293.2 L1111.3,292.4 L1111.4,291.6 L1111.5,290.8 L1111.5,290.0 L1111.6,289.2 L1111.6,288.4 L1111.7,287.6 L1111.8,286.8 L1111.8,286.0 L1111.9,285.2 L1111.9,284.5 L1112.0,283.7 L1112.1,282.9 L1112.1,282.1 L1112.2,281.3 L1112.2,280.5 L1112.3,279.7 L1112.4,278.9 L1112.4,278.1 L1112.5,277.3 L1112.5,276.5 L1112.6,275.7 L1112.7,274.9 L1112.7,274.1 L1112.8,273.3 L1112.9,272.5 L1112.9,271.7 L1113.0,270.9 L1113.1,270.1 L1113.1,269.3 L1113.2,268.5 L1113.2,267.7 L1113.3,266.9 L1113.4,266.1 L1113.4,265.3 L1113.5,264.5 L1113.6,263.7 L1113.6,262.9 L1113.7,262.1 L1113.8,261.3 L1113.8,260.5 L1113.9,259.7 L1114.0,258.9 L1114.1,258.1 L1114.1,257.3 L1114.2,256.5 L1114.3,255.7 L1114.3,254.9 L1114.4,254.1 L1114.5,253.3 L1114.6,252.5 L1114.6,251.7 L1114.7,251.0 L1114.8,250.2 L1114.8,249.4 L1114.9,248.6 L1115.0,247.8 L1115.1,247.0 L1115.1,246.2 L1115.2,245.4 L1115.3,244.6 L1115.4,243.8 L1115.5,243.0 L1115.5,242.2 L1115.6,241.4 L1115.7,240.6 L1115.8,239.8 L1115.9,239.0 L1116.0,238.2 L1116.0,237.4 L1116.1,236.6 L1116.2,235.8 L1116.3,235.0 L1116.4,234.2 L1116.5,233.4 L1116.6,232.6 L1116.6,231.8 L1116.7,231.1 L1116.8,230.3 L1116.9,229.5 L1117.0,228.7 L1117.1,227.9 L1117.2,227.1 L1117.3,226.3 L1117.4,225.5 L1117.5,224.7 L1117.6,223.9 L1117.7,223.1 L1117.8,222.3 L1117.9,221.5 L1118.0,220.7 L1118.1,219.9 L1118.2,219.1 L1118.3,218.3 L1118.4,217.5 L1118.5,216.7 L1118.6,216.0 L1118.7,215.2 L1118.8,214.4 L1118.9,213.6 L1119.0,212.8 L1119.1,212.0 L1119.2,211.2 L1119.3,210.4 L1119.4,209.6 L1119.5,208.8 L1119.6,208.0 L1119.7,207.2 L1119.8,206.4 L1119.9,205.6 L1120.0,204.8 L1120.1,204.0 L1120.2,203.2 L1120.3,202.5 L1120.4,201.7 L1120.5,200.9 L1120.6,200.1 L1120.7,199.3 L1120.8,198.5 L1120.9,197.7 L1121.0,196.9 L1121.1,196.1 L1121.2,195.3 L1121.3,194.5 L1121.4,193.7 L1121.5,192.9 L1121.6,192.1 L1121.7,191.3 L1121.8,190.5 L1121.9,189.8 L1122.0,189.0 L1122.1,188.2 L1122.2,187.4 L1122.3,186.6 L1122.4,185.8 L1122.5,185.0 L1122.6,184.2 L1122.7,183.4 L1122.9,182.6 L1123.0,181.8 L1123.1,181.0 L1123.2,180.2 L1123.3,179.4 L1123.4,178.6 L1123.5,177.8 L1123.6,177.0 L1123.7,176.3 L1123.8,175.5 L1123.9,174.7 L1124.0,173.9 L1124.1,173.1 L1124.2,172.3 L1124.3,171.5 L1124.4,170.7 L1124.5,169.9 L1124.6,169.1 L1124.7,168.3 L1124.8,167.5 L1124.9,166.7 L1125.0,165.9 L1125.1,165.1 L1125.2,164.3 L1125.3,163.6 L1125.4,162.8 L1125.5,162.0 L1125.6,161.2 L1125.7,160.4 L1125.8,159.6 L1125.9,158.8 L1126.0,158.0 L1126.1,157.2 L1126.2,156.4 L1126.3,155.6 L1126.4,154.8 L1126.6,154.0 L1126.7,153.2 L1126.8,152.4 L1126.9,151.6 L1127.0,150.9 L1127.1,150.1 L1127.2,149.3 L1127.3,148.5 L1127.4,147.7 L1127.5,146.9 L1127.6,146.1 L1127.7,145.3 L1127.8,144.5 L1127.9,143.7 L1128.0,142.9 L1128.1,142.1 L1128.2,141.3 L1128.3,140.5 L1128.4,139.7 L1128.5,138.9 L1128.6,138.2 L1128.7,137.4 L1128.8,136.6 L1128.9,135.8 L1129.0,135.0 L1129.1,134.2 L1129.2,133.4 L1129.3,132.6 L1129.4,131.8 L1129.5,131.0 L1129.6,130.2 L1129.7,129.4 L1129.8,128.6 L1129.9,127.8 L1130.0,127.0 L1130.1,126.2 L1130.2,125.4 L1130.3,124.6 L1130.4,123.9 L1130.5,123.1 L1130.6,122.3 L1130.7,121.5 L1130.8,120.7 L1130.9,119.9 L1131.0,119.1 L1131.1,118.3 L1131.2,117.5 L1131.3,116.7 L1131.5,115.9 L1131.6,115.1 L1131.7,114.3 L1131.8,113.5 L1131.9,112.7 L1132.0,111.9 L1132.1,111.2 L1132.2,110.4 L1132.3,109.6 L1132.4,108.8 L1132.5,108.0 L1132.6,107.2 L1132.7,106.4 L1132.9,105.6 L1133.0,104.8 L1133.1,104.0 L1133.2,103.2 L1133.3,102.4 L1133.4,101.6 L1133.6,100.9 L1133.7,100.1 L1133.8,99.3 L1133.9,98.5 L1134.1,97.7 L1134.2,96.9 L1134.3,96.1 L1134.4,95.3 L1134.6,94.5 L1134.7,93.7 L1134.8,93.0 L1135.0,92.2 L1135.1,91.4 L1135.2,90.6 L1135.4,89.8 L1135.5,89.0 L1135.7,88.2 L1135.8,87.4 L1135.9,86.6 L1136.1,85.9 L1136.2,85.1 L1136.4,84.3 L1136.5,83.5 L1136.7,82.7 L1136.8,81.9 L1137.0,81.1 L1137.2,80.4 L1137.3,79.6 L1137.5,78.8 L1137.6,78.0 L1137.8,77.2 L1138.0,76.4 L1138.1,75.7 L1138.3,74.9 L1138.5,74.1 L1138.6,73.3 L1138.8,72.5 L1139.0,71.7 L1139.2,71.0 L1139.4,70.2 L1139.6,69.4 L1139.7,68.6 L1139.9,67.8 L1140.1,67.1 L1140.3,66.3 L1140.5,65.5 L1140.7,64.7 L1140.9,64.0 L1141.1,63.2 L1141.4,62.4 L1141.6,61.6 L1141.8,60.9 L1142.0,60.1 L1142.3,59.4 L1142.5,58.6 L1142.7,57.8 L1143.0,57.1 L1143.2,56.3 L1143.5,55.5 L1143.7,54.8 L1144.0,54.0 L1144.3,53.2 L1144.6,52.5 L1144.9,51.7 L1145.2,51.0 L1145.5,50.2 L1145.8,49.5 L1146.1,48.8 L1146.5,48.1 L1146.8,47.4 L1147.2,46.7 L1147.6,46.0 L1148.0,45.3 L1148.5,44.6 L1149.0,43.9 L1149.5,43.2 L1150.0,42.6 L1150.5,42.0 L1151.1,41.4 L1151.7,41.0 L1152.3,40.6 L1153.0,40.2 L1153.8,39.9 L1154.6,39.6 L1155.4,39.4 L1156.1,39.4 L1156.9,39.6 L1157.7,39.9 L1158.5,40.3 L1159.2,40.8 L1159.8,41.2 L1160.3,41.7 L1160.9,42.2 L1161.3,42.8 L1161.8,43.5 L1162.2,44.1 L1162.6,44.9 L1163.0,45.6 L1163.4,46.4 L1163.8,47.2 L1164.1,47.9 L1164.5,48.7 L1164.8,49.4 L1165.2,50.1 L1165.5,50.8 L1165.8,51.5 L1166.1,52.3 L1166.4,53.0 L1166.7,53.8 L1167.0,54.5 L1167.3,55.3 L1167.5,56.0 L1167.8,56.8 L1168.1,57.6 L1168.3,58.3 L1168.6,59.1 L1168.8,59.8 L1169.1,60.6 L1169.4,61.4 L1169.6,62.1 L1169.9,62.9 L1170.1,63.6 L1170.4,64.4 L1170.6,65.2 L1170.8,65.9 L1171.1,66.7 L1171.3,67.4 L1171.6,68.2 L1171.8,69.0 L1172.0,69.7 L1172.3,70.5 L1172.5,71.3 L1172.7,72.1 L1172.9,72.8 L1173.2,73.6 L1173.4,74.4 L1173.6,75.1 L1173.8,75.9 L1174.0,76.7 L1174.2,77.4 L1174.4,78.2 L1174.6,79.0 L1174.8,79.8 L1175.1,80.5 L1175.2,81.3 L1175.4,82.1 L1175.6,82.9 L1175.8,83.6 L1176.0,84.4 L1176.2,85.2 L1176.4,86.0 L1176.6,86.8 L1176.8,87.5 L1177.0,88.3 L1177.1,89.1 L1177.3,89.9 L1177.5,90.6 L1177.7,91.4 L1177.9,92.2 L1178.1,93.0 L1178.3,93.8 L1178.4,94.5 L1178.6,95.3 L1178.8,96.1 L1179.0,96.9 L1179.2,97.7 L1179.4,98.4 L1179.6,99.2 L1179.8,100.0 L1180.0,100.8 L1180.2,101.5 L1180.4,102.3 L1180.6,103.1 L1180.8,103.9 L1181.0,104.6 L1181.2,105.4 L1181.4,106.2 L1181.6,107.0 L1181.8,107.7 L1181.9,108.5 L1182.1,109.3 L1182.3,110.1 L1182.5,110.8 L1182.7,111.6 L1182.9,112.4 L1183.1,113.2 L1183.3,114.0 L1183.5,114.7 L1183.7,115.5 L1183.9,116.3 L1184.1,117.1 L1184.3,117.8 L1184.5,118.6 L1184.7,119.4 L1184.9,120.2 L1185.0,120.9 L1185.2,121.7 L1185.4,122.5 L1185.6,123.3 L1185.8,124.1 L1186.0,124.8 L1186.2,125.6 L1186.4,126.4 L1186.6,127.2 L1186.8,127.9 L1187.0,128.7 L1187.2,129.5 L1187.3,130.3 L1187.5,131.0 L1187.7,131.8 L1187.9,132.6 L1188.1,133.4 L1188.3,134.2 L1188.5,134.9 L1188.7,135.7 L1188.9,136.5 L1189.1,137.3 L1189.3,138.0 L1189.5,138.8 L1189.7,139.6 L1189.9,140.4 L1190.1,141.1 L1190.3,141.9 L1190.5,142.7 L1190.7,143.5 L1190.9,144.2 L1191.1,145.0 L1191.3,145.8 L1191.5,146.6 L1191.7,147.3 L1191.9,148.1 L1192.0,148.9 L1192.2,149.7 L1192.4,150.5 L1192.6,151.2 L1192.7,152.0 L1192.9,152.8 L1193.1,153.6 L1193.2,154.4 L1193.4,155.2 L1193.6,155.9 L1193.7,156.7 L1193.9,157.5 L1194.0,158.3 L1194.2,159.1 L1194.3,159.9 L1194.5,160.7 L1194.6,161.4 L1194.8,162.2 L1194.9,163.0 L1195.1,163.8 L1195.2,164.6 L1195.4,165.4 L1195.5,166.2 L1195.7,166.9 L1195.8,167.7 L1196.0,168.5 L1196.2,169.3 L1196.3,170.1 L1196.5,170.9 L1196.6,171.7 L1196.8,172.4 L1197.0,173.2 L1197.1,174.0 L1197.3,174.8 L1197.5,175.6 L1197.6,176.3 L1197.8,177.1 L1198.0,177.9 L1198.2,178.7 L1198.4,179.5 L1198.6,180.2 L1198.7,181.0 L1198.9,181.8 L1199.1,182.6 L1199.3,183.4 L1199.5,184.2 L1199.7,184.9 L1199.9,185.7 L1200.1,186.5 L1200.3,187.3 L1200.4,188.1 L1200.6,188.8 L1200.9,189.6 L1201.1,190.4 L1201.3,191.2 L1201.5,191.9 L1201.7,192.7 L1201.9,193.5 L1202.1,194.2 L1202.3,195.0 L1202.6,195.8 L1202.8,196.5 L1203.0,197.3 L1203.3,198.1 L1203.5,198.8 L1203.8,199.6 L1204.0,200.3 L1204.3,201.1 L1204.5,201.8 L1204.8,202.6 L1205.1,203.4 L1205.3,204.1 L1205.6,204.9 L1205.9,205.6 L1206.2,206.4 L1206.5,207.2 L1206.8,207.9 L1207.1,208.7 L1207.5,209.4 L1207.8,210.1 L1208.1,210.9 L1208.5,211.6 L1208.8,212.3 L1209.2,213.0 L1209.6,213.7 L1210.0,214.4 L1210.4,215.0 L1210.8,215.7 L1211.2,216.3 L1211.7,217.0 L1212.2,217.7 L1212.7,218.4 L1213.2,219.0 L1213.8,219.6 L1214.4,220.2 L1214.9,220.8 L1215.5,221.3 L1216.1,221.8 L1216.8,222.2 L1217.4,222.6 L1218.1,223.0 L1218.9,223.4 L1219.6,223.7 L1220.4,224.0 L1221.2,224.2 L1222.0,224.4 L1222.7,224.4 L1223.5,224.3 L1224.3,224.2 L1225.1,223.9 L1225.9,223.6 L1226.6,223.3 L1227.4,223.0 L1228.1,222.6 L1228.8,222.3 L1229.5,221.9 L1230.1,221.5 L1230.7,221.0 L1231.4,220.5 L1231.9,219.9 L1232.5,219.4 L1233.1,218.8 L1233.7,218.2 L1234.3,217.6 L1234.9,217.1 L1235.5,216.5 L1236.1,216.0 L1236.7,215.5 L1237.2,214.9 L1237.8,214.3 L1238.4,213.8 L1239.0,213.2 L1239.6,212.7 L1240.2,212.2 L1240.8,211.7 L1241.5,211.2 L1242.1,210.8 L1242.8,210.3 L1243.5,209.8 L1244.1,209.4 L1244.8,208.9 L1245.5,208.5 L1246.3,208.2 L1247.0,207.9 L1247.7,207.6 L1248.5,207.5 L1249.3,207.3 L1250.1,207.2 L1250.9,207.0 L1251.7,206.9 L1252.5,206.9 L1253.3,206.9 L1254.0,207.1 L1254.8,207.3 L1255.6,207.6 L1256.4,207.9 L1257.1,208.2 L1257.8,208.6 L1258.5,209.0 L1259.2,209.4 L1259.8,209.8 L1260.5,210.3 L1261.1,210.8 L1261.7,211.4 L1262.3,212.0 L1262.9,212.6 L1263.4,213.1 L1263.9,213.7 L1264.4,214.3 L1264.9,215.0 L1265.3,215.6 L1265.8,216.2 L1266.2,216.9 L1266.7,217.6 L1267.1,218.3 L1267.5,219.0 L1267.9,219.7 L1268.3,220.4 L1268.7,221.1 L1269.1,221.8 L1269.5,222.5 L1269.8,223.3 L1270.2,224.0 L1270.6,224.7 L1271.0,225.4 L1271.4,226.1 L1271.7,226.8 L1272.1,227.5 L1272.4,228.2 L1272.8,228.9 L1273.1,229.6 L1273.5,230.4 L1273.8,231.1 L1274.2,231.8 L1274.5,232.5 L1274.9,233.3 L1275.2,234.0 L1275.6,234.7 L1275.9,235.4 L1276.3,236.1 L1276.6,236.9 L1277.0,237.6 L1277.4,238.3 L1277.7,239.0 L1278.1,239.7 L1278.5,240.4 L1278.8,241.1 L1279.2,241.9 L1279.6,242.6 L1279.9,243.3 L1280.3,244.0 L1280.7,244.7 L1281.0,245.4 L1281.4,246.1 L1281.7,246.9 L1282.1,247.6 L1282.4,248.3 L1282.7,249.0 L1283.1,249.8 L1283.4,250.5 L1283.7,251.2 L1284.0,252.0 L1284.3,252.7 L1284.6,253.4 L1284.9,254.2 L1285.2,254.9 L1285.5,255.7 L1285.8,256.4 L1286.1,257.2 L1286.3,257.9 L1286.6,258.7 L1286.9,259.4 L1287.2,260.2 L1287.4,260.9 L1287.7,261.7 L1288.0,262.4 L1288.3,263.2 L1288.5,263.9 L1288.8,264.7 L1289.1,265.4 L1289.4,266.2 L1289.6,267.0 L1289.9,267.7 L1290.2,268.5 L1290.5,269.2 L1290.8,270.0 L1291.0,270.7 L1291.3,271.5 L1291.6,272.2 L1291.9,272.9 L1292.2,273.7 L1292.5,274.4 L1292.8,275.2 L1293.1,275.9 L1293.4,276.6 L1293.8,277.4 L1294.1,278.1 L1294.4,278.8 L1294.7,279.6 L1295.1,280.3 L1295.4,281.0 L1295.8,281.7 L1296.1,282.5 L1296.4,283.2 L1296.8,283.9 L1297.2,284.6 L1297.5,285.3 L1297.9,286.1 L1298.2,286.8 L1298.6,287.5 L1299.0,288.2 L1299.3,288.9 L1299.7,289.6 L1300.1,290.3 L1300.4,291.0 L1300.8,291.8 L1301.2,292.5 L1301.5,293.3 L1301.9,294.0 L1302.2,294.8 L1302.6,295.5 L1303.0,296.3 L1303.3,297.1 L1303.7,297.9 L1304.1,298.6 L1304.4,299.4 L1304.8,300.2 L1305.2,300.9 L1305.5,301.7 L1305.9,302.4 L1306.3,303.2 L1306.7,303.9 L1307.1,304.6 L1307.5,305.3 L1307.9,306.0 L1308.3,306.7 L1308.8,307.3 L1309.2,308.0 L1309.7,308.6 L1310.1,309.2 L1310.6,309.7 L1311.1,310.3 L1311.6,310.8 L1312.1,311.3 L1312.6,311.7 L1313.2,312.2 L1313.8,312.6 L1314.4,313.1 L1315.0,313.6 L1315.7,314.0 L1316.4,314.5 L1317.1,314.9 L1317.9,315.4 L1318.7,315.8 L1319.4,316.1 L1320.2,316.5 L1321.0,316.8 L1321.8,317.1 L1322.6,317.3 L1323.4,317.5 L1324.1,317.6 L1324.9,317.7 L1325.7,317.7 L1326.5,317.7 L1327.2,317.6 L1328.0,317.6 L1328.8,317.5 L1329.6,317.4 L1330.4,317.3 L1331.2,317.2 L1332.0,317.0 L1332.8,316.9 L1333.6,316.8 L1334.4,316.7 L1335.2,316.6 L1336.0,316.4 L1336.8,316.3 L1337.6,316.1 L1338.4,316.0 L1339.2,315.8 L1340.0,315.6 L1340.8,315.5 L1341.6,315.4 L1342.4,315.2 L1343.2,315.2 L1344.0,315.1 L1344.7,315.1 L1345.5,315.2 L1346.2,315.3 L1347.0,315.4 L1347.8,315.6 L1348.5,315.9 L1349.3,316.2 L1350.0,316.5 L1350.8,316.9 L1351.5,317.3 L1352.3,317.7 L1353.0,318.1 L1353.7,318.6 L1354.4,319.1 L1355.1,319.5 L1355.8,320.0 L1356.5,320.5 L1357.1,321.0 L1357.8,321.5 L1358.4,321.9 L1359.0,322.4 L1359.6,322.8 L1360.1,323.3 L1360.7,323.9 L1361.3,324.4 L1361.8,324.9 L1362.4,325.5 L1362.9,326.1 L1363.4,326.7 L1364.0,327.3 L1364.5,328.0 L1365.0,328.6 L1365.5,329.3 L1366.0,329.9 L1366.5,330.6 L1367.0,331.2 L1367.4,331.9 L1367.9,332.6 L1368.4,333.3 L1368.9,333.9 L1369.3,334.6 L1369.8,335.3 L1370.3,336.0 L1370.7,336.6 L1371.2,337.3 L1371.6,337.9 L1372.1,338.6 L1372.5,339.2 L1373.0,339.9 L1373.4,340.6 L1373.8,341.2 L1374.3,341.9 L1374.7,342.6 L1375.1,343.3 L1375.5,343.9 L1376.0,344.6 L1376.4,345.3 L1376.8,346.0 L1377.2,346.7 L1377.6,347.4 L1378.0,348.1 L1378.4,348.8 L1378.8,349.5 L1379.2,350.2 L1379.6,350.9 L1380.0,351.6 L1380.4,352.3 L1380.8,353.0 L1381.1,353.7 L1381.5,354.4 L1381.9,355.1 L1382.3,355.8 L1382.7,356.5 L1383.1,357.2 L1383.5,357.9 L1383.8,358.6 L1384.2,359.3 L1384.6,360.0 L1385.0,360.7 L1385.3,361.4 L1385.7,362.1 L1386.1,362.9 L1386.4,363.6 L1386.8,364.3 L1387.1,365.0 L1387.5,365.7 L1387.8,366.5 L1388.2,367.2 L1388.5,367.9 L1388.9,368.6 L1389.2,369.4 L1389.5,370.1 L1389.9,370.8 L1390.2,371.5 L1390.6,372.3 L1390.9,373.0 L1391.3,373.7 L1391.6,374.4 L1391.9,375.2 L1392.3,375.9 L1392.6,376.6 L1393.0,377.3 L1393.4,378.0 L1393.7,378.8 L1394.1,379.5 L1394.4,380.2 L1394.8,380.9 L1395.2,381.6 L1395.6,382.3 L1396.0,383.0 L1396.3,383.7 L1396.7,384.4 L1397.1,385.1 L1397.5,385.8 L1397.9,386.5 L1398.3,387.2 L1398.7,387.9 L1399.1,388.6 L1399.5,389.3 L1399.9,390.1 L1400.3,390.8 L1400.7,391.5 L1401.2,392.2 L1401.6,393.0 L1402.0,393.7 L1402.4,394.4 L1402.8,395.1 L1403.3,395.8 L1403.7,396.4 L1404.2,397.1 L1404.6,397.8 L1405.1,398.4 L1405.6,399.1 L1406.0,399.7 L1406.5,400.3 L1407.0,400.9 L1407.5,401.5 L1408.0,402.1 L1408.6,402.6 L1409.1,403.1 L1409.6,403.6 L1410.2,404.1 L1410.8,404.6 L1411.4,405.2 L1412.1,405.7 L1412.7,406.2 L1413.4,406.7 L1414.1,407.2 L1414.7,407.6 L1415.5,408.1 L1416.2,408.5 L1416.9,408.9 L1417.6,409.3 L1418.4,409.7 L1419.1,410.0 L1419.8,410.3 L1420.6,410.6 L1421.3,410.8 L1422.1,411.0 L1422.8,411.1 L1423.6,411.3 L1424.3,411.4 L1425.1,411.5 L1425.9,411.6 L1426.7,411.7 L1427.5,411.8 L1428.3,411.8 L1429.1,411.9 L1429.9,412.0 L1430.7,412.0 L1431.5,412.1 L1432.4,412.2 L1433.2,412.3 L1434.0,412.3 L1434.8,412.4 L1435.6,412.5 L1436.4,412.6 L1437.2,412.8 L1438.0,412.9 L1438.7,413.0 L1439.5,413.2 L1440.3,413.4 L1441.1,413.5 L1441.9,413.7 L1442.7,413.9 L1443.5,414.1 L1444.3,414.4 L1445.1,414.6 L1445.9,414.8 L1446.6,415.1 L1447.4,415.3 L1448.1,415.6 L1448.8,415.9 L1449.6,416.2 L1450.2,416.5 L1450.9,416.8 L1451.6,417.2 L1452.3,417.5 L1452.9,418.0 L1453.6,418.4 L1454.2,418.9 L1454.9,419.4 L1455.5,419.9 L1456.1,420.4 L1456.8,420.9 L1457.4,421.5 L1458.0,422.1 L1458.6,422.7 L1459.2,423.2 L1459.7,423.8 L1460.3,424.4 L1460.9,425.0 L1461.5,425.6 L1462.0,426.2 L1462.6,426.7 L1463.1,427.3 L1463.6,427.9 L1464.2,428.5 L1464.7,429.1 L1465.2,429.7 L1465.7,430.3 L1466.2,430.9 L1466.7,431.5 L1467.2,432.2 L1467.6,432.8 L1468.1,433.5 L1468.6,434.1 L1469.1,434.8 L1469.5,435.4 L1470.0,436.1 L1470.5,436.7 L1470.9,437.4 L1471.4,438.1 L1471.8,438.7 L1472.3,439.4 L1472.8,440.1 L1473.2,440.7 L1473.7,441.4 L1474.1,442.1 L1474.6,442.7 L1475.1,443.4 L1475.5,444.0 L1476.0,444.7 L1476.4,445.3 L1476.9,446.0 L1477.3,446.7 L1477.8,447.4 L1478.2,448.1 L1478.6,448.8 L1479.1,449.4 L1479.5,450.1 L1479.9,450.8 L1480.3,451.5 L1480.8,452.2 L1481.2,452.9 L1481.6,453.6 L1482.0,454.3 L1482.5,455.0 L1482.9,455.7 L1483.4,456.3 L1483.8,457.0 L1484.3,457.7 L1484.7,458.3 L1485.2,458.9 L1485.7,459.6 L1486.1,460.2 L1486.6,460.8 L1487.2,461.4 L1487.7,461.9 L1488.2,462.5 L1488.7,463.1 L1489.3,463.6 L1489.9,464.2 L1490.5,464.8 L1491.1,465.4 L1491.7,465.9 L1492.3,466.5 L1493.0,467.0 L1493.6,467.5 L1494.3,468.0 L1494.9,468.5 L1495.6,468.9 L1496.3,469.3 L1497.0,469.7 L1497.7,470.0 L1498.4,470.2 L1499.1,470.5 L1499.9,470.7 L1500.6,470.9 L1501.4,471.1 L1502.2,471.3 L1503.0,471.5 L1503.8,471.7 L1504.6,471.8 L1505.4,472.0 L1506.3,472.1 L1507.1,472.1 L1507.8,472.2 L1508.6,472.2 L1509.4,472.2 L1510.1,472.1 L1510.9,471.9 L1511.7,471.7 L1512.4,471.5 L1513.2,471.2 L1513.9,470.9 L1514.7,470.6 L1515.4,470.2 L1516.2,469.9 L1516.9,469.5 L1517.7,469.1 L1518.4,468.8 L1519.2,468.4 L1519.9,468.1 L1520.7,467.8 L1521.4,467.5 L1522.2,467.2 L1522.9,467.0 L1523.7,466.7 L1524.4,466.4 L1525.2,466.1 L1525.9,465.8 L1526.7,465.6 L1527.4,465.3 L1528.2,465.0 L1528.9,464.8 L1529.7,464.5 L1530.4,464.3 L1531.2,464.0 L1532.0,463.7 L1532.7,463.4 L1533.5,463.1 L1534.3,462.8 L1535.0,462.5 L1535.8,462.2 L1536.6,461.9 L1537.3,461.6 L1538.1,461.3 L1538.9,461.1 L1539.6,460.8 L1540.4,460.6 L1541.2,460.5 L1542.0,460.3 L1542.7,460.2 L1543.5,460.1 L1544.2,460.1 L1545.0,460.1 L1545.8,460.2 L1546.5,460.3 L1547.3,460.4 L1548.1,460.6 L1548.9,460.8 L1549.6,461.1 L1550.4,461.4 L1551.2,461.6 L1552.0,462.0 L1552.7,462.3 L1553.5,462.6 L1554.2,463.0 L1555.0,463.4 L1555.7,463.7 L1556.5,464.1 L1557.2,464.5 L1557.9,464.8 L1558.6,465.2 L1559.2,465.5 L1559.9,465.9 L1560.6,466.4 L1561.2,466.8 L1561.9,467.3 L1562.5,467.8 L1563.1,468.3 L1563.7,468.8 L1564.3,469.4 L1564.9,469.9 L1565.6,470.4 L1566.2,471.0 L1566.8,471.5 L1567.4,472.1 L1568.0,472.6 L1568.6,473.1 L1569.3,473.6 L1569.9,474.1 L1570.6,474.5 L1571.2,475.0 L1571.8,475.5 L1572.5,476.1 L1573.1,476.6 L1573.8,477.1 L1574.4,477.6 L1575.0,478.1 L1575.7,478.6 L1576.3,479.1 L1577.0,479.6 L1577.7,480.0 L1578.3,480.5 L1579.0,480.9 L1579.7,481.3 L1580.4,481.7 L1581.0,482.1 L1581.7,482.4 L1582.5,482.7 L1583.2,483.0 L1583.9,483.2 L1584.6,483.5 L1585.4,483.8 L1586.2,484.1 L1586.9,484.3 L1587.7,484.6 L1588.5,484.8 L1589.3,485.1 L1590.1,485.3 L1590.9,485.5 L1591.7,485.7 L1592.5,485.8 L1593.3,486.0 L1594.0,486.1 L1594.8,486.2 L1595.6,486.3 L1596.4,486.3 L1597.2,486.3 L1598.0,486.3 L1598.8,486.2 L1599.6,486.1 L1600.3,486.0 L1601.1,485.8 L1601.9,485.7 L1602.7,485.5 L1603.5,485.3 L1604.3,485.1 L1605.1,484.8 L1605.9,484.6 L1606.6,484.4 L1607.4,484.1 L1608.2,483.9 L1608.9,483.7 L1609.7,483.4 L1610.4,483.2 L1611.2,482.9 L1611.9,482.6 L1612.6,482.2 L1613.4,481.9 L1614.1,481.5 L1614.8,481.1 L1615.5,480.7 L1616.2,480.3 L1616.9,479.9 L1617.6,479.5 L1618.4,479.2 L1619.1,478.8 L1619.8,478.5 L1620.5,478.2 L1621.3,477.9 L1622.0,477.7 L1622.8,477.4 L1623.5,477.2 L1624.3,477.0 L1625.1,476.8 L1625.9,476.5 L1626.6,476.3 L1627.4,476.1 L1628.2,475.9 L1629.0,475.7 L1629.8,475.5 L1630.6,475.3 L1631.4,475.2 L1632.2,475.0 L1633.0,474.9 L1633.8,474.7 L1634.5,474.6 L1635.3,474.5 L1636.1,474.5 L1636.9,474.4 L1637.7,474.4 L1638.5,474.4 L1639.3,474.4 L1640.1,474.5 L1640.9,474.6 L1641.7,474.7 L1642.5,474.8 L1643.3,475.0 L1644.1,475.2 L1644.8,475.4 L1645.6,475.6 L1646.4,475.8 L1647.2,476.0 L1648.0,476.2 L1648.8,476.5 L1649.5,476.7 L1650.3,476.9 L1651.0,477.2 L1651.7,477.4 L1652.5,477.7 L1653.2,478.0 L1653.9,478.3 L1654.6,478.7 L1655.3,479.0 L1656.0,479.4 L1656.7,479.8 L1657.4,480.2 L1658.1,480.7 L1658.8,481.1 L1659.5,481.5 L1660.2,482.0 L1660.9,482.4 L1661.6,482.9 L1662.2,483.3 L1662.9,483.7 L1663.6,484.2 L1664.3,484.6 L1665.0,485.0 L1665.7,485.4 L1666.3,485.9 L1667.0,486.3 L1667.7,486.8 L1668.3,487.3 L1669.0,487.7 L1669.6,488.2 L1670.3,488.7 L1671.0,489.1 L1671.6,489.6 L1672.3,490.0 L1673.0,490.5 L1673.6,490.9 L1674.3,491.3 L1675.0,491.7 L1675.7,492.0 L1676.4,492.3 L1677.1,492.7 L1677.9,493.0 L1678.6,493.3 L1679.4,493.6 L1680.1,493.9 L1680.9,494.2 L1681.6,494.5 L1682.4,494.8 L1683.2,495.0 L1683.9,495.3 L1684.7,495.5 L1685.5,495.7 L1686.2,495.9 L1687.0,496.1 L1687.8,496.3 L1688.6,496.4 L1689.4,496.5 L1690.2,496.6 L1690.9,496.7 L1691.7,496.8 L1692.5,496.9 L1693.4,497.0 L1694.2,497.1 L1695.0,497.2 L1695.8,497.2 L1696.5,497.2 L1697.3,497.2 L1698.1,497.1 L1698.9,497.1 L1699.7,496.9 L1700.5,496.8 L1701.3,496.7 L1702.1,496.5 L1702.9,496.3 L1703.7,496.2 L1704.4,496.0 L1705.2,495.8 L1706.0,495.6 L1706.8,495.5 L1707.6,495.3 L1708.4,495.2 L1709.2,495.0 L1710.0,494.8 L1710.7,494.7 L1711.5,494.5 L1712.3,494.3 L1713.1,494.1 L1713.9,493.9 L1714.7,493.8 L1715.4,493.6 L1716.2,493.5 L1717.0,493.3 L1717.8,493.2 L1718.6,493.1 L1719.4,493.0 L1720.2,492.9 L1721.0,492.9 L1721.8,492.8 L1722.6,492.8 L1723.4,492.7 L1724.2,492.7 L1725.0,492.7 L1725.8,492.6 L1726.6,492.6 L1727.4,492.6 L1728.2,492.6 L1729.0,492.6 L1729.8,492.7 L1730.5,492.8 L1731.3,492.9 L1732.1,493.0 L1732.9,493.2 L1733.7,493.4 L1734.5,493.6 L1735.3,493.9 L1736.0,494.1 L1736.8,494.4 L1737.6,494.6 L1738.3,494.9 L1739.1,495.2 L1739.8,495.4 L1740.6,495.7 L1741.3,496.0 L1742.0,496.3 L1742.8,496.6 L1743.5,496.9 L1744.2,497.3 L1744.9,497.6 L1745.6,498.0 L1746.4,498.4 L1747.1,498.8 L1747.8,499.2 L1748.5,499.6 L1749.2,500.0 L1749.9,500.4 L1750.6,500.8 L1751.3,501.2 L1752.0,501.6 L1752.7,502.0 L1753.4,502.4 L1754.0,502.8 L1754.7,503.2 L1755.4,503.6 L1756.1,504.0 L1756.8,504.5 L1757.4,504.9 L1758.1,505.4 L1758.8,505.8 L1759.4,506.2 L1760.1,506.7 L1760.8,507.1 L1761.5,507.5 L1762.1,508.0 L1762.8,508.4 L1763.5,508.8 L1764.2,509.2 L1764.9,509.6 L1765.6,510.0 L1766.3,510.4 L1767.0,510.8 L1767.7,511.2 L1768.4,511.6 L1769.1,512.0 L1769.8,512.3 L1770.5,512.7 L1771.2,513.1 L1771.9,513.5 L1772.7,513.8 L1773.4,514.2 L1774.1,514.5 L1774.8,514.9 L1775.6,515.2 L1776.3,515.5 L1777.0,515.8 L1777.8,516.1 L1778.5,516.3 L1779.3,516.6 L1780.0,516.9 L1780.8,517.1 L1781.6,517.4 L1782.3,517.7 L1783.1,517.9 L1783.9,518.1 L1784.6,518.3 L1785.4,518.5 L1786.2,518.6 L1787.0,518.8 L1787.8,518.9 L1788.6,519.0 L1789.4,519.1 L1790.2,519.2 L1791.0,519.3 L1791.8,519.3 L1792.6,519.4 L1793.4,519.5 L1794.2,519.5 L1795.0,519.5 L1795.8,519.5 L1796.6,519.5 L1797.3,519.4 L1798.1,519.3 L1798.9,519.2 L1799.7,519.1 L1800.5,519.0 L1801.3,518.9 L1802.1,518.8 L1802.9,518.6 L1803.7,518.5 L1804.5,518.4 L1805.3,518.3 L1806.1,518.2 L1806.9,518.1 L1807.7,518.0 L1808.5,517.9 L1809.3,517.7 L1810.1,517.6 L1810.9,517.5 L1811.7,517.4 L1812.4,517.2 L1813.2,517.1 L1814.0,517.0 L1814.8,516.9 L1815.6,516.7 L1816.4,516.6 L1817.2,516.5 L1818.0,516.4 L1818.8,516.4 L1819.6,516.3 L1820.4,516.2 L1821.2,516.2 L1822.0,516.1 L1822.8,516.1 L1823.6,516.1 L1824.4,516.1 L1825.2,516.2 L1826.0,516.2 L1826.8,516.3 L1827.6,516.4 L1828.4,516.5 L1829.2,516.6 L1830.0,516.7 L1830.8,516.9 L1831.6,517.1 L1832.3,517.2 L1833.1,517.4 L1833.9,517.6 L1834.7,517.8 L1835.5,517.9 L1836.2,518.1 L1837.0,518.3 L1837.8,518.5 L1838.5,518.7 L1839.3,519.0 L1840.0,519.2 L1840.8,519.5 L1841.5,519.8 L1842.2,520.1 L1842.9,520.4 L1843.7,520.8 L1844.4,521.2 L1845.1,521.5 L1845.8,521.9 L1846.5,522.3 L1847.2,522.7 L1847.9,523.1 L1848.7,523.5 L1849.4,523.9 L1850.1,524.2 L1850.8,524.6 L1851.5,525.0 L1852.2,525.4 L1853.0,525.7 L1853.7,526.0 L1854.4,526.4 L1855.2,526.7 L1855.9,527.1 L1856.6,527.4 L1857.3,527.8 L1858.1,528.2 L1858.8,528.5 L1859.5,528.9 L1860.2,529.2 L1861.0,529.6 L1861.7,529.9 L1862.4,530.2 L1863.2,530.5 L1863.9,530.8 L1864.7,531.0 L1865.4,531.3 L1866.2,531.5 L1866.9,531.7 L1867.7,531.8 L1868.5,532.0 L1869.3,532.2 L1870.1,532.4 L1870.9,532.5 L1871.6,532.7 L1872.4,532.8 L1873.2,533.0 L1874.0,533.1 L1874.8,533.2 L1875.6,533.3 L1876.4,533.4 L1877.2,533.4 L1878.0,533.5 L1878.8,533.5 L1879.6,533.5 L1880.4,533.5 L1881.2,533.4 L1882.0,533.3 L1882.8,533.2 L1883.6,533.1 L1884.4,533.0 L1885.2,532.9 L1886.0,532.7 L1886.8,532.6 L1887.6,532.4 L1888.3,532.2 L1889.1,532.1 L1889.9,531.9 L1890.7,531.7 L1891.5,531.5 L1892.3,531.4 L1893.0,531.2 L1893.8,531.0 L1894.6,530.7 L1895.3,530.5 L1896.1,530.2 L1896.9,530.0 L1897.6,529.7 L1898.4,529.4 L1899.1,529.2 L1899.9,528.9 L1900.7,528.7 L1901.4,528.4 L1902.2,528.2 L1903.0,528.0 L1903.7,527.8 L1904.5,527.6 L1905.3,527.4 L1906.1,527.3 L1906.9,527.1 L1907.6,527.0 L1908.4,526.8 L1909.2,526.6 L1910.0,526.5 L1910.8,526.3 L1911.6,526.2 L1912.4,526.1 L1913.2,525.9 L1914.0,525.8 L1914.8,525.7 L1915.6,525.7 L1916.4,525.6 L1917.2,525.5 L1918.0,525.5 L1918.8,525.5 L1919.5,525.5 L1920.3,525.5 L1921.1,525.6 L1921.9,525.6 L1922.7,525.7 L1923.5,525.8 L1924.3,525.9 L1925.1,526.0 L1925.9,526.1 L1926.6,526.2 L1927.4,526.4 L1928.2,526.6 L1929.0,526.7 L1929.8,526.9 L1930.6,527.2 L1931.4,527.4 L1932.1,527.6 L1932.9,527.9 L1933.7,528.1 L1934.5,528.4" fill="none" stroke="#000" stroke-width="3.0" stroke-linejoin="round"/>
<path d="M1094.4,39.8 L1095.4,39.8 L1096.4,39.9 L1097.4,39.9 L1098.4,39.9 L1099.4,40.0 L1100.4,40.0 L1101.4,40.1 L1102.4,40.2 L1103.4,40.3 L1104.4,40.4 L1105.4,40.4 L1106.4,40.6 L1107.4,40.7 L1108.4,40.8 L1109.4,40.9 L1110.4,41.0 L1111.4,41.2 L1112.4,41.3 L1113.4,41.5 L1114.4,41.6 L1115.4,41.8 L1116.3,42.0 L1117.3,42.1 L1118.3,42.3 L1119.3,42.5 L1120.3,42.6 L1121.3,42.8 L1122.2,43.0 L1123.2,43.2 L1124.2,43.4 L1125.2,43.6 L1126.2,43.8 L1127.1,44.1 L1128.1,44.3 L1129.1,44.6 L1130.0,44.8 L1131.0,45.1 L1132.0,45.4 L1132.9,45.7 L1133.9,45.9 L1134.9,46.2 L1135.8,46.5 L1136.8,46.8 L1137.7,47.2 L1138.7,47.5 L1139.6,47.8 L1140.6,48.1 L1141.6,48.4 L1142.5,48.7 L1143.5,49.0 L1144.4,49.3 L1145.4,49.6 L1146.3,50.0 L1147.3,50.3 L1148.2,50.6 L1149.1,51.0 L1150.1,51.3 L1151.0,51.6 L1152.0,52.0 L1152.9,52.3 L1153.9,52.7 L1154.8,53.1 L1155.7,53.4 L1156.7,53.8 L1157.6,54.2 L1158.5,54.6 L1159.4,54.9 L1160.4,55.3 L1161.3,55.7 L1162.2,56.1 L1163.1,56.5 L1164.0,56.9 L1164.9,57.4 L1165.8,57.8 L1166.7,58.2 L1167.6,58.6 L1168.5,59.1 L1169.4,59.5 L1170.3,60.0 L1171.2,60.5 L1172.1,60.9 L1173.0,61.4 L1173.9,61.9 L1174.7,62.4 L1175.6,62.9 L1176.5,63.4 L1177.4,63.9 L1178.2,64.4 L1179.1,64.9 L1180.0,65.4 L1180.8,65.9 L1181.7,66.4 L1182.6,66.9 L1183.4,67.4 L1184.3,67.9 L1185.2,68.4 L1186.0,68.9 L1186.9,69.4 L1187.8,69.9 L1188.6,70.4 L1189.5,71.0 L1190.3,71.5 L1191.2,72.0 L1192.0,72.5 L1192.9,73.1 L1193.7,73.6 L1194.6,74.2 L1195.4,74.7 L1196.3,75.3 L1197.1,75.8 L1197.9,76.4 L1198.8,76.9 L1199.6,77.5 L1200.4,78.1 L1201.2,78.6 L1202.0,79.2 L1202.9,79.8 L1203.7,80.4 L1204.5,81.0 L1205.3,81.6 L1206.1,82.2 L1206.8,82.8 L1207.6,83.4 L1208.4,84.0 L1209.2,84.7 L1210.0,85.3 L1210.8,85.9 L1211.5,86.6 L1212.3,87.2 L1213.1,87.8 L1213.8,88.5 L1214.6,89.1 L1215.4,89.8 L1216.2,90.4 L1216.9,91.1 L1217.7,91.7 L1218.5,92.3 L1219.2,93.0 L1220.0,93.6 L1220.8,94.2 L1221.6,94.9 L1222.3,95.5 L1223.1,96.1 L1223.9,96.8 L1224.7,97.4 L1225.5,98.0 L1226.2,98.7 L1227.0,99.3 L1227.8,100.0 L1228.6,100.6 L1229.3,101.2 L1230.1,101.9 L1230.9,102.5 L1231.6,103.1 L1232.4,103.8 L1233.2,104.4 L1233.9,105.1 L1234.7,105.7 L1235.5,106.4 L1236.2,107.0 L1237.0,107.7 L1237.8,108.3 L1238.5,109.0 L1239.3,109.6 L1240.0,110.3 L1240.8,110.9 L1241.5,111.6 L1242.3,112.3 L1243.0,112.9 L1243.8,113.6 L1244.5,114.3 L1245.3,114.9 L1246.0,115.6 L1246.8,116.3 L1247.5,116.9 L1248.3,117.6 L1249.0,118.3 L1249.8,119.0 L1250.5,119.6 L1251.2,120.3 L1252.0,121.0 L1252.7,121.7 L1253.4,122.4 L1254.2,123.1 L1254.9,123.7 L1255.6,124.4 L1256.3,125.1 L1257.0,125.8 L1257.8,126.5 L1258.5,127.2 L1259.2,127.9 L1259.9,128.7 L1260.6,129.4 L1261.3,130.1 L1262.0,130.8 L1262.7,131.5 L1263.4,132.2 L1264.1,132.9 L1264.8,133.6 L1265.5,134.4 L1266.2,135.1 L1266.9,135.8 L1267.6,136.5 L1268.3,137.2 L1269.0,137.9 L1269.7,138.6 L1270.4,139.3 L1271.2,140.1 L1271.9,140.8 L1272.6,141.5 L1273.3,142.2 L1274.0,142.9 L1274.7,143.6 L1275.4,144.3 L1276.1,145.0 L1276.8,145.7 L1277.5,146.5 L1278.2,147.2 L1278.9,147.9 L1279.6,148.6 L1280.3,149.3 L1281.0,150.0 L1281.7,150.7 L1282.4,151.4 L1283.1,152.2 L1283.8,152.9 L1284.5,153.6 L1285.2,154.3 L1285.9,155.0 L1286.6,155.8 L1287.3,156.5 L1288.0,157.2 L1288.7,157.9 L1289.4,158.7 L1290.1,159.4 L1290.8,160.1 L1291.5,160.8 L1292.2,161.6 L1292.8,162.3 L1293.5,163.0 L1294.2,163.7 L1294.9,164.5 L1295.6,165.2 L1296.3,165.9 L1297.0,166.7 L1297.7,167.4 L1298.3,168.1 L1299.0,168.9 L1299.7,169.6 L1300.4,170.3 L1301.1,171.1 L1301.8,171.8 L1302.4,172.5 L1303.1,173.3 L1303.8,174.0 L1304.5,174.7 L1305.2,175.5 L1305.8,176.2 L1306.5,176.9 L1307.2,177.7 L1307.9,178.4 L1308.5,179.2 L1309.2,179.9 L1309.9,180.6 L1310.6,181.4 L1311.2,182.1 L1311.9,182.9 L1312.6,183.6 L1313.3,184.3 L1313.9,185.1 L1314.6,185.8 L1315.3,186.6 L1315.9,187.3 L1316.6,188.1 L1317.3,188.8 L1318.0,189.6 L1318.6,190.3 L1319.3,191.0 L1320.0,191.8 L1320.6,192.5 L1321.3,193.3 L1322.0,194.0 L1322.6,194.8 L1323.3,195.5 L1324.0,196.3 L1324.6,197.0 L1325.3,197.8 L1325.9,198.5 L1326.6,199.3 L1327.3,200.0 L1327.9,200.8 L1328.6,201.6 L1329.3,202.3 L1329.9,203.1 L1330.6,203.8 L1331.2,204.6 L1331.9,205.3 L1332.5,206.1 L1333.2,206.8 L1333.9,207.6 L1334.5,208.4 L1335.2,209.1 L1335.8,209.9 L1336.5,210.6 L1337.1,211.4 L1337.8,212.2 L1338.4,212.9 L1339.1,213.7 L1339.7,214.4 L1340.4,215.2 L1341.0,216.0 L1341.7,216.7 L1342.3,217.5 L1343.0,218.2 L1343.6,219.0 L1344.3,219.8 L1345.0,220.5 L1345.6,221.3 L1346.3,222.0 L1346.9,222.8 L1347.6,223.5 L1348.2,224.3 L1348.9,225.1 L1349.6,225.8 L1350.2,226.6 L1350.9,227.3 L1351.5,228.1 L1352.2,228.8 L1352.9,229.6 L1353.5,230.3 L1354.2,231.1 L1354.8,231.8 L1355.5,232.6 L1356.2,233.3 L1356.8,234.1 L1357.5,234.8 L1358.2,235.6 L1358.8,236.3 L1359.5,237.1 L1360.1,237.9 L1360.8,238.6 L1361.4,239.4 L1362.1,240.1 L1362.8,240.9 L1363.4,241.6 L1364.1,242.4 L1364.7,243.2 L1365.4,243.9 L1366.0,244.7 L1366.7,245.4 L1367.3,246.2 L1368.0,246.9 L1368.7,247.7 L1369.3,248.5 L1370.0,249.2 L1370.6,250.0 L1371.3,250.7 L1371.9,251.5 L1372.6,252.3 L1373.2,253.0 L1373.9,253.8 L1374.5,254.5 L1375.2,255.3 L1375.9,256.0 L1376.5,256.8 L1377.2,257.6 L1377.8,258.3 L1378.5,259.1 L1379.1,259.8 L1379.8,260.6 L1380.4,261.4 L1381.1,262.1 L1381.7,262.9 L1382.4,263.6 L1383.1,264.4 L1383.7,265.1 L1384.4,265.9 L1385.0,266.7 L1385.7,267.4 L1386.3,268.2 L1387.0,268.9 L1387.6,269.7 L1388.3,270.5 L1389.0,271.2 L1389.6,272.0 L1390.3,272.7 L1390.9,273.5 L1391.6,274.2 L1392.2,275.0 L1392.9,275.8 L1393.6,276.5 L1394.2,277.3 L1394.9,278.0 L1395.5,278.8 L1396.2,279.5 L1396.8,280.3 L1397.5,281.0 L1398.2,281.8 L1398.8,282.6 L1399.5,283.3 L1400.1,284.1 L1400.8,284.8 L1401.4,285.6 L1402.1,286.3 L1402.8,287.1 L1403.4,287.8 L1404.1,288.6 L1404.7,289.3 L1405.4,290.1 L1406.1,290.9 L1406.7,291.6 L1407.4,292.4 L1408.0,293.1 L1408.7,293.9 L1409.4,294.6 L1410.0,295.4 L1410.7,296.1 L1411.3,296.9 L1412.0,297.6 L1412.7,298.4 L1413.3,299.1 L1414.0,299.9 L1414.7,300.6 L1415.3,301.4 L1416.0,302.1 L1416.6,302.9 L1417.3,303.6 L1418.0,304.4 L1418.6,305.1 L1419.3,305.9 L1420.0,306.6 L1420.6,307.4 L1421.3,308.1 L1422.0,308.9 L1422.6,309.6 L1423.3,310.4 L1424.0,311.1 L1424.6,311.9 L1425.3,312.6 L1426.0,313.4 L1426.7,314.1 L1427.3,314.9 L1428.0,315.6 L1428.7,316.3 L1429.3,317.1 L1430.0,317.8 L1430.7,318.6 L1431.4,319.3 L1432.0,320.0 L1432.7,320.8 L1433.4,321.5 L1434.1,322.3 L1434.8,323.0 L1435.4,323.7 L1436.1,324.4 L1436.8,325.2 L1437.5,325.9 L1438.2,326.6 L1438.9,327.4 L1439.6,328.1 L1440.3,328.8 L1441.0,329.5 L1441.6,330.3 L1442.3,331.0 L1443.0,331.7 L1443.7,332.4 L1444.4,333.2 L1445.1,333.9 L1445.8,334.6 L1446.5,335.3 L1447.2,336.0 L1447.9,336.8 L1448.6,337.5 L1449.3,338.2 L1450.0,338.9 L1450.7,339.6 L1451.4,340.3 L1452.1,341.1 L1452.8,341.8 L1453.5,342.5 L1454.2,343.2 L1454.9,343.9 L1455.6,344.6 L1456.3,345.3 L1457.0,346.0 L1457.8,346.7 L1458.5,347.5 L1459.2,348.2 L1459.9,348.9 L1460.6,349.6 L1461.3,350.3 L1462.0,351.0 L1462.7,351.7 L1463.4,352.4 L1464.1,353.1 L1464.8,353.8 L1465.5,354.5 L1466.2,355.3 L1467.0,356.0 L1467.7,356.7 L1468.4,357.4 L1469.1,358.1 L1469.8,358.8 L1470.5,359.5 L1471.2,360.2 L1471.9,361.0 L1472.6,361.7 L1473.3,362.4 L1474.0,363.1 L1474.7,363.8 L1475.4,364.5 L1476.1,365.2 L1476.8,365.9 L1477.5,366.6 L1478.3,367.3 L1479.0,368.0 L1479.7,368.7 L1480.4,369.4 L1481.1,370.1 L1481.8,370.8 L1482.6,371.5 L1483.3,372.2 L1484.0,372.9 L1484.7,373.6 L1485.5,374.3 L1486.2,375.0 L1486.9,375.7 L1487.7,376.3 L1488.4,377.0 L1489.1,377.7 L1489.9,378.4 L1490.6,379.1 L1491.3,379.8 L1492.1,380.4 L1492.8,381.1 L1493.5,381.8 L1494.3,382.5 L1495.0,383.1 L1495.8,383.8 L1496.5,384.5 L1497.3,385.1 L1498.0,385.8 L1498.8,386.5 L1499.5,387.1 L1500.3,387.8 L1501.0,388.5 L1501.8,389.1 L1502.5,389.8 L1503.3,390.4 L1504.0,391.1 L1504.8,391.7 L1505.6,392.4 L1506.3,393.1 L1507.1,393.7 L1507.8,394.4 L1508.6,395.0 L1509.4,395.6 L1510.1,396.3 L1510.9,396.9 L1511.7,397.6 L1512.4,398.2 L1513.2,398.9 L1514.0,399.5 L1514.7,400.2 L1515.5,400.8 L1516.3,401.5 L1517.0,402.1 L1517.8,402.7 L1518.6,403.4 L1519.4,404.0 L1520.1,404.7 L1520.9,405.3 L1521.7,405.9 L1522.4,406.6 L1523.2,407.2 L1524.0,407.9 L1524.8,408.5 L1525.5,409.1 L1526.3,409.8 L1527.1,410.4 L1527.9,411.0 L1528.7,411.6 L1529.4,412.3 L1530.2,412.9 L1531.0,413.5 L1531.8,414.1 L1532.6,414.7 L1533.4,415.3 L1534.2,415.9 L1535.0,416.6 L1535.8,417.2 L1536.6,417.8 L1537.4,418.4 L1538.2,419.0 L1539.0,419.6 L1539.8,420.2 L1540.6,420.8 L1541.4,421.4 L1542.2,422.0 L1543.0,422.5 L1543.8,423.1 L1544.6,423.7 L1545.5,424.3 L1546.3,424.9 L1547.1,425.5 L1547.9,426.0 L1548.7,426.6 L1549.6,427.2 L1550.4,427.7 L1551.2,428.3 L1552.1,428.8 L1552.9,429.4 L1553.7,430.0 L1554.6,430.5 L1555.4,431.1 L1556.2,431.6 L1557.1,432.2 L1557.9,432.7 L1558.8,433.2 L1559.6,433.8 L1560.5,434.3 L1561.3,434.8 L1562.2,435.4 L1563.0,435.9 L1563.9,436.4 L1564.7,437.0 L1565.6,437.5 L1566.4,438.0 L1567.3,438.5 L1568.2,439.0 L1569.0,439.5 L1569.9,440.0 L1570.7,440.5 L1571.6,441.1 L1572.5,441.6 L1573.3,442.1 L1574.2,442.6 L1575.1,443.1 L1575.9,443.6 L1576.8,444.0 L1577.7,444.5 L1578.6,445.0 L1579.4,445.5 L1580.3,446.0 L1581.2,446.5 L1582.1,447.0 L1583.0,447.4 L1583.8,447.9 L1584.7,448.4 L1585.6,448.8 L1586.5,449.3 L1587.4,449.8 L1588.3,450.2 L1589.2,450.7 L1590.1,451.1 L1591.0,451.6 L1591.9,452.0 L1592.7,452.5 L1593.6,452.9 L1594.5,453.4 L1595.4,453.8 L1596.3,454.3 L1597.2,454.7 L1598.1,455.2 L1599.1,455.6 L1600.0,456.0 L1600.9,456.5 L1601.8,456.9 L1602.7,457.3 L1603.6,457.7 L1604.5,458.1 L1605.4,458.5 L1606.3,458.9 L1607.3,459.3 L1608.2,459.7 L1609.1,460.1 L1610.0,460.5 L1610.9,460.9 L1611.9,461.3 L1612.8,461.6 L1613.7,462.0 L1614.7,462.4 L1615.6,462.7 L1616.5,463.1 L1617.5,463.4 L1618.4,463.8 L1619.3,464.2 L1620.3,464.5 L1621.2,464.8 L1622.2,465.2 L1623.1,465.5 L1624.1,465.9 L1625.0,466.2 L1626.0,466.5 L1626.9,466.8 L1627.9,467.2 L1628.8,467.5 L1629.8,467.8 L1630.7,468.1 L1631.6,468.5 L1632.6,468.8 L1633.5,469.1 L1634.5,469.4 L1635.5,469.7 L1636.4,470.0 L1637.4,470.4 L1638.3,470.7 L1639.3,471.0 L1640.2,471.3 L1641.2,471.6 L1642.1,471.9 L1643.1,472.2 L1644.1,472.5 L1645.0,472.8 L1646.0,473.1 L1646.9,473.3 L1647.9,473.6 L1648.9,473.9 L1649.8,474.1 L1650.8,474.4 L1651.8,474.6 L1652.7,474.9 L1653.7,475.1 L1654.7,475.4 L1655.6,475.6 L1656.6,475.8 L1657.6,476.0 L1658.6,476.3 L1659.6,476.5 L1660.5,476.7 L1661.5,476.9 L1662.5,477.1 L1663.5,477.3 L1664.5,477.5 L1665.4,477.7 L1666.4,477.9 L1667.4,478.1 L1668.4,478.3 L1669.4,478.5 L1670.4,478.7 L1671.3,478.9 L1672.3,479.1 L1673.3,479.2 L1674.3,479.4 L1675.3,479.6 L1676.3,479.8 L1677.3,480.0 L1678.2,480.2 L1679.2,480.4 L1680.2,480.5 L1681.2,480.7 L1682.2,480.9 L1683.2,481.1 L1684.2,481.2 L1685.1,481.4 L1686.1,481.6 L1687.1,481.7 L1688.1,481.9 L1689.1,482.1 L1690.1,482.2 L1691.1,482.4 L1692.1,482.5 L1693.1,482.7 L1694.0,482.9 L1695.0,483.0 L1696.0,483.2 L1697.0,483.3 L1698.0,483.5 L1699.0,483.6 L1700.0,483.8 L1701.0,483.9 L1702.0,484.0 L1703.0,484.2 L1704.0,484.3 L1704.9,484.5 L1705.9,484.6 L1706.9,484.7 L1707.9,484.9 L1708.9,485.0 L1709.9,485.1 L1710.9,485.3 L1711.9,485.4 L1712.9,485.5 L1713.9,485.6 L1714.9,485.8 L1715.9,485.9 L1716.9,486.0 L1717.9,486.1 L1718.9,486.2 L1719.9,486.4 L1720.9,486.5 L1721.8,486.6 L1722.8,486.7 L1723.8,486.8 L1724.8,486.9 L1725.8,487.0 L1726.8,487.2 L1727.8,487.3 L1728.8,487.4 L1729.8,487.5 L1730.8,487.6 L1731.8,487.7 L1732.8,487.8 L1733.8,487.9 L1734.8,488.0 L1735.8,488.1 L1736.8,488.2 L1737.8,488.3 L1738.8,488.4 L1739.8,488.5 L1740.8,488.6 L1741.8,488.7 L1742.8,488.8 L1743.8,488.8 L1744.8,488.9 L1745.8,489.0 L1746.8,489.1 L1747.8,489.2 L1748.8,489.3 L1749.8,489.3 L1750.8,489.4 L1751.8,489.5 L1752.8,489.6 L1753.8,489.7 L1754.8,489.7 L1755.8,489.8 L1756.8,489.9 L1757.8,490.0 L1758.8,490.1 L1759.8,490.2 L1760.7,490.2 L1761.7,490.3 L1762.7,490.4 L1763.7,490.5 L1764.7,490.6 L1765.7,490.7 L1766.7,490.8 L1767.7,490.9 L1768.7,491.0 L1769.7,491.1 L1770.7,491.2 L1771.7,491.3 L1772.7,491.4 L1773.7,491.5 L1774.7,491.6 L1775.7,491.7 L1776.7,491.8 L1777.7,491.9 L1778.7,492.0 L1779.7,492.1 L1780.7,492.2 L1781.7,492.3 L1782.7,492.4 L1783.7,492.5 L1784.7,492.6 L1785.7,492.7 L1786.7,492.8 L1787.7,492.9 L1788.7,493.0 L1789.7,493.1 L1790.7,493.2 L1791.7,493.3 L1792.7,493.4 L1793.6,493.5 L1794.6,493.6 L1795.6,493.7 L1796.6,493.9 L1797.6,494.0 L1798.6,494.1 L1799.6,494.2 L1800.6,494.3 L1801.6,494.4 L1802.6,494.5 L1803.6,494.6 L1804.6,494.7 L1805.6,494.8 L1806.6,495.0 L1807.6,495.1 L1808.6,495.2 L1809.6,495.3 L1810.6,495.4 L1811.6,495.6 L1812.6,495.7 L1813.6,495.8 L1814.6,495.9 L1815.5,496.1 L1816.5,496.2 L1817.5,496.3 L1818.5,496.4 L1819.5,496.6 L1820.5,496.7 L1821.5,496.8 L1822.5,497.0 L1823.5,497.1 L1824.5,497.2 L1825.5,497.3 L1826.5,497.5 L1827.5,497.6 L1828.5,497.7 L1829.5,497.8 L1830.5,498.0 L1831.4,498.1 L1832.4,498.2 L1833.4,498.3 L1834.4,498.4 L1835.4,498.6 L1836.4,498.7 L1837.4,498.8 L1838.4,498.9 L1839.4,499.0 L1840.4,499.2 L1841.4,499.3 L1842.4,499.4 L1843.4,499.5 L1844.4,499.6 L1845.4,499.8 L1846.4,499.9 L1847.4,500.0 L1848.4,500.1 L1849.3,500.3 L1850.3,500.4 L1851.3,500.5 L1852.3,500.7 L1853.3,500.8 L1854.3,500.9 L1855.3,501.1 L1856.3,501.2 L1857.3,501.3 L1858.3,501.5 L1859.3,501.6 L1860.3,501.8 L1861.3,501.9 L1862.2,502.0 L1863.2,502.2 L1864.2,502.3 L1865.2,502.5 L1866.2,502.6 L1867.2,502.8 L1868.2,502.9 L1869.2,503.1 L1870.2,503.2 L1871.2,503.4 L1872.2,503.5 L1873.2,503.6 L1874.1,503.8 L1875.1,503.9 L1876.1,504.1 L1877.1,504.2 L1878.1,504.4 L1879.1,504.5 L1880.1,504.6 L1881.1,504.8 L1882.1,504.9 L1883.1,505.1 L1884.1,505.2 L1885.1,505.4 L1886.0,505.5 L1887.0,505.6 L1888.0,505.8 L1889.0,505.9 L1890.0,506.1 L1891.0,506.2 L1892.0,506.4 L1893.0,506.5 L1894.0,506.7 L1895.0,506.8 L1896.0,507.0 L1896.9,507.1 L1897.9,507.3 L1898.9,507.5 L1899.9,507.6 L1900.9,507.8 L1901.9,507.9 L1902.9,508.1 L1903.9,508.3 L1904.9,508.4 L1905.8,508.6 L1906.8,508.8 L1907.8,508.9 L1908.8,509.1 L1909.8,509.3 L1910.8,509.4 L1911.8,509.6 L1912.8,509.8 L1913.7,509.9 L1914.7,510.1 L1915.7,510.3 L1916.7,510.4 L1917.7,510.6 L1918.7,510.8 L1919.7,510.9 L1920.7,511.1 L1921.7,511.3 L1922.6,511.4 L1923.6,511.6 L1924.6,511.8 L1925.6,511.9 L1926.6,512.1 L1927.6,512.2 L1928.6,512.4 L1929.6,512.6 L1930.5,512.7 L1931.5,512.9 L1932.5,513.1 L1933.5,513.2 L1934.5,513.4" fill="none" stroke="#000" stroke-width="3.0" stroke-dasharray="11.0 11.4" stroke-linejoin="round"/>
<text transform="translate(1210.20,586.00) scale(1,1.02)" font-size="27.3" text-anchor="middle" fill="#262626" stroke="#262626" stroke-width="0.25">50</text>
<text transform="translate(1329.93,586.00) scale(1,1.02)" font-size="27.3" text-anchor="middle" fill="#262626" stroke="#262626" stroke-width="0.25">100</text>
<text transform="translate(1449.67,586.00) scale(1,1.02)" font-size="27.3" text-anchor="middle" fill="#262626" stroke="#262626" stroke-width="0.25">150</text>
<text transform="translate(1569.40,586.00) scale(1,1.02)" font-size="27.3" text-anchor="middle" fill="#262626" stroke="#262626" stroke-width="0.25">200</text>
<text transform="translate(1689.13,586.00) scale(1,1.02)" font-size="27.3" text-anchor="middle" fill="#262626" stroke="#262626" stroke-width="0.25">250</text>
<text transform="translate(1808.87,586.00) scale(1,1.02)" font-size="27.3" text-anchor="middle" fill="#262626" stroke="#262626" stroke-width="0.25">300</text>
<text transform="translate(1928.60,586.00) scale(1,1.02)" font-size="27.3" text-anchor="middle" fill="#262626" stroke="#262626" stroke-width="0.25">350</text>
<text transform="translate(1084.80,560.70) scale(1,1.02)" font-size="27.3" text-anchor="end" fill="#262626" stroke="#262626" stroke-width="0.25">0</text>
<text transform="translate(1084.80,458.46) scale(1,1.02)" font-size="27.3" text-anchor="end" fill="#262626" stroke="#262626" stroke-width="0.25">0.2</text>
<text transform="translate(1084.80,356.22) scale(1,1.02)" font-size="27.3" text-anchor="end" fill="#262626" stroke="#262626" stroke-width="0.25">0.4</text>
<text transform="translate(1084.80,253.98) scale(1,1.02)" font-size="27.3" text-anchor="end" fill="#262626" stroke="#262626" stroke-width="0.25">0.6</text>
<text transform="translate(1084.80,151.74) scale(1,1.02)" font-size="27.3" text-anchor="end" fill="#262626" stroke="#262626" stroke-width="0.25">0.8</text>
<text transform="translate(1084.80,49.50) scale(1,1.02)" font-size="27.3" text-anchor="end" fill="#262626" stroke="#262626" stroke-width="0.25">1</text>
<text transform="translate(1514.60,621.80) scale(1,1.02)" font-size="29.2" text-anchor="middle" fill="#262626" stroke="#262626" stroke-width="0.25">Frequency (Hz)</text>
<text transform="translate(1034.40,295.30) rotate(-90) scale(1,1.02)" font-size="30.46" text-anchor="middle" fill="#262626" stroke="#262626" stroke-width="0.25">Normalized amplitude weighting spectrum</text>
<text transform="translate(974.90,23.50) scale(1,1.02)" font-size="27.6" font-weight="bold" text-anchor="start" fill="#000" stroke="#000" stroke-width="0.25">B</text>
<rect x="1356.3" y="54.8" width="563.1000000000001" height="97.50000000000001" fill="#fff" stroke="#5c5c5c" stroke-width="1.4"/>
<path d="M1364,73.8H1422.2" stroke="#808080" stroke-width="1.35"/>
<path d="M1364,103.7H1422.2" stroke="#000" stroke-width="3.0"/>
<path d="M1364,133.8H1422.2" stroke="#000" stroke-width="3.0" stroke-dasharray="11.3 11.2"/>
<text transform="translate(1428.00,82.80) scale(1,1.02)" font-size="24.8" text-anchor="start" fill="#000" stroke="#000" stroke-width="0.25">2034 snapshots of airgun pulses</text>
<text transform="translate(1428.00,112.90) scale(1,1.02)" font-size="24.8" text-anchor="start" fill="#000" stroke="#000" stroke-width="0.25">Intensity average</text>
<text transform="translate(1428.00,143.10) scale(1,1.02)" font-size="24.8" text-anchor="start" fill="#000" stroke="#000" stroke-width="0.25">Intensity average w/o surface-reflected path</text>
</g>
</svg>
</body></html>
